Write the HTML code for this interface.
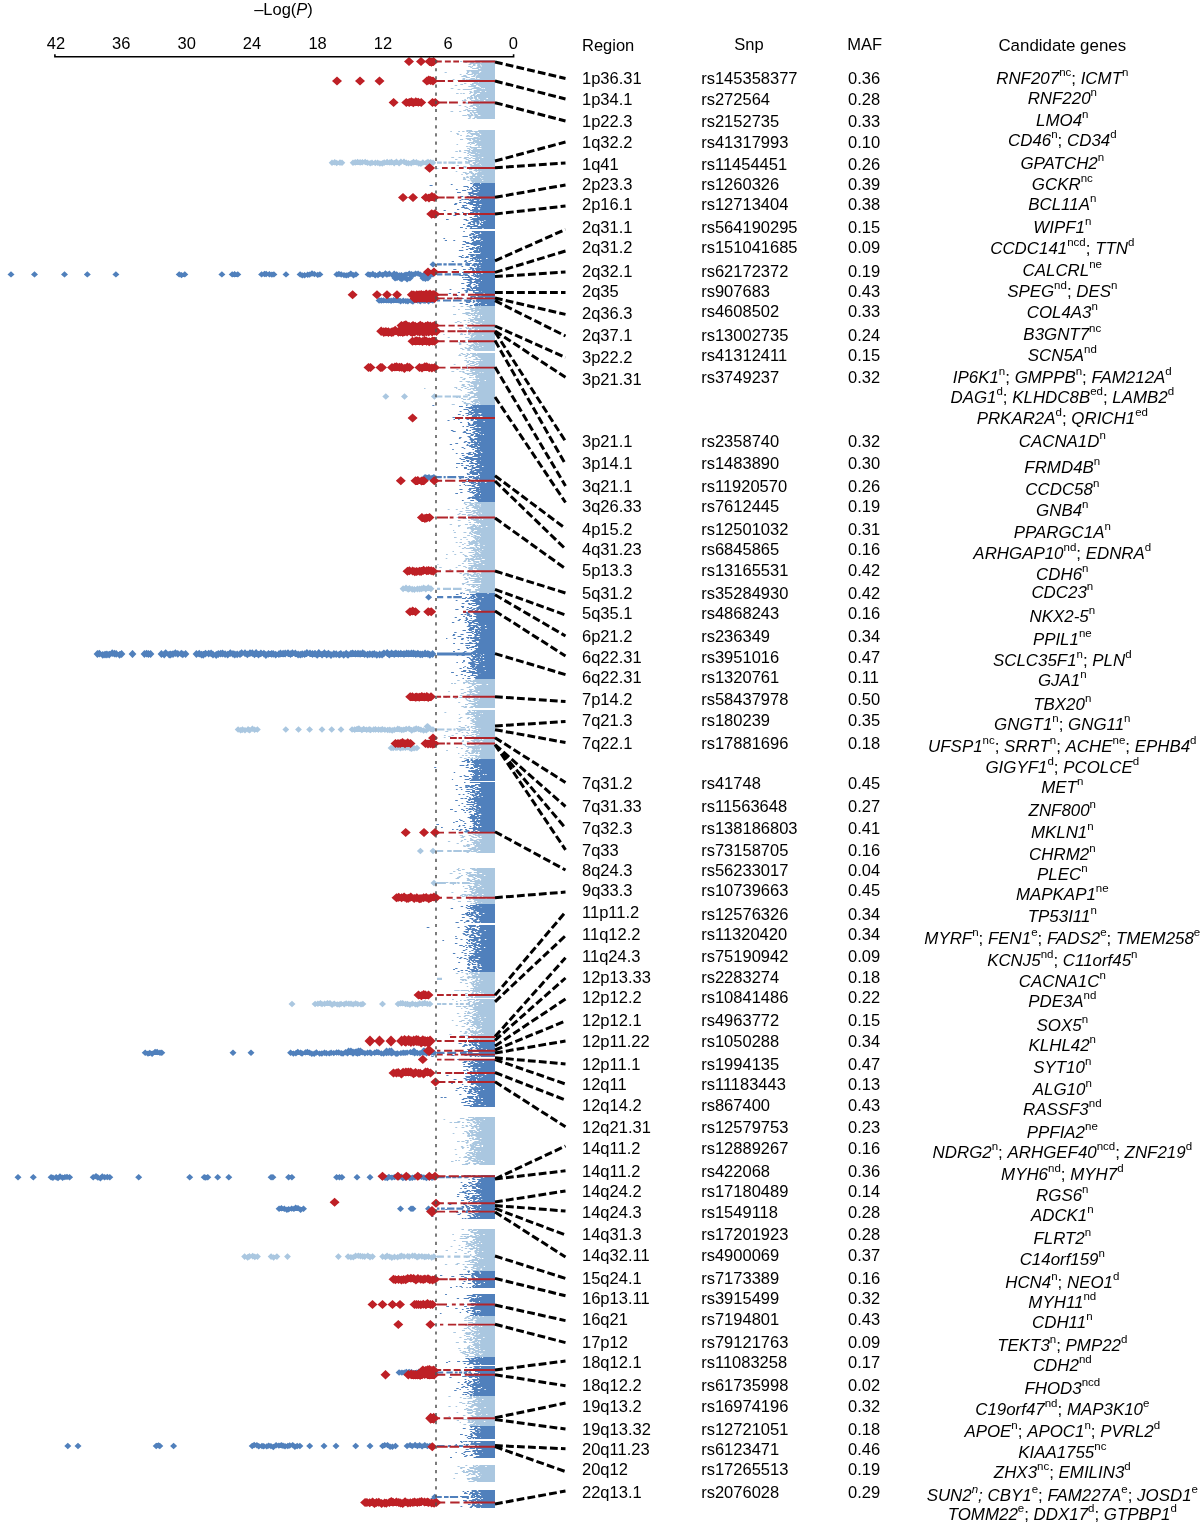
<!DOCTYPE html><html><head><meta charset="utf-8"><style>html,body{margin:0;padding:0;background:#fff}body{width:1200px;height:1525px;overflow:hidden}svg{display:block;will-change:transform}text{font-family:"Liberation Sans",sans-serif;font-size:16.5px;fill:#000}</style></head><body>
<svg width="1200" height="1525" viewBox="0 0 1200 1525">
<path fill="none" stroke="#aac7e0" stroke-width="1.05" d="M475.1 60.5h19.9M456.8 61.5h1.7M460.1 61.5h2.1M464.1 61.5h2.9M467.8 61.5h2.4M471.9 61.5h5.1M478.0 61.5h17.0M464.4 62.5h2.8M470.3 62.5h3.6M475.8 62.5h4.3M481.7 62.5h13.3M469.7 63.5h25.3M468.6 64.5h2.7M473.0 64.5h2.5M477.3 64.5h2.9M480.7 64.5h14.3M472.8 65.5h2.6M477.1 65.5h3.4M481.5 65.5h13.5M468.2 66.5h2.7M471.6 66.5h1.4M477.5 66.5h3.5M481.5 66.5h13.5M470.3 67.5h1.9M476.6 67.5h18.4M472.1 68.5h6.7M480.4 68.5h14.6M477.9 69.5h17.1M466.5 70.5h28.5M466.9 71.5h2.8M470.5 71.5h8.9M481.2 71.5h13.8M444.6 72.5h2.2M466.9 72.5h2.2M471.7 72.5h7.5M480.2 72.5h14.8M466.0 73.5h2.0M471.6 73.5h23.4M459.8 74.5h1.7M467.5 74.5h5.3M473.9 74.5h2.7M477.5 74.5h17.5M463.3 75.5h3.1M473.3 75.5h2.4M476.4 75.5h18.6M461.4 76.5h5.9M471.3 76.5h3.9M475.9 76.5h19.1M465.7 77.5h4.2M475.6 77.5h19.4M462.6 78.5h2.6M470.4 78.5h4.5M475.8 78.5h1.4M479.6 78.5h15.4M452.7 79.5h1.8M462.4 79.5h2.8M466.2 79.5h1.4M468.4 79.5h26.6M457.1 80.5h1.9M474.3 80.5h20.7M464.9 81.5h2.2M472.3 81.5h1.9M476.7 81.5h1.4M480.0 81.5h1.4M482.0 81.5h13.0M473.7 82.5h4.3M478.5 82.5h16.5M464.0 83.5h2.3M472.0 83.5h23.0M460.3 84.5h2.8M470.1 84.5h3.6M475.9 84.5h19.1M454.7 85.5h2.5M471.2 85.5h5.2M478.1 85.5h16.9M468.3 86.5h7.6M479.6 86.5h15.4M473.6 87.5h5.9M480.9 87.5h14.1M450.7 88.5h2.7M471.5 88.5h10.0M482.8 88.5h0.7M484.9 88.5h10.1M457.6 89.5h2.7M462.8 89.5h9.3M476.5 89.5h18.5M473.8 90.5h21.2M469.5 91.5h2.2M473.6 91.5h6.2M481.4 91.5h3.7M486.2 91.5h8.8M470.0 92.5h2.7M473.7 92.5h21.3M456.1 93.5h2.5M460.3 93.5h1.5M462.7 93.5h2.1M469.2 93.5h1.6M473.8 93.5h3.0M479.9 93.5h15.1M473.0 94.5h2.5M477.0 94.5h18.0M470.8 95.5h4.6M475.9 95.5h19.1M470.0 96.5h2.1M474.0 96.5h21.0M467.2 97.5h2.7M470.3 97.5h2.9M474.0 97.5h3.0M478.2 97.5h16.8M467.0 98.5h1.2M469.3 98.5h4.0M474.2 98.5h2.8M478.4 98.5h8.0M488.0 98.5h7.0M464.3 99.5h1.6M469.9 99.5h1.6M475.1 99.5h3.4M479.7 99.5h15.3M461.9 100.5h1.7M464.1 100.5h2.5M471.0 100.5h12.9M485.3 100.5h9.7M473.7 101.5h5.3M479.6 101.5h15.4M465.2 102.5h2.4M468.4 102.5h26.6M466.1 103.5h2.8M470.6 103.5h1.4M472.7 103.5h22.3M472.8 104.5h22.2M458.7 105.5h2.5M470.4 105.5h9.1M480.0 105.5h15.0M464.5 106.5h2.0M469.5 106.5h3.5M476.0 106.5h19.0M466.4 107.5h1.6M473.0 107.5h1.6M477.1 107.5h17.9M468.6 108.5h1.9M472.7 108.5h22.3M465.4 109.5h2.7M475.7 109.5h19.3M463.3 110.5h2.6M467.1 110.5h27.9M450.5 111.5h2.7M459.1 111.5h2.2M467.7 111.5h2.1M472.1 111.5h1.7M476.5 111.5h18.5M469.8 112.5h1.8M472.4 112.5h22.6M469.9 113.5h2.1M473.7 113.5h1.8M477.7 113.5h17.3M467.0 114.5h2.7M470.8 114.5h2.3M474.1 114.5h3.4M478.0 114.5h17.0M462.3 115.5h4.5M467.7 115.5h5.8M474.3 115.5h3.8M480.4 115.5h14.6M468.6 116.5h2.7M474.6 116.5h20.4M469.3 117.5h1.6M474.1 117.5h20.9M467.9 118.5h2.6M472.4 118.5h2.6M476.7 118.5h18.3M466.3 130.5h5.8M478.2 130.5h16.8M450.3 131.5h1.6M458.2 131.5h1.8M462.2 131.5h2.3M466.3 131.5h1.7M468.4 131.5h4.8M473.7 131.5h21.3M468.0 132.5h2.5M475.1 132.5h2.4M479.0 132.5h16.0M456.3 133.5h2.3M467.1 133.5h1.3M469.5 133.5h10.1M480.2 133.5h14.8M457.0 134.5h2.2M470.7 134.5h9.1M481.2 134.5h13.8M460.2 135.5h1.7M466.6 135.5h2.8M471.8 135.5h1.3M476.0 135.5h19.0M465.9 136.5h2.0M468.3 136.5h4.2M477.7 136.5h17.3M473.5 137.5h5.3M479.4 137.5h15.6M465.7 138.5h29.3M460.0 139.5h3.1M467.2 139.5h3.7M472.1 139.5h3.3M476.7 139.5h18.3M469.3 140.5h2.0M473.2 140.5h6.0M480.4 140.5h14.6M472.8 141.5h22.2M468.4 142.5h6.0M474.9 142.5h20.1M467.3 143.5h2.6M471.2 143.5h3.8M476.7 143.5h18.3M456.5 144.5h1.6M470.0 144.5h1.3M475.9 144.5h19.1M474.7 145.5h2.1M477.6 145.5h17.4M466.1 146.5h2.4M469.3 146.5h1.9M478.3 146.5h1.5M481.3 146.5h13.7M469.9 147.5h25.1M467.2 148.5h2.6M471.3 148.5h1.3M473.3 148.5h3.7M481.5 148.5h13.5M469.0 149.5h1.8M472.8 149.5h22.2M459.2 150.5h1.6M464.2 150.5h5.7M470.9 150.5h24.1M455.3 151.5h2.6M459.0 151.5h2.2M467.4 151.5h2.9M471.9 151.5h23.1M463.7 152.5h2.5M468.2 152.5h7.7M476.6 152.5h18.4M467.2 153.5h1.9M470.7 153.5h7.8M479.4 153.5h15.6M469.1 154.5h1.6M474.9 154.5h20.1M467.3 155.5h1.7M470.1 155.5h24.9M472.6 156.5h6.0M479.1 156.5h15.9M451.3 157.5h2.8M458.5 157.5h2.9M464.2 157.5h4.7M470.8 157.5h1.6M475.5 157.5h6.2M483.3 157.5h11.7M463.7 158.5h2.9M468.8 158.5h2.1M472.5 158.5h22.5M455.1 159.5h2.3M465.8 159.5h2.9M474.9 159.5h4.1M480.0 159.5h15.0M468.0 160.5h27.0M465.0 161.5h1.8M468.1 161.5h4.2M475.1 161.5h19.9M465.9 162.5h1.5M472.7 162.5h4.9M478.5 162.5h16.5M452.4 163.5h2.0M472.6 163.5h3.7M477.3 163.5h17.7M469.4 164.5h2.5M473.9 164.5h5.9M480.7 164.5h14.3M456.7 165.5h2.2M470.3 165.5h10.6M481.4 165.5h13.6M463.3 166.5h3.1M470.3 166.5h24.7M462.3 167.5h1.4M464.5 167.5h1.6M470.8 167.5h3.1M476.1 167.5h3.0M479.7 167.5h15.3M435.8 168.5h2.6M467.5 168.5h2.2M473.2 168.5h21.8M468.9 169.5h3.3M474.6 169.5h2.5M477.9 169.5h17.1M473.6 170.5h21.4M455.7 171.5h1.6M469.2 171.5h2.9M475.5 171.5h1.7M478.5 171.5h2.1M481.2 171.5h13.8M462.8 172.5h3.7M469.0 172.5h3.8M477.5 172.5h17.5M465.0 173.5h4.2M470.7 173.5h3.3M474.8 173.5h20.2M461.3 174.5h1.5M466.1 174.5h1.5M472.3 174.5h3.9M476.8 174.5h18.2M472.2 175.5h3.2M477.1 175.5h5.2M483.4 175.5h11.6M466.5 176.5h1.9M469.7 176.5h25.3M463.1 177.5h2.1M466.2 177.5h2.9M470.4 177.5h2.6M474.8 177.5h5.6M481.0 177.5h14.0M463.2 178.5h2.4M469.6 178.5h11.8M482.3 178.5h12.7M462.9 179.5h3.2M470.2 179.5h1.6M472.3 179.5h22.7M467.5 180.5h2.0M470.5 180.5h11.7M483.3 180.5h11.7M471.4 181.5h23.6M472.0 182.5h2.0M474.5 182.5h20.5M452.8 306.5h2.4M460.6 306.5h2.7M466.7 306.5h4.8M474.8 306.5h20.2M469.3 307.5h2.2M475.2 307.5h19.8M470.4 308.5h9.2M480.3 308.5h14.7M458.0 309.5h1.8M465.0 309.5h8.2M474.9 309.5h20.1M471.2 310.5h23.8M471.3 311.5h2.2M474.8 311.5h2.5M479.0 311.5h16.0M465.4 312.5h4.4M474.0 312.5h2.7M477.4 312.5h17.6M462.3 313.5h32.7M453.1 314.5h3.0M465.8 314.5h2.6M471.0 314.5h1.7M473.7 314.5h1.4M477.1 314.5h17.9M467.8 315.5h3.2M472.2 315.5h6.3M479.9 315.5h1.1M482.1 315.5h12.9M475.2 316.5h3.1M479.6 316.5h15.4M471.9 317.5h2.4M474.9 317.5h2.6M479.9 317.5h15.1M468.4 318.5h2.0M473.9 318.5h21.1M469.9 319.5h25.1M463.7 320.5h2.4M467.6 320.5h1.8M470.0 320.5h3.4M474.9 320.5h8.1M484.3 320.5h10.7M457.1 321.5h2.5M470.0 321.5h4.6M478.2 321.5h16.8M454.8 322.5h2.4M459.9 322.5h1.7M467.7 322.5h1.9M472.8 322.5h22.2M471.3 323.5h1.6M475.5 323.5h5.0M481.7 323.5h13.3M465.3 324.5h1.7M472.0 324.5h2.0M480.0 324.5h15.0M470.0 325.5h5.0M476.2 325.5h7.6M485.0 325.5h10.0M473.5 326.5h21.5M465.4 327.5h1.5M467.6 327.5h1.4M471.9 327.5h23.1M459.2 328.5h2.6M466.1 328.5h5.0M471.6 328.5h2.1M474.5 328.5h20.5M469.1 329.5h2.4M474.4 329.5h3.5M479.1 329.5h15.9M474.9 330.5h1.2M479.2 330.5h1.3M482.1 330.5h12.9M464.8 331.5h1.5M467.0 331.5h3.5M473.4 331.5h1.3M479.4 331.5h15.6M468.3 332.5h2.5M474.0 332.5h21.0M460.6 333.5h1.9M468.1 333.5h3.4M472.1 333.5h22.9M443.3 334.5h1.4M460.0 334.5h3.0M463.9 334.5h2.1M468.1 334.5h2.1M471.4 334.5h23.6M470.4 335.5h4.1M475.5 335.5h6.8M483.4 335.5h11.6M470.9 336.5h2.1M474.4 336.5h20.6M447.7 337.5h2.1M465.1 337.5h4.2M470.9 337.5h1.8M473.3 337.5h21.7M469.6 338.5h25.4M467.8 339.5h27.2M473.8 340.5h21.2M471.8 341.5h7.8M481.1 341.5h13.9M458.5 342.5h1.9M462.8 342.5h3.8M468.4 342.5h3.1M472.7 342.5h4.3M478.1 342.5h16.9M459.0 343.5h2.3M473.6 343.5h4.5M478.8 343.5h16.2M458.9 344.5h2.4M466.6 344.5h1.5M471.4 344.5h2.9M474.9 344.5h20.1M468.4 345.5h7.0M476.0 345.5h1.5M478.5 345.5h16.5M469.7 346.5h2.7M473.2 346.5h9.0M483.4 346.5h11.6M464.6 347.5h1.9M468.6 347.5h2.5M472.9 347.5h6.4M480.4 347.5h14.6M460.2 348.5h2.5M465.3 348.5h7.8M473.6 348.5h3.2M477.2 348.5h17.8M462.1 349.5h2.3M467.3 349.5h2.7M472.7 349.5h22.3M467.3 350.5h3.4M474.4 350.5h20.6M460.7 353.5h2.4M466.4 353.5h2.1M470.0 353.5h6.2M477.1 353.5h17.9M459.2 354.5h1.3M462.4 354.5h3.1M467.2 354.5h2.8M472.2 354.5h22.8M458.4 355.5h2.9M465.6 355.5h2.4M472.2 355.5h2.0M474.6 355.5h20.4M464.5 356.5h2.6M471.3 356.5h4.1M477.7 356.5h17.3M468.5 357.5h2.6M475.4 357.5h1.9M478.5 357.5h16.5M465.6 358.5h1.7M475.5 358.5h2.3M480.5 358.5h14.5M473.3 359.5h21.7M464.3 360.5h2.8M468.6 360.5h1.5M479.8 360.5h1.5M482.4 360.5h12.6M466.6 361.5h2.5M470.0 361.5h4.5M476.3 361.5h18.7M466.7 362.5h2.2M472.2 362.5h4.2M478.3 362.5h16.7M469.5 363.5h4.7M476.0 363.5h19.0M453.7 364.5h1.8M467.5 364.5h2.7M474.3 364.5h3.3M478.9 364.5h16.1M466.1 365.5h1.2M470.1 365.5h4.9M478.3 365.5h16.7M466.3 366.5h1.4M474.8 366.5h20.2M430.9 367.5h2.3M465.7 367.5h2.1M468.2 367.5h1.9M474.3 367.5h20.7M466.3 368.5h2.4M471.2 368.5h3.0M475.3 368.5h3.5M479.2 368.5h15.8M456.4 369.5h2.0M461.6 369.5h3.0M470.0 369.5h25.0M466.4 370.5h2.3M470.4 370.5h24.6M451.4 371.5h2.8M459.2 371.5h2.4M462.2 371.5h2.0M469.7 371.5h3.0M475.0 371.5h20.0M462.6 372.5h2.2M471.7 372.5h8.0M480.5 372.5h1.9M483.4 372.5h11.6M464.7 373.5h30.3M466.9 374.5h2.4M472.5 374.5h4.4M477.7 374.5h17.3M469.5 375.5h3.9M475.7 375.5h19.3M475.1 376.5h19.9M460.2 377.5h2.4M469.0 377.5h2.7M472.5 377.5h1.2M475.3 377.5h19.7M463.6 378.5h2.1M476.3 378.5h1.3M479.1 378.5h15.9M462.3 379.5h2.8M472.8 379.5h22.2M475.5 380.5h9.1M486.0 380.5h9.0M459.5 381.5h2.8M465.7 381.5h4.4M471.7 381.5h7.6M479.9 381.5h15.1M467.6 382.5h1.2M469.5 382.5h25.5M470.9 383.5h24.1M461.8 384.5h3.0M467.5 384.5h2.6M473.2 384.5h4.5M478.3 384.5h16.7M461.5 385.5h3.0M468.9 385.5h1.6M471.1 385.5h1.7M473.6 385.5h3.6M479.0 385.5h16.0M463.3 386.5h2.9M469.6 386.5h7.4M478.4 386.5h16.6M454.3 387.5h2.9M460.9 387.5h2.2M466.9 387.5h1.8M474.0 387.5h21.0M424.0 388.5h1.5M456.1 388.5h1.2M464.7 388.5h2.2M470.3 388.5h24.7M458.2 389.5h2.6M467.4 389.5h3.7M472.6 389.5h1.9M475.9 389.5h19.1M460.6 390.5h1.3M473.3 390.5h21.7M470.5 391.5h2.5M477.7 391.5h17.3M467.5 392.5h6.0M476.1 392.5h18.9M469.7 393.5h25.3M465.3 394.5h1.3M467.6 394.5h2.1M474.0 394.5h21.0M467.5 395.5h2.5M473.7 395.5h21.3M471.2 396.5h4.1M476.8 396.5h18.2M456.1 397.5h1.9M459.0 397.5h1.5M469.4 397.5h25.6M461.2 398.5h1.9M468.7 398.5h2.6M477.9 398.5h17.1M463.0 399.5h3.1M467.2 399.5h3.1M474.4 399.5h20.6M473.1 400.5h21.9M461.9 401.5h1.7M470.7 401.5h7.7M478.9 401.5h16.1M463.6 402.5h2.5M471.8 402.5h1.2M474.7 402.5h4.7M479.9 402.5h15.1M463.8 403.5h6.6M473.1 403.5h3.2M478.5 403.5h16.5M451.7 404.5h3.1M465.8 404.5h2.7M469.9 404.5h3.5M474.3 404.5h1.8M477.1 404.5h2.0M480.2 404.5h14.8M464.0 502.5h7.1M474.5 502.5h20.5M463.8 503.5h1.6M469.4 503.5h5.1M475.3 503.5h19.7M464.9 504.5h2.2M469.7 504.5h3.1M474.4 504.5h3.1M478.4 504.5h1.4M480.6 504.5h14.4M468.5 505.5h5.4M474.8 505.5h4.8M480.4 505.5h14.6M466.7 506.5h2.1M472.7 506.5h7.2M480.4 506.5h14.6M465.8 507.5h1.3M471.7 507.5h23.3M462.1 508.5h1.4M466.0 508.5h3.0M474.1 508.5h4.0M478.9 508.5h16.1M447.7 509.5h1.9M455.8 509.5h2.0M476.5 509.5h18.5M465.4 510.5h5.5M472.4 510.5h22.6M459.6 511.5h2.9M471.3 511.5h4.3M477.4 511.5h17.6M466.1 512.5h5.5M473.4 512.5h7.3M481.2 512.5h13.8M458.8 513.5h2.0M472.6 513.5h2.0M475.8 513.5h2.5M478.8 513.5h2.0M481.8 513.5h13.2M457.4 514.5h2.1M461.8 514.5h4.1M467.9 514.5h4.7M476.5 514.5h18.5M467.1 515.5h3.4M471.6 515.5h5.1M477.7 515.5h17.3M471.3 516.5h6.4M479.1 516.5h15.9M456.7 517.5h4.6M468.0 517.5h5.0M474.1 517.5h1.7M476.3 517.5h18.7M462.8 518.5h4.2M469.4 518.5h5.0M475.0 518.5h20.0M471.0 519.5h7.9M480.2 519.5h1.6M483.1 519.5h11.9M457.7 520.5h2.8M468.3 520.5h1.4M473.3 520.5h21.7M475.9 521.5h19.1M468.7 522.5h2.3M474.2 522.5h20.8M477.4 523.5h1.5M480.1 523.5h14.9M449.7 524.5h2.4M464.9 524.5h3.1M469.5 524.5h2.0M472.6 524.5h2.4M480.9 524.5h14.1M458.0 525.5h2.8M472.3 525.5h3.8M476.7 525.5h1.3M478.6 525.5h16.4M458.1 526.5h1.6M470.5 526.5h6.8M478.3 526.5h7.6M487.4 526.5h7.6M467.3 527.5h6.2M475.0 527.5h5.9M482.3 527.5h12.7M467.0 528.5h1.8M469.4 528.5h25.6M470.7 529.5h24.3M453.0 530.5h1.2M471.4 530.5h2.6M477.1 530.5h17.9M470.7 531.5h2.5M474.5 531.5h20.5M453.8 532.5h2.1M463.5 532.5h2.9M469.4 532.5h1.7M472.1 532.5h22.9M469.1 533.5h2.7M473.7 533.5h6.7M480.8 533.5h14.2M470.9 534.5h2.1M476.4 534.5h18.6M467.2 535.5h2.8M473.5 535.5h2.9M480.0 535.5h15.0M471.1 536.5h2.4M474.4 536.5h5.4M480.7 536.5h14.3M454.0 537.5h2.6M463.1 537.5h3.3M473.1 537.5h3.0M476.5 537.5h18.5M474.4 538.5h4.9M479.7 538.5h15.3M460.3 539.5h1.6M466.4 539.5h1.3M475.2 539.5h2.8M478.5 539.5h16.5M472.4 540.5h2.5M475.9 540.5h19.1M467.8 541.5h2.4M471.1 541.5h23.9M455.7 542.5h1.9M459.5 542.5h2.5M468.6 542.5h9.1M478.6 542.5h16.4M464.2 543.5h1.4M468.4 543.5h10.3M479.5 543.5h15.5M462.1 544.5h1.8M469.1 544.5h3.8M474.8 544.5h3.0M479.8 544.5h15.2M466.6 545.5h3.0M474.2 545.5h9.2M484.6 545.5h10.4M458.8 546.5h1.7M475.4 546.5h1.6M479.7 546.5h15.3M464.0 547.5h1.9M469.7 547.5h4.8M475.6 547.5h3.2M480.0 547.5h15.0M461.9 548.5h2.4M465.7 548.5h9.9M476.8 548.5h18.2M473.0 549.5h9.2M483.3 549.5h11.7M471.3 550.5h8.1M480.0 550.5h15.0M452.5 551.5h1.5M474.5 551.5h2.3M478.1 551.5h2.5M481.2 551.5h13.8M459.9 552.5h2.6M468.5 552.5h5.9M475.3 552.5h3.1M479.6 552.5h15.4M474.9 553.5h4.3M480.6 553.5h14.4M446.0 554.5h1.8M454.3 554.5h1.9M462.7 554.5h1.6M472.6 554.5h22.4M464.2 555.5h2.4M469.5 555.5h2.8M474.2 555.5h2.4M477.1 555.5h17.9M464.9 556.5h3.0M471.3 556.5h23.7M472.6 557.5h2.6M475.7 557.5h1.9M478.5 557.5h2.5M481.7 557.5h13.3M445.7 558.5h1.6M465.4 558.5h4.0M470.2 558.5h3.5M475.3 558.5h19.7M465.4 559.5h1.9M468.0 559.5h13.7M484.8 559.5h10.2M464.3 560.5h2.1M468.0 560.5h1.7M471.4 560.5h3.1M480.2 560.5h14.8M463.4 561.5h2.4M467.8 561.5h3.0M473.1 561.5h6.4M480.1 561.5h14.9M473.5 562.5h1.3M475.4 562.5h3.9M480.9 562.5h14.1M461.9 563.5h2.0M468.1 563.5h4.6M473.2 563.5h3.1M478.5 563.5h16.5M437.3 564.5h1.2M473.7 564.5h9.1M484.4 564.5h10.6M458.1 565.5h2.7M468.6 565.5h26.4M463.2 566.5h2.5M470.9 566.5h24.1M439.2 567.5h2.5M455.6 567.5h1.8M465.3 567.5h1.8M468.4 567.5h5.0M474.8 567.5h2.4M478.2 567.5h16.8M468.1 568.5h5.2M474.0 568.5h21.0M449.4 569.5h1.8M468.8 569.5h4.0M476.8 569.5h18.2M467.8 570.5h2.6M471.9 570.5h2.8M476.4 570.5h18.6M466.8 571.5h11.0M478.4 571.5h16.6M472.6 572.5h3.6M481.2 572.5h13.8M459.6 573.5h2.2M464.3 573.5h4.5M473.9 573.5h1.9M476.5 573.5h3.2M480.8 573.5h14.2M463.1 574.5h2.4M466.6 574.5h4.7M472.9 574.5h5.0M478.6 574.5h16.4M462.8 575.5h1.4M467.0 575.5h2.1M470.1 575.5h4.4M475.8 575.5h3.1M479.4 575.5h15.6M471.0 576.5h8.2M479.9 576.5h15.1M463.7 577.5h2.2M468.6 577.5h1.6M477.3 577.5h3.2M481.9 577.5h13.1M465.7 578.5h1.8M468.9 578.5h26.1M464.6 579.5h3.6M474.6 579.5h20.4M470.4 580.5h9.2M480.8 580.5h14.2M467.0 581.5h1.8M474.4 581.5h20.6M465.5 582.5h2.9M472.7 582.5h7.7M480.8 582.5h14.2M461.9 583.5h3.5M481.2 583.5h13.8M462.3 584.5h1.7M466.5 584.5h28.5M468.6 585.5h1.2M472.3 585.5h2.4M475.7 585.5h2.7M479.8 585.5h15.2M471.1 586.5h4.9M477.7 586.5h17.3M472.9 587.5h1.5M476.4 587.5h2.5M479.9 587.5h15.1M464.8 588.5h1.4M478.2 588.5h16.8M466.8 589.5h4.3M475.0 589.5h20.0M465.4 590.5h5.4M475.4 590.5h19.6M469.1 591.5h1.8M471.5 591.5h5.5M479.1 591.5h15.9M460.3 592.5h2.6M469.2 592.5h25.8M474.7 679.5h20.3M457.2 680.5h2.4M465.3 680.5h1.9M467.8 680.5h3.6M472.7 680.5h22.3M465.8 681.5h2.8M469.9 681.5h25.1M463.0 682.5h3.8M467.4 682.5h2.4M472.9 682.5h1.5M476.3 682.5h18.7M451.0 683.5h2.0M454.0 683.5h2.1M463.2 683.5h1.8M468.2 683.5h26.8M471.7 684.5h4.0M481.7 684.5h4.8M488.1 684.5h6.9M471.8 685.5h2.0M475.9 685.5h2.9M479.3 685.5h15.7M469.1 686.5h2.8M474.0 686.5h1.7M476.9 686.5h18.1M466.6 687.5h3.9M474.3 687.5h20.7M474.6 688.5h20.4M460.7 689.5h2.9M469.0 689.5h4.4M475.2 689.5h19.8M469.7 690.5h2.2M473.7 690.5h21.3M448.2 691.5h1.6M467.2 691.5h10.8M479.5 691.5h15.5M463.7 692.5h2.4M469.4 692.5h2.8M475.7 692.5h19.3M460.9 693.5h2.9M469.8 693.5h1.4M472.1 693.5h2.5M477.5 693.5h17.5M466.8 694.5h28.2M459.8 695.5h2.4M466.5 695.5h3.4M472.4 695.5h22.6M467.1 696.5h2.8M470.9 696.5h5.9M477.6 696.5h17.4M444.5 697.5h2.5M456.3 697.5h1.6M459.3 697.5h2.9M466.0 697.5h2.8M469.5 697.5h5.5M476.2 697.5h2.9M479.8 697.5h15.2M454.6 698.5h2.1M465.2 698.5h1.7M468.4 698.5h1.6M473.8 698.5h4.8M479.6 698.5h15.4M465.8 699.5h1.8M472.7 699.5h22.3M466.7 700.5h4.4M473.7 700.5h4.0M478.3 700.5h16.7M468.8 701.5h6.6M477.0 701.5h18.0M458.2 702.5h2.0M474.4 702.5h20.6M468.2 703.5h26.8M465.0 704.5h3.1M471.6 704.5h4.5M477.5 704.5h17.5M473.6 705.5h21.4M461.3 706.5h2.8M464.6 706.5h2.5M470.5 706.5h24.5M463.6 707.5h3.2M469.4 707.5h3.7M475.0 707.5h20.0M467.9 710.5h2.5M471.8 710.5h23.2M468.8 711.5h2.0M473.9 711.5h1.2M476.4 711.5h18.6M444.4 712.5h1.9M467.0 712.5h28.0M465.5 713.5h3.8M471.1 713.5h9.1M480.6 713.5h1.2M482.8 713.5h12.2M458.8 714.5h1.3M465.5 714.5h9.3M475.9 714.5h19.1M473.1 715.5h21.9M471.4 716.5h1.6M473.5 716.5h5.4M480.1 716.5h14.9M460.1 717.5h2.3M467.6 717.5h2.2M475.0 717.5h20.0M458.8 718.5h1.9M466.8 718.5h2.1M470.3 718.5h1.4M473.4 718.5h21.6M471.7 719.5h2.5M475.1 719.5h19.9M470.4 720.5h4.1M476.2 720.5h18.8M458.4 721.5h2.4M471.6 721.5h23.4M472.5 722.5h22.5M470.3 723.5h2.3M474.8 723.5h20.2M472.9 724.5h22.1M464.9 725.5h1.8M475.4 725.5h19.6M458.8 726.5h1.9M467.4 726.5h2.0M470.9 726.5h24.1M460.6 727.5h4.5M466.7 727.5h2.3M470.7 727.5h1.8M474.5 727.5h20.5M456.1 728.5h2.0M472.3 728.5h4.0M478.3 728.5h1.5M480.3 728.5h14.7M475.4 729.5h19.6M459.5 730.5h3.0M466.3 730.5h3.8M471.6 730.5h1.4M473.5 730.5h3.1M478.0 730.5h17.0M445.3 731.5h2.9M458.2 731.5h2.2M473.2 731.5h21.8M461.6 732.5h1.7M466.1 732.5h1.9M471.0 732.5h7.8M479.6 732.5h15.4M455.5 733.5h2.2M467.5 733.5h1.6M476.2 733.5h18.8M471.7 734.5h2.2M474.7 734.5h2.6M479.2 734.5h15.8M443.9 735.5h1.8M451.5 735.5h2.3M462.7 735.5h2.3M466.1 735.5h2.5M469.2 735.5h2.7M476.2 735.5h18.8M448.2 736.5h2.4M464.4 736.5h1.7M471.6 736.5h2.7M475.7 736.5h19.3M443.8 737.5h1.8M464.5 737.5h1.6M466.8 737.5h2.2M471.2 737.5h23.8M468.5 738.5h9.2M478.8 738.5h16.2M473.7 739.5h5.7M480.5 739.5h1.6M483.5 739.5h11.5M462.3 740.5h1.7M470.7 740.5h24.3M461.7 741.5h2.1M466.8 741.5h2.5M472.4 741.5h2.9M476.4 741.5h3.9M482.5 741.5h12.5M473.6 742.5h5.9M480.3 742.5h14.7M469.3 743.5h2.3M476.4 743.5h2.8M480.6 743.5h14.4M462.7 744.5h3.0M467.1 744.5h2.8M471.2 744.5h4.8M479.0 744.5h16.0M464.7 745.5h1.3M474.4 745.5h2.3M477.3 745.5h17.7M465.8 746.5h13.9M480.2 746.5h14.8M456.2 747.5h1.8M467.9 747.5h27.1M460.9 748.5h1.9M467.1 748.5h1.8M471.8 748.5h8.4M481.1 748.5h13.9M472.5 749.5h2.9M476.0 749.5h1.6M478.3 749.5h1.3M481.1 749.5h13.9M446.1 750.5h1.9M465.9 750.5h2.7M471.6 750.5h23.4M465.2 751.5h2.7M471.4 751.5h23.6M467.8 752.5h2.1M471.4 752.5h3.6M475.8 752.5h2.3M479.6 752.5h15.4M458.0 753.5h1.4M464.9 753.5h1.7M468.6 753.5h5.1M475.3 753.5h3.0M478.9 753.5h16.1M480.0 754.5h15.0M461.9 755.5h2.1M465.3 755.5h2.1M469.9 755.5h7.5M478.8 755.5h16.2M475.2 756.5h19.8M459.7 757.5h2.5M467.8 757.5h2.2M471.8 757.5h1.2M475.5 757.5h1.6M477.8 757.5h17.2M463.9 758.5h2.7M470.3 758.5h3.1M474.0 758.5h1.5M476.6 758.5h2.5M480.4 758.5h14.6M464.7 832.5h30.3M467.7 833.5h5.2M474.6 833.5h20.4M472.7 834.5h3.8M477.6 834.5h17.4M459.7 835.5h3.2M468.7 835.5h2.6M474.9 835.5h20.1M461.9 836.5h3.3M471.1 836.5h2.6M477.6 836.5h2.3M481.4 836.5h13.6M460.6 837.5h3.3M472.5 837.5h4.4M478.7 837.5h16.3M470.0 838.5h1.7M481.9 838.5h13.1M464.0 839.5h2.2M470.3 839.5h3.0M476.4 839.5h18.6M461.2 840.5h1.9M469.9 840.5h7.5M478.7 840.5h16.3M447.9 841.5h2.3M460.5 841.5h1.6M467.0 841.5h1.7M473.9 841.5h4.8M479.4 841.5h15.6M471.7 842.5h23.3M456.6 843.5h2.2M473.1 843.5h6.9M480.6 843.5h14.4M466.7 844.5h2.9M470.4 844.5h1.9M473.1 844.5h1.6M476.0 844.5h19.0M463.2 845.5h1.5M465.6 845.5h4.6M474.4 845.5h20.6M463.4 846.5h2.5M466.7 846.5h2.8M474.5 846.5h20.5M471.6 847.5h4.8M477.8 847.5h17.2M467.8 848.5h8.3M476.6 848.5h18.4M469.6 849.5h25.4M464.8 850.5h6.7M473.4 850.5h4.9M480.3 850.5h14.7M458.9 851.5h1.7M465.6 851.5h2.0M470.6 851.5h6.7M478.1 851.5h16.9M466.6 852.5h2.2M476.4 852.5h18.6M458.1 868.5h1.5M470.0 868.5h5.5M476.6 868.5h18.4M456.7 869.5h2.2M461.9 869.5h2.8M471.7 869.5h23.3M458.0 870.5h2.9M473.5 870.5h21.5M453.1 871.5h2.3M476.9 871.5h18.1M465.7 872.5h2.4M468.5 872.5h3.3M473.9 872.5h21.1M449.7 873.5h2.8M458.7 873.5h2.0M466.8 873.5h3.9M476.8 873.5h2.6M482.1 873.5h12.9M465.9 874.5h1.3M469.3 874.5h7.3M477.1 874.5h17.9M461.0 875.5h1.9M467.5 875.5h16.4M485.4 875.5h9.6M458.6 876.5h2.6M468.4 876.5h5.0M475.1 876.5h19.9M457.1 877.5h3.1M472.5 877.5h2.8M477.2 877.5h17.8M455.6 878.5h3.3M466.7 878.5h2.4M473.7 878.5h3.1M480.3 878.5h14.7M467.2 879.5h3.1M471.9 879.5h3.4M477.6 879.5h2.0M481.1 879.5h13.9M466.8 880.5h5.3M474.4 880.5h6.0M480.9 880.5h14.1M470.0 881.5h25.0M445.6 882.5h2.8M456.8 882.5h1.7M466.8 882.5h2.0M474.7 882.5h20.3M467.2 883.5h4.7M472.5 883.5h22.5M452.7 884.5h1.3M474.1 884.5h4.5M479.6 884.5h15.4M467.7 885.5h2.5M474.4 885.5h5.5M481.3 885.5h13.7M462.9 886.5h1.3M469.1 886.5h3.0M472.8 886.5h4.6M479.5 886.5h15.5M469.1 887.5h2.3M473.1 887.5h21.9M464.7 888.5h3.2M469.9 888.5h4.3M476.0 888.5h6.5M483.7 888.5h11.3M469.3 889.5h4.2M474.0 889.5h21.0M471.9 890.5h2.6M475.4 890.5h19.6M464.1 891.5h2.7M469.7 891.5h3.0M474.9 891.5h20.1M451.4 892.5h2.0M471.0 892.5h24.0M471.5 893.5h5.3M478.2 893.5h16.8M461.7 894.5h4.8M467.3 894.5h4.8M473.7 894.5h1.9M476.5 894.5h5.5M483.6 894.5h11.4M460.1 895.5h2.5M464.3 895.5h4.0M469.0 895.5h26.0M462.0 896.5h2.7M465.6 896.5h1.5M472.7 896.5h4.3M479.7 896.5h2.2M483.1 896.5h11.9M472.0 897.5h23.0M473.4 898.5h4.3M478.8 898.5h6.6M487.0 898.5h8.0M452.5 899.5h2.7M468.9 899.5h1.8M472.7 899.5h22.3M474.2 900.5h20.8M457.9 901.5h3.0M467.0 901.5h4.5M473.7 901.5h1.9M477.2 901.5h17.8M474.8 902.5h6.8M482.1 902.5h12.9M470.4 903.5h1.8M472.7 903.5h4.4M478.3 903.5h16.7M461.3 972.5h1.9M469.8 972.5h3.6M475.3 972.5h2.3M479.7 972.5h15.3M455.8 973.5h2.4M465.5 973.5h2.5M468.9 973.5h1.6M471.3 973.5h7.0M479.4 973.5h15.6M466.5 974.5h1.7M471.2 974.5h1.4M474.3 974.5h20.7M472.1 975.5h4.4M478.1 975.5h16.9M462.6 976.5h1.2M467.6 976.5h2.9M471.6 976.5h23.4M460.2 977.5h2.3M466.9 977.5h28.1M467.6 978.5h1.6M472.6 978.5h2.5M475.8 978.5h2.4M479.7 978.5h15.3M460.1 979.5h6.3M471.1 979.5h1.4M475.7 979.5h2.3M479.5 979.5h15.5M461.7 980.5h2.5M464.8 980.5h2.3M474.8 980.5h6.7M482.5 980.5h12.5M472.2 981.5h5.0M478.9 981.5h16.1M459.9 982.5h2.2M469.5 982.5h2.4M472.6 982.5h2.3M475.8 982.5h19.2M465.2 983.5h2.7M470.8 983.5h3.5M475.2 983.5h4.3M480.1 983.5h14.9M471.5 984.5h23.5M472.3 985.5h1.7M475.5 985.5h19.5M466.8 986.5h1.4M472.7 986.5h4.1M477.6 986.5h17.4M473.9 987.5h21.1M470.4 988.5h24.6M473.0 989.5h1.4M474.8 989.5h20.2M454.2 990.5h5.4M460.5 990.5h8.4M470.1 990.5h24.9M468.4 991.5h1.5M472.5 991.5h7.5M481.1 991.5h13.9M472.1 992.5h1.6M475.8 992.5h1.4M478.6 992.5h16.4M465.0 993.5h2.5M471.3 993.5h2.4M475.2 993.5h3.1M481.3 993.5h1.3M483.6 993.5h11.4M449.0 994.5h2.9M472.5 994.5h2.9M476.8 994.5h18.2M465.6 995.5h1.8M468.9 995.5h6.9M480.1 995.5h14.9M468.7 996.5h4.3M475.0 996.5h20.0M466.2 997.5h2.5M470.9 997.5h2.3M474.0 997.5h21.0M452.0 999.5h1.8M467.4 999.5h7.6M476.1 999.5h18.9M460.0 1000.5h1.5M463.7 1000.5h2.8M467.4 1000.5h1.9M474.4 1000.5h4.1M479.6 1000.5h15.4M456.0 1001.5h1.5M469.1 1001.5h2.6M473.4 1001.5h1.7M479.0 1001.5h16.0M467.8 1002.5h2.3M472.5 1002.5h2.3M475.6 1002.5h19.4M473.2 1003.5h8.5M483.2 1003.5h11.8M471.7 1004.5h23.3M468.7 1005.5h4.5M474.1 1005.5h2.3M478.1 1005.5h16.9M456.0 1006.5h5.2M462.7 1006.5h4.7M468.4 1006.5h4.3M474.2 1006.5h20.8M464.2 1007.5h1.6M472.5 1007.5h22.5M461.1 1008.5h1.3M465.8 1008.5h2.4M473.2 1008.5h21.8M469.6 1009.5h25.4M474.6 1010.5h20.4M464.8 1011.5h1.9M467.9 1011.5h1.3M472.8 1011.5h3.1M477.6 1011.5h17.4M467.5 1012.5h3.0M471.4 1012.5h1.7M475.9 1012.5h19.1M456.9 1013.5h2.3M464.1 1013.5h1.9M467.0 1013.5h4.5M473.8 1013.5h2.8M477.3 1013.5h17.7M472.3 1014.5h22.7M464.6 1015.5h4.9M472.7 1015.5h6.2M479.5 1015.5h15.5M458.6 1016.5h2.2M463.7 1016.5h1.9M469.8 1016.5h3.3M476.0 1016.5h19.0M472.0 1017.5h7.5M480.8 1017.5h3.7M485.7 1017.5h9.3M464.5 1018.5h3.3M471.8 1018.5h6.0M478.3 1018.5h16.7M469.2 1019.5h1.2M473.5 1019.5h6.7M481.1 1019.5h13.9M451.8 1020.5h1.7M461.4 1020.5h3.3M467.8 1020.5h4.1M474.1 1020.5h4.6M479.4 1020.5h15.6M459.1 1021.5h2.8M469.3 1021.5h1.5M471.9 1021.5h9.3M482.7 1021.5h12.3M466.6 1022.5h2.5M470.2 1022.5h24.8M463.8 1023.5h2.1M466.8 1023.5h2.3M473.2 1023.5h7.4M481.0 1023.5h14.0M466.2 1024.5h1.8M471.1 1024.5h23.9M455.7 1025.5h2.1M472.2 1025.5h2.2M476.2 1025.5h4.4M481.8 1025.5h13.2M461.6 1026.5h3.2M469.6 1026.5h3.2M473.9 1026.5h1.6M476.8 1026.5h18.2M475.4 1027.5h19.6M467.7 1028.5h2.3M471.7 1028.5h1.6M476.4 1028.5h3.8M481.7 1028.5h13.3M466.6 1029.5h3.5M476.1 1029.5h1.3M480.4 1029.5h14.6M468.7 1030.5h2.2M471.5 1030.5h2.1M475.0 1030.5h1.6M478.7 1030.5h16.3M459.9 1031.5h1.9M464.9 1031.5h2.4M470.0 1031.5h7.2M477.6 1031.5h17.4M464.7 1032.5h2.8M470.4 1032.5h10.5M481.7 1032.5h13.3M463.7 1033.5h3.0M468.4 1033.5h1.2M472.8 1033.5h5.5M480.9 1033.5h1.4M483.5 1033.5h11.5M449.3 1034.5h2.2M470.8 1034.5h2.1M474.7 1034.5h1.5M477.6 1034.5h17.4M460.2 1035.5h4.4M465.5 1035.5h3.2M471.0 1035.5h5.6M477.1 1035.5h17.9M460.6 1036.5h4.1M467.6 1036.5h3.1M472.0 1036.5h4.5M477.4 1036.5h17.6M471.5 1037.5h23.5M466.9 1038.5h3.2M472.7 1038.5h1.8M475.2 1038.5h3.4M479.2 1038.5h15.8M473.8 1039.5h5.4M479.7 1039.5h15.3M468.1 1117.5h6.3M475.1 1117.5h19.9M459.9 1118.5h4.5M472.6 1118.5h22.4M443.5 1119.5h1.7M465.7 1119.5h3.5M470.4 1119.5h13.2M485.0 1119.5h10.0M466.7 1120.5h6.6M475.4 1120.5h3.8M479.8 1120.5h15.2M457.4 1121.5h2.9M472.5 1121.5h2.7M476.3 1121.5h4.4M481.2 1121.5h13.8M449.6 1122.5h2.5M454.0 1122.5h5.7M462.0 1122.5h2.1M467.0 1122.5h3.1M472.8 1122.5h22.2M470.2 1123.5h1.3M474.4 1123.5h1.5M476.6 1123.5h2.5M479.8 1123.5h15.2M470.9 1124.5h1.4M476.1 1124.5h18.9M461.9 1125.5h1.7M465.5 1125.5h2.2M469.3 1125.5h2.3M473.8 1125.5h3.2M478.9 1125.5h16.1M465.7 1126.5h2.5M470.9 1126.5h24.1M455.3 1127.5h1.9M461.6 1127.5h2.8M472.2 1127.5h1.6M474.7 1127.5h2.8M479.3 1127.5h15.7M470.9 1128.5h2.7M476.0 1128.5h1.7M478.5 1128.5h16.5M476.3 1129.5h18.7M468.8 1130.5h6.6M477.0 1130.5h2.9M481.4 1130.5h13.6M464.2 1131.5h3.2M469.1 1131.5h4.1M474.3 1131.5h2.6M478.6 1131.5h16.4M466.3 1132.5h2.5M470.0 1132.5h25.0M452.7 1133.5h1.7M462.6 1133.5h1.6M466.9 1133.5h3.2M471.2 1133.5h2.2M475.6 1133.5h19.4M467.7 1134.5h2.2M471.3 1134.5h23.7M467.2 1135.5h27.8M467.3 1136.5h2.8M471.1 1136.5h1.3M475.5 1136.5h19.5M472.4 1137.5h1.3M476.5 1137.5h18.5M469.0 1138.5h2.0M471.4 1138.5h2.4M475.1 1138.5h4.8M481.6 1138.5h13.4M472.4 1139.5h22.6M465.1 1140.5h3.7M470.1 1140.5h1.5M478.5 1140.5h16.5M457.0 1141.5h2.7M461.4 1141.5h3.1M467.0 1141.5h1.6M474.3 1141.5h5.7M480.5 1141.5h14.5M465.6 1142.5h3.0M472.8 1142.5h22.2M466.3 1143.5h1.2M471.7 1143.5h23.3M469.8 1144.5h1.9M472.2 1144.5h5.1M479.2 1144.5h15.8M466.6 1145.5h1.7M469.7 1145.5h4.3M474.5 1145.5h7.1M483.1 1145.5h11.9M460.9 1146.5h2.3M470.4 1146.5h5.4M479.9 1146.5h1.7M483.0 1146.5h12.0M461.4 1147.5h3.0M466.9 1147.5h2.0M470.9 1147.5h24.1M462.0 1148.5h1.6M470.2 1148.5h4.1M475.3 1148.5h19.7M454.7 1149.5h1.7M470.1 1149.5h24.9M468.7 1150.5h3.0M474.0 1150.5h21.0M473.5 1151.5h2.1M477.4 1151.5h2.5M480.7 1151.5h14.3M466.4 1152.5h6.6M473.8 1152.5h21.2M465.4 1153.5h1.5M469.3 1153.5h6.0M475.9 1153.5h19.1M455.4 1154.5h1.8M467.3 1154.5h2.1M471.9 1154.5h23.1M467.4 1155.5h2.9M472.5 1155.5h2.3M475.5 1155.5h19.5M464.5 1156.5h2.4M469.8 1156.5h25.2M459.2 1157.5h1.4M463.3 1157.5h8.7M475.3 1157.5h19.7M468.2 1158.5h6.6M475.3 1158.5h19.7M468.3 1159.5h2.9M473.6 1159.5h2.5M476.5 1159.5h18.5M455.1 1160.5h1.9M458.2 1160.5h1.7M466.8 1160.5h1.8M470.6 1160.5h7.8M479.2 1160.5h1.7M482.5 1160.5h12.5M451.0 1161.5h2.5M464.9 1161.5h2.9M472.2 1161.5h10.8M484.4 1161.5h10.6M468.6 1162.5h1.6M476.4 1162.5h2.9M480.3 1162.5h14.7M465.4 1163.5h4.6M473.0 1163.5h22.0M461.9 1164.5h6.2M473.7 1164.5h2.5M479.3 1164.5h15.7M461.5 1229.5h2.5M468.3 1229.5h3.9M473.2 1229.5h21.8M467.9 1230.5h2.2M471.6 1230.5h5.2M477.8 1230.5h17.2M470.2 1231.5h2.9M476.9 1231.5h18.1M470.8 1232.5h24.2M473.7 1233.5h21.3M452.3 1234.5h1.6M461.7 1234.5h7.3M474.1 1234.5h2.1M478.8 1234.5h4.4M484.7 1234.5h10.3M470.1 1235.5h2.4M475.2 1235.5h3.9M479.7 1235.5h15.3M460.4 1236.5h2.3M463.7 1236.5h2.3M466.5 1236.5h11.0M478.2 1236.5h16.8M465.6 1237.5h3.4M471.8 1237.5h23.2M459.7 1238.5h7.8M475.3 1238.5h19.7M473.0 1239.5h22.0M453.6 1240.5h2.0M472.5 1240.5h2.3M476.0 1240.5h19.0M462.0 1241.5h5.8M469.8 1241.5h2.6M474.1 1241.5h5.1M480.2 1241.5h14.8M466.1 1242.5h2.1M470.8 1242.5h24.2M466.2 1243.5h5.2M472.5 1243.5h5.1M478.8 1243.5h2.1M482.1 1243.5h12.9M465.7 1244.5h1.8M468.2 1244.5h6.5M476.3 1244.5h18.7M458.7 1245.5h1.6M467.5 1245.5h5.0M474.1 1245.5h20.9M450.6 1246.5h1.8M465.2 1246.5h3.6M471.0 1246.5h3.5M476.6 1246.5h18.4M461.2 1247.5h1.9M472.8 1247.5h2.3M475.7 1247.5h1.7M479.3 1247.5h15.7M464.8 1248.5h2.4M468.7 1248.5h26.3M458.3 1249.5h2.4M469.9 1249.5h3.2M476.0 1249.5h2.1M478.6 1249.5h16.4M445.6 1250.5h2.4M461.3 1250.5h1.6M474.6 1250.5h20.4M467.7 1251.5h3.1M474.3 1251.5h3.2M478.8 1251.5h3.1M483.3 1251.5h11.7M454.8 1252.5h2.1M467.6 1252.5h1.4M474.7 1252.5h20.3M464.2 1253.5h2.5M475.0 1253.5h2.4M478.1 1253.5h16.9M470.0 1254.5h1.4M476.3 1254.5h18.7M469.7 1255.5h1.6M474.7 1255.5h20.3M468.0 1256.5h1.9M471.6 1256.5h3.6M476.6 1256.5h18.4M466.1 1257.5h1.5M472.8 1257.5h4.3M479.9 1257.5h15.1M474.9 1258.5h4.6M480.6 1258.5h1.2M483.4 1258.5h11.6M471.7 1259.5h6.4M478.9 1259.5h16.1M468.7 1260.5h26.3M464.8 1261.5h5.3M471.6 1261.5h2.3M477.3 1261.5h17.7M470.0 1262.5h7.0M478.1 1262.5h16.9M456.7 1263.5h2.9M474.6 1263.5h20.4M444.9 1264.5h2.3M455.4 1264.5h2.6M462.6 1264.5h1.9M466.9 1264.5h28.1M473.2 1265.5h21.8M464.5 1266.5h2.1M472.8 1266.5h5.8M479.1 1266.5h4.7M484.9 1266.5h10.1M464.9 1267.5h3.2M470.8 1267.5h3.6M476.5 1267.5h18.5M472.6 1268.5h8.2M481.5 1268.5h13.5M463.1 1269.5h3.0M471.0 1269.5h1.8M476.2 1269.5h4.2M481.9 1269.5h13.1M467.7 1270.5h2.1M472.3 1270.5h22.7M466.7 1316.5h3.3M472.8 1316.5h3.2M476.4 1316.5h2.0M479.2 1316.5h3.4M483.6 1316.5h11.4M465.3 1317.5h3.2M472.1 1317.5h7.4M480.0 1317.5h15.0M464.3 1318.5h2.3M468.0 1318.5h2.6M472.0 1318.5h3.0M475.4 1318.5h19.6M470.5 1319.5h3.0M476.6 1319.5h18.4M464.1 1320.5h2.7M467.5 1320.5h5.7M474.5 1320.5h20.5M475.5 1321.5h19.5M468.2 1322.5h4.8M475.2 1322.5h19.8M472.5 1323.5h22.5M461.3 1324.5h3.0M468.9 1324.5h3.1M476.1 1324.5h18.9M465.1 1325.5h3.1M470.8 1325.5h2.3M474.8 1325.5h2.4M477.9 1325.5h17.1M468.1 1326.5h2.9M474.1 1326.5h4.7M480.2 1326.5h0.7M482.3 1326.5h12.7M466.8 1327.5h2.0M471.9 1327.5h23.1M463.8 1328.5h3.4M468.0 1328.5h2.1M472.3 1328.5h3.0M476.3 1328.5h18.7M469.4 1329.5h1.7M474.6 1329.5h20.4M461.9 1330.5h3.1M470.6 1330.5h2.6M476.7 1330.5h1.7M479.0 1330.5h16.0M471.4 1331.5h23.6M453.3 1332.5h2.6M465.5 1332.5h2.3M468.3 1332.5h3.5M473.9 1332.5h21.1M464.7 1333.5h6.2M472.0 1333.5h3.1M475.5 1333.5h3.1M479.8 1333.5h15.2M466.1 1334.5h4.3M471.2 1334.5h2.9M475.6 1334.5h2.1M478.5 1334.5h16.5M463.9 1335.5h1.8M472.5 1335.5h22.5M466.1 1336.5h4.1M474.3 1336.5h20.7M459.4 1337.5h2.1M470.4 1337.5h1.5M473.0 1337.5h2.1M476.3 1337.5h6.9M484.5 1337.5h10.5M467.1 1338.5h1.7M469.5 1338.5h2.1M472.9 1338.5h22.1M464.1 1339.5h3.4M468.5 1339.5h4.7M474.8 1339.5h3.0M481.0 1339.5h14.0M469.7 1340.5h2.4M474.4 1340.5h20.6M463.5 1341.5h2.5M472.4 1341.5h4.7M477.8 1341.5h1.3M479.5 1341.5h15.5M455.8 1342.5h3.1M463.8 1342.5h3.0M469.0 1342.5h1.6M471.1 1342.5h4.3M476.7 1342.5h1.9M479.7 1342.5h15.3M473.8 1343.5h5.4M480.2 1343.5h14.8M472.3 1344.5h22.7M468.7 1345.5h2.0M473.1 1345.5h21.9M467.5 1346.5h2.3M471.1 1346.5h1.6M475.1 1346.5h4.0M479.8 1346.5h15.2M467.0 1347.5h3.0M474.2 1347.5h20.8M458.2 1348.5h2.2M463.9 1348.5h1.8M466.4 1348.5h7.7M475.5 1348.5h3.5M480.2 1348.5h14.8M468.5 1349.5h2.2M471.5 1349.5h3.8M477.8 1349.5h17.2M459.5 1350.5h1.7M468.0 1350.5h2.3M473.2 1350.5h6.2M480.7 1350.5h2.6M484.7 1350.5h10.3M462.8 1351.5h3.2M469.1 1351.5h1.3M471.7 1351.5h1.8M474.9 1351.5h20.1M460.4 1352.5h3.3M464.5 1352.5h5.8M471.4 1352.5h5.3M477.6 1352.5h17.4M462.4 1353.5h3.0M469.6 1353.5h4.3M475.6 1353.5h3.3M480.4 1353.5h1.0M482.5 1353.5h12.5M464.5 1354.5h4.1M474.0 1354.5h5.6M481.4 1354.5h13.6M467.0 1355.5h1.9M475.0 1355.5h20.0M465.2 1356.5h3.0M469.1 1356.5h6.8M477.1 1356.5h17.9M448.4 1396.5h2.2M466.6 1396.5h2.5M469.9 1396.5h2.3M473.3 1396.5h2.1M476.0 1396.5h3.4M480.0 1396.5h15.0M459.9 1397.5h1.7M469.4 1397.5h2.6M473.4 1397.5h21.6M463.2 1398.5h3.2M467.5 1398.5h4.8M476.2 1398.5h18.8M475.1 1399.5h7.0M483.5 1399.5h11.5M472.8 1400.5h3.9M477.6 1400.5h17.4M467.6 1401.5h27.4M459.2 1402.5h3.0M467.7 1402.5h1.4M472.1 1402.5h3.1M477.4 1402.5h2.5M480.6 1402.5h14.4M462.2 1403.5h3.1M466.9 1403.5h4.6M474.0 1403.5h21.0M471.7 1404.5h23.3M465.8 1405.5h1.2M471.2 1405.5h23.8M448.4 1406.5h2.3M455.6 1406.5h1.6M468.2 1406.5h5.5M476.4 1406.5h18.6M469.8 1407.5h2.9M477.8 1407.5h6.5M485.8 1407.5h9.2M465.9 1408.5h2.5M474.3 1408.5h20.7M464.0 1409.5h2.6M467.4 1409.5h4.9M473.2 1409.5h6.8M480.7 1409.5h14.3M467.0 1410.5h5.8M475.9 1410.5h19.1M472.2 1411.5h6.1M480.1 1411.5h14.9M456.6 1412.5h1.6M466.9 1412.5h6.2M475.6 1412.5h19.4M467.8 1413.5h4.0M474.6 1413.5h20.4M475.1 1414.5h6.0M481.8 1414.5h4.4M487.4 1414.5h7.6M462.9 1415.5h2.5M470.6 1415.5h2.7M476.3 1415.5h3.4M480.5 1415.5h14.5M448.6 1416.5h1.3M471.8 1416.5h23.2M468.9 1417.5h9.1M478.8 1417.5h16.2M471.2 1418.5h7.1M480.1 1418.5h14.9M462.7 1419.5h4.1M467.7 1419.5h27.3M456.8 1420.5h2.2M467.7 1420.5h2.9M471.2 1420.5h23.8M429.7 1421.5h2.0M468.2 1421.5h2.2M471.4 1421.5h2.6M474.7 1421.5h9.2M485.3 1421.5h9.7M459.7 1422.5h1.2M467.5 1422.5h5.7M474.2 1422.5h20.8M473.2 1423.5h21.8M463.4 1424.5h2.8M470.1 1424.5h5.2M475.9 1424.5h19.1M468.9 1425.5h9.7M479.6 1425.5h15.4M465.4 1465.5h1.9M472.9 1465.5h1.5M475.5 1465.5h2.7M479.3 1465.5h15.7M457.5 1466.5h2.1M473.1 1466.5h3.3M477.7 1466.5h7.5M486.8 1466.5h8.2M460.2 1467.5h4.7M469.1 1467.5h5.3M475.5 1467.5h19.5M460.2 1468.5h2.1M469.8 1468.5h25.2M467.0 1469.5h2.4M474.3 1469.5h20.7M463.0 1470.5h1.6M468.3 1470.5h4.9M474.4 1470.5h1.3M477.4 1470.5h17.6M461.8 1471.5h3.0M466.0 1471.5h29.0M463.0 1472.5h5.3M472.2 1472.5h5.7M479.7 1472.5h15.3M454.8 1473.5h3.1M468.8 1473.5h2.5M472.7 1473.5h2.6M477.5 1473.5h17.5M468.0 1474.5h1.7M470.9 1474.5h4.6M477.9 1474.5h3.0M481.3 1474.5h13.7M466.3 1475.5h2.2M475.7 1475.5h1.2M479.0 1475.5h16.0M475.9 1476.5h3.9M480.4 1476.5h14.6M471.7 1477.5h6.7M480.0 1477.5h15.0M453.4 1478.5h1.7M466.9 1478.5h28.1M467.4 1479.5h2.4M471.6 1479.5h23.4M473.4 1480.5h21.6M468.5 1481.5h6.1M476.8 1481.5h18.2"/>
<path fill="none" stroke="#5080bc" stroke-width="1.05" d="M470.2 183.5h2.3M473.5 183.5h6.6M481.1 183.5h13.9M450.8 184.5h1.8M472.9 184.5h22.1M429.6 185.5h3.0M472.9 185.5h22.1M463.4 186.5h4.8M472.0 186.5h1.8M475.3 186.5h2.9M479.2 186.5h15.8M467.5 187.5h1.5M470.4 187.5h1.5M473.7 187.5h1.6M476.6 187.5h18.4M470.3 188.5h2.5M474.6 188.5h20.4M455.9 189.5h1.8M467.0 189.5h1.4M469.2 189.5h1.4M471.5 189.5h1.7M475.9 189.5h2.7M479.7 189.5h15.3M462.1 190.5h4.1M472.2 190.5h22.8M471.7 191.5h6.0M478.5 191.5h16.5M457.0 192.5h3.8M467.8 192.5h5.8M477.3 192.5h17.7M468.6 193.5h26.4M468.6 194.5h2.3M472.7 194.5h22.3M470.1 195.5h3.4M476.2 195.5h18.8M460.2 196.5h3.0M466.6 196.5h2.5M469.6 196.5h7.1M478.5 196.5h16.5M469.5 197.5h2.9M479.4 197.5h15.6M473.8 198.5h21.2M461.4 199.5h2.3M464.3 199.5h4.7M469.6 199.5h1.8M472.0 199.5h7.7M480.9 199.5h14.1M459.4 200.5h1.8M468.8 200.5h5.1M476.7 200.5h2.8M480.0 200.5h15.0M470.3 201.5h24.7M459.1 202.5h2.3M463.5 202.5h2.9M468.0 202.5h27.0M454.8 203.5h2.5M466.1 203.5h6.9M475.9 203.5h19.1M454.0 204.5h2.7M469.6 204.5h9.7M481.6 204.5h13.4M462.1 205.5h4.8M473.0 205.5h22.0M462.6 206.5h1.7M475.5 206.5h1.5M477.5 206.5h2.6M480.5 206.5h14.5M461.2 207.5h4.3M466.2 207.5h1.2M472.0 207.5h23.0M464.4 208.5h4.4M474.1 208.5h3.9M480.2 208.5h14.8M457.0 209.5h2.2M468.7 209.5h1.5M472.0 209.5h6.6M479.6 209.5h15.4M443.6 210.5h2.2M470.1 210.5h24.9M472.5 211.5h22.5M454.2 212.5h2.3M462.2 212.5h1.4M470.0 212.5h4.5M475.3 212.5h3.1M479.4 212.5h15.6M463.7 213.5h31.3M457.8 214.5h2.4M472.2 214.5h7.2M479.8 214.5h15.2M453.4 215.5h2.9M464.5 215.5h2.1M474.8 215.5h3.1M479.2 215.5h15.8M473.8 216.5h4.8M479.8 216.5h15.2M469.7 217.5h2.4M477.1 217.5h17.9M472.1 218.5h22.9M446.0 219.5h2.7M463.6 219.5h3.3M470.4 219.5h24.6M465.7 220.5h2.8M473.2 220.5h5.6M479.6 220.5h4.8M485.4 220.5h9.6M470.7 221.5h8.7M480.9 221.5h0.9M483.3 221.5h11.7M468.4 222.5h2.7M472.4 222.5h2.9M476.3 222.5h3.3M481.0 222.5h14.0M467.8 223.5h3.1M473.4 223.5h1.8M476.6 223.5h2.7M479.8 223.5h1.6M483.0 223.5h12.0M463.0 224.5h2.2M470.1 224.5h4.8M477.2 224.5h1.6M480.0 224.5h15.0M467.3 225.5h2.5M473.5 225.5h4.4M480.8 225.5h14.2M466.5 226.5h28.5M460.0 227.5h2.9M470.4 227.5h1.6M477.4 227.5h17.6M465.3 228.5h1.6M469.8 228.5h12.5M483.6 228.5h11.4M463.3 231.5h1.5M471.9 231.5h23.1M473.9 232.5h6.3M480.8 232.5h14.2M470.7 233.5h3.2M475.2 233.5h4.4M481.3 233.5h13.7M469.4 234.5h1.5M471.3 234.5h4.1M478.2 234.5h16.8M469.1 235.5h2.2M473.4 235.5h1.2M475.8 235.5h19.2M462.6 236.5h5.3M472.5 236.5h4.8M478.3 236.5h16.7M469.7 237.5h2.5M472.8 237.5h22.2M443.4 238.5h1.7M470.8 238.5h1.3M473.7 238.5h2.3M477.9 238.5h1.3M480.4 238.5h14.6M472.1 239.5h2.0M480.3 239.5h14.7M444.8 240.5h2.2M453.3 240.5h1.9M471.2 240.5h2.8M475.9 240.5h5.4M482.7 240.5h12.3M462.8 241.5h3.2M473.2 241.5h7.1M480.8 241.5h14.2M464.9 242.5h4.3M471.9 242.5h23.1M466.2 243.5h28.8M462.3 244.5h3.2M470.7 244.5h24.3M473.5 245.5h3.2M479.9 245.5h15.1M466.1 246.5h3.2M477.3 246.5h3.7M481.8 246.5h13.2M461.8 247.5h1.5M472.0 247.5h3.1M476.0 247.5h3.2M479.7 247.5h15.3M468.6 248.5h5.0M474.4 248.5h20.6M465.9 249.5h2.2M470.0 249.5h3.8M476.2 249.5h2.2M479.0 249.5h16.0M458.9 250.5h4.5M474.1 250.5h4.2M479.0 250.5h16.0M473.0 251.5h22.0M469.5 252.5h2.4M473.8 252.5h6.5M480.8 252.5h14.2M480.3 253.5h14.7M468.1 254.5h6.6M475.2 254.5h19.8M462.0 255.5h1.5M470.3 255.5h4.6M475.6 255.5h19.4M458.7 256.5h3.2M466.0 256.5h2.7M470.4 256.5h2.6M475.5 256.5h19.5M460.9 257.5h2.9M464.8 257.5h3.8M472.5 257.5h22.5M469.9 258.5h6.1M476.5 258.5h9.6M487.5 258.5h7.5M472.0 259.5h1.2M474.5 259.5h3.3M478.8 259.5h1.3M481.4 259.5h13.6M464.7 260.5h2.1M470.3 260.5h3.3M475.5 260.5h19.5M451.7 261.5h2.3M464.1 261.5h2.5M468.4 261.5h2.2M474.7 261.5h20.3M465.7 262.5h1.9M478.9 262.5h1.9M481.8 262.5h13.2M466.8 263.5h4.9M473.5 263.5h4.0M478.2 263.5h16.8M472.4 264.5h22.6M466.6 265.5h3.1M471.7 265.5h3.9M476.3 265.5h2.9M480.3 265.5h14.7M461.5 266.5h1.7M474.1 266.5h1.7M477.0 266.5h18.0M469.6 267.5h2.8M476.6 267.5h3.0M480.5 267.5h14.5M470.1 268.5h4.2M474.9 268.5h20.1M453.3 269.5h3.1M462.9 269.5h2.9M468.3 269.5h2.5M471.7 269.5h2.4M475.5 269.5h19.5M472.1 270.5h3.1M476.0 270.5h4.7M481.2 270.5h13.8M467.4 271.5h3.7M474.9 271.5h6.2M483.2 271.5h11.8M462.0 272.5h4.4M470.7 272.5h1.8M475.8 272.5h19.2M468.3 273.5h1.3M472.8 273.5h2.1M476.2 273.5h5.1M482.6 273.5h12.4M473.1 274.5h2.8M476.6 274.5h1.6M479.2 274.5h15.8M459.3 275.5h4.0M464.9 275.5h4.3M471.3 275.5h2.9M474.7 275.5h20.3M468.0 276.5h2.0M473.6 276.5h21.4M462.0 277.5h1.8M464.4 277.5h7.2M476.5 277.5h2.3M479.4 277.5h15.6M469.6 278.5h3.2M474.9 278.5h1.2M478.7 278.5h16.3M463.1 279.5h31.9M467.7 280.5h4.0M475.2 280.5h5.9M482.0 280.5h13.0M469.6 281.5h2.5M474.0 281.5h21.0M466.6 282.5h12.1M479.4 282.5h15.6M461.2 283.5h3.1M469.5 283.5h2.3M475.9 283.5h19.1M467.9 284.5h3.1M473.4 284.5h2.1M478.3 284.5h16.7M466.3 285.5h4.3M475.5 285.5h1.9M477.9 285.5h17.1M466.9 286.5h4.5M474.5 286.5h2.6M478.6 286.5h16.4M470.0 287.5h2.0M472.9 287.5h22.1M461.8 288.5h2.7M466.5 288.5h3.1M470.7 288.5h24.3M449.6 289.5h1.8M466.7 289.5h4.0M471.8 289.5h1.2M476.0 289.5h19.0M464.4 290.5h3.8M468.7 290.5h26.3M465.5 291.5h2.5M472.9 291.5h1.7M478.6 291.5h3.0M482.0 291.5h13.0M457.8 292.5h2.2M465.6 292.5h1.9M473.0 292.5h22.0M448.7 293.5h2.4M475.0 293.5h8.5M484.7 293.5h10.3M454.9 294.5h2.1M470.2 294.5h6.7M478.8 294.5h16.2M455.5 295.5h2.7M467.9 295.5h1.6M476.6 295.5h2.6M481.5 295.5h13.5M470.4 296.5h5.4M477.6 296.5h17.4M457.1 297.5h1.3M470.3 297.5h2.1M473.9 297.5h9.5M484.8 297.5h10.2M461.9 298.5h1.8M471.1 298.5h3.3M479.0 298.5h16.0M469.9 299.5h1.9M476.3 299.5h18.7M468.1 300.5h3.0M472.8 300.5h1.9M475.8 300.5h19.2M465.7 301.5h2.1M468.3 301.5h3.2M473.1 301.5h2.2M476.3 301.5h18.7M466.2 302.5h4.0M472.7 302.5h1.6M477.6 302.5h1.5M480.6 302.5h14.4M459.6 303.5h3.1M475.5 303.5h2.7M478.9 303.5h16.1M465.4 304.5h2.8M473.8 304.5h11.4M486.8 304.5h8.2M469.9 305.5h2.8M474.0 305.5h4.5M478.9 305.5h1.4M480.8 305.5h14.2M432.3 405.5h2.1M466.1 405.5h1.3M472.1 405.5h22.9M459.0 406.5h3.9M470.7 406.5h1.6M472.8 406.5h22.2M465.7 407.5h29.3M468.7 408.5h5.0M474.4 408.5h2.8M478.3 408.5h16.7M463.5 409.5h4.9M472.0 409.5h23.0M467.9 410.5h1.3M470.9 410.5h24.1M459.6 411.5h2.0M468.6 411.5h2.9M473.6 411.5h21.4M468.4 412.5h26.6M465.5 413.5h3.8M470.5 413.5h3.1M474.9 413.5h3.6M481.5 413.5h13.5M457.9 414.5h2.7M468.2 414.5h4.0M473.4 414.5h6.7M480.6 414.5h14.4M462.5 415.5h1.4M466.6 415.5h1.8M472.0 415.5h23.0M471.8 416.5h5.4M478.3 416.5h1.5M482.5 416.5h12.5M452.5 417.5h2.4M475.0 417.5h1.6M478.2 417.5h16.8M470.4 418.5h2.6M477.3 418.5h3.2M481.7 418.5h13.3M453.5 419.5h1.5M458.1 419.5h1.5M466.5 419.5h2.6M470.6 419.5h3.4M475.1 419.5h19.9M447.5 420.5h2.0M470.6 420.5h2.8M476.9 420.5h18.1M473.6 421.5h9.8M484.8 421.5h10.2M460.1 422.5h2.0M467.6 422.5h1.4M473.1 422.5h21.9M468.0 423.5h2.1M472.9 423.5h22.1M467.9 424.5h2.7M471.6 424.5h4.2M476.5 424.5h18.5M468.5 425.5h5.5M475.8 425.5h19.2M462.5 426.5h1.5M466.3 426.5h2.4M474.3 426.5h20.7M469.9 427.5h4.8M477.4 427.5h1.2M480.8 427.5h14.2M473.4 428.5h21.6M466.0 429.5h1.8M471.8 429.5h23.2M450.9 430.5h2.4M466.1 430.5h2.0M469.4 430.5h1.6M475.5 430.5h19.5M452.6 431.5h3.1M463.6 431.5h2.2M473.4 431.5h6.2M480.5 431.5h14.5M462.7 432.5h3.8M472.3 432.5h2.6M477.7 432.5h17.3M466.1 433.5h5.1M473.6 433.5h4.4M479.3 433.5h15.7M470.8 434.5h3.2M475.4 434.5h5.0M481.1 434.5h1.7M484.0 434.5h11.0M470.4 435.5h2.9M475.2 435.5h19.8M467.5 436.5h3.1M474.0 436.5h21.0M459.2 437.5h2.4M468.7 437.5h2.5M477.4 437.5h17.6M458.9 438.5h1.7M469.9 438.5h2.7M474.4 438.5h20.6M469.6 439.5h25.4M470.5 440.5h3.9M476.9 440.5h18.1M464.4 441.5h2.7M470.9 441.5h2.3M474.0 441.5h1.7M476.9 441.5h2.9M480.5 441.5h14.5M463.7 442.5h1.8M467.4 442.5h3.2M471.1 442.5h23.9M455.3 443.5h2.8M468.6 443.5h1.2M474.2 443.5h3.8M478.6 443.5h16.4M449.8 444.5h2.3M466.8 444.5h1.4M471.1 444.5h23.9M466.4 445.5h2.4M469.3 445.5h3.5M474.2 445.5h3.1M477.9 445.5h17.1M469.2 446.5h8.7M479.7 446.5h15.3M461.6 447.5h2.1M471.1 447.5h4.2M476.8 447.5h18.2M463.7 448.5h1.6M474.8 448.5h20.2M452.2 449.5h1.6M472.4 449.5h1.7M477.1 449.5h1.7M479.4 449.5h15.6M475.0 450.5h20.0M474.6 451.5h5.9M481.2 451.5h13.8M468.6 452.5h3.0M472.6 452.5h1.3M476.5 452.5h4.4M482.4 452.5h12.6M455.8 453.5h1.8M461.3 453.5h2.5M466.3 453.5h4.4M473.0 453.5h3.0M478.0 453.5h17.0M467.9 454.5h5.0M474.2 454.5h20.8M461.9 455.5h2.7M474.1 455.5h20.9M465.7 456.5h2.6M472.3 456.5h7.6M480.7 456.5h14.3M463.6 457.5h9.0M477.7 457.5h17.3M459.4 458.5h1.7M465.0 458.5h30.0M460.8 459.5h4.1M469.6 459.5h25.4M466.0 460.5h3.3M471.1 460.5h2.7M476.4 460.5h4.1M481.0 460.5h14.0M462.8 461.5h2.7M466.9 461.5h2.3M470.0 461.5h1.9M475.4 461.5h19.6M470.7 462.5h2.6M476.9 462.5h18.1M456.1 463.5h4.0M460.8 463.5h2.3M469.1 463.5h25.9M475.0 464.5h2.8M479.5 464.5h15.5M461.2 465.5h2.1M465.8 465.5h3.1M470.5 465.5h3.6M476.8 465.5h18.2M468.6 466.5h2.3M471.7 466.5h1.6M475.8 466.5h6.3M483.5 466.5h11.5M456.0 467.5h1.6M463.9 467.5h3.1M471.7 467.5h23.3M464.0 468.5h3.0M471.4 468.5h4.0M479.3 468.5h15.7M467.5 469.5h1.7M469.6 469.5h2.9M475.0 469.5h20.0M470.8 470.5h1.7M473.2 470.5h21.8M469.9 471.5h4.3M476.4 471.5h4.3M481.4 471.5h13.6M469.3 472.5h25.7M466.8 473.5h1.7M469.7 473.5h8.4M479.0 473.5h16.0M467.1 474.5h2.8M472.0 474.5h6.0M479.7 474.5h15.3M478.1 475.5h16.9M458.3 476.5h3.2M468.4 476.5h5.9M476.2 476.5h2.6M479.9 476.5h15.1M448.9 477.5h1.3M464.9 477.5h2.5M469.0 477.5h3.2M473.1 477.5h6.4M480.0 477.5h15.0M459.3 478.5h2.0M467.7 478.5h1.3M472.5 478.5h22.5M465.6 479.5h4.7M475.3 479.5h2.8M479.2 479.5h15.8M471.6 480.5h1.3M480.6 480.5h14.4M466.2 481.5h2.9M471.3 481.5h2.6M476.8 481.5h18.2M462.1 482.5h3.1M469.0 482.5h7.0M477.9 482.5h2.5M480.9 482.5h4.0M486.5 482.5h8.5M470.9 483.5h3.5M475.4 483.5h19.6M463.7 484.5h1.3M473.5 484.5h2.4M477.7 484.5h17.3M459.4 485.5h1.4M465.1 485.5h1.5M467.2 485.5h3.8M471.5 485.5h3.2M476.9 485.5h18.1M471.5 486.5h3.9M479.3 486.5h15.7M474.4 487.5h20.6M469.0 488.5h6.7M476.1 488.5h3.2M479.8 488.5h15.2M459.4 489.5h3.1M468.3 489.5h3.0M476.0 489.5h19.0M469.3 490.5h1.5M473.0 490.5h6.6M480.1 490.5h14.9M467.4 491.5h2.4M471.5 491.5h1.6M476.0 491.5h19.0M460.2 492.5h2.3M469.6 492.5h6.5M477.5 492.5h17.5M455.3 493.5h2.7M472.5 493.5h2.0M476.3 493.5h3.7M480.9 493.5h14.1M474.6 494.5h20.4M473.8 495.5h5.3M480.0 495.5h15.0M472.3 496.5h1.5M474.4 496.5h20.6M468.4 497.5h26.6M467.3 498.5h3.1M471.8 498.5h8.0M480.3 498.5h14.7M475.5 499.5h19.5M461.9 500.5h1.8M470.3 500.5h3.7M476.7 500.5h18.3M478.0 501.5h17.0M460.2 593.5h1.9M463.3 593.5h1.5M475.7 593.5h11.8M488.6 593.5h6.4M455.9 594.5h2.6M466.7 594.5h2.1M470.0 594.5h25.0M471.8 595.5h2.9M475.9 595.5h19.1M457.9 596.5h1.4M470.5 596.5h4.9M476.4 596.5h18.6M465.3 597.5h1.7M469.3 597.5h2.9M473.0 597.5h3.3M477.3 597.5h5.0M483.6 597.5h11.4M462.0 598.5h3.9M467.4 598.5h3.1M471.1 598.5h2.8M475.7 598.5h19.3M473.6 599.5h21.4M455.7 600.5h1.8M466.3 600.5h2.4M470.2 600.5h9.4M480.5 600.5h14.5M465.1 601.5h3.3M472.4 601.5h8.0M480.9 601.5h14.1M475.3 602.5h19.7M461.7 603.5h2.8M467.9 603.5h2.5M471.1 603.5h23.9M468.6 604.5h3.1M476.0 604.5h19.0M472.2 605.5h4.5M479.4 605.5h15.6M461.1 606.5h3.0M478.3 606.5h16.7M462.0 607.5h1.8M466.8 607.5h2.1M470.7 607.5h1.7M476.4 607.5h18.6M469.0 608.5h2.7M473.3 608.5h2.5M476.3 608.5h18.7M455.3 609.5h3.2M466.3 609.5h2.2M471.8 609.5h2.9M476.3 609.5h2.8M479.7 609.5h15.3M469.0 610.5h3.9M474.8 610.5h3.4M481.1 610.5h13.9M467.8 611.5h4.6M477.2 611.5h17.8M463.5 612.5h4.8M472.7 612.5h22.3M466.6 613.5h2.9M473.3 613.5h21.7M460.8 614.5h2.4M464.4 614.5h2.1M467.2 614.5h3.1M474.3 614.5h20.7M466.9 615.5h2.9M470.4 615.5h1.6M476.3 615.5h18.7M463.1 616.5h1.8M469.1 616.5h2.8M473.2 616.5h21.8M454.7 617.5h2.2M465.7 617.5h1.4M475.9 617.5h19.1M465.6 618.5h2.1M470.6 618.5h1.5M476.3 618.5h18.7M458.8 619.5h2.1M465.9 619.5h2.2M474.5 619.5h20.5M457.7 620.5h2.1M464.7 620.5h2.3M468.9 620.5h2.9M472.4 620.5h22.6M467.1 621.5h2.0M471.9 621.5h23.1M451.9 622.5h2.4M464.7 622.5h2.0M468.0 622.5h6.5M477.9 622.5h17.1M468.9 623.5h3.0M473.5 623.5h4.5M478.5 623.5h16.5M468.6 624.5h1.9M476.4 624.5h18.6M468.2 625.5h9.3M478.4 625.5h6.5M486.1 625.5h8.9M466.8 626.5h3.8M472.8 626.5h5.4M480.8 626.5h14.2M469.8 627.5h5.2M475.9 627.5h3.2M479.8 627.5h15.2M469.1 628.5h5.1M477.6 628.5h3.0M481.0 628.5h4.3M486.7 628.5h8.3M467.9 629.5h6.4M475.1 629.5h19.9M462.5 630.5h3.4M468.9 630.5h3.0M475.1 630.5h3.1M479.2 630.5h15.8M471.5 631.5h2.4M475.0 631.5h5.2M480.9 631.5h14.1M454.2 632.5h2.4M466.3 632.5h6.2M473.9 632.5h3.6M477.9 632.5h17.1M472.1 633.5h1.8M476.0 633.5h19.0M453.0 634.5h2.2M460.5 634.5h3.1M474.0 634.5h4.4M479.5 634.5h15.5M452.5 635.5h2.2M468.1 635.5h3.8M474.6 635.5h20.4M457.6 636.5h3.7M474.4 636.5h2.3M479.6 636.5h15.4M466.2 637.5h2.8M469.5 637.5h3.0M473.1 637.5h21.9M446.0 638.5h1.4M453.6 638.5h2.3M461.4 638.5h2.5M467.5 638.5h1.3M470.2 638.5h9.1M480.2 638.5h14.8M461.0 639.5h2.4M474.5 639.5h20.5M467.6 640.5h1.3M471.8 640.5h23.2M472.3 641.5h3.6M478.9 641.5h16.1M469.1 642.5h2.5M475.6 642.5h1.5M478.6 642.5h16.4M453.1 643.5h1.9M460.4 643.5h2.9M465.3 643.5h8.2M474.2 643.5h20.8M475.9 644.5h19.1M465.3 645.5h4.8M474.9 645.5h20.1M471.5 646.5h5.4M477.8 646.5h17.2M466.1 647.5h1.9M468.8 647.5h5.3M478.1 647.5h16.9M466.8 648.5h2.4M474.7 648.5h20.3M457.6 649.5h2.1M470.8 649.5h1.3M475.8 649.5h19.2M474.3 650.5h20.7M453.0 651.5h2.0M464.2 651.5h2.3M472.6 651.5h22.4M462.8 652.5h2.1M471.1 652.5h23.9M451.0 653.5h2.9M469.9 653.5h6.3M477.2 653.5h17.8M461.1 654.5h1.6M463.3 654.5h2.3M468.0 654.5h2.7M472.8 654.5h7.5M480.6 654.5h2.5M484.2 654.5h10.8M456.6 655.5h1.5M461.6 655.5h3.1M471.4 655.5h1.6M474.9 655.5h6.3M481.8 655.5h13.2M471.2 656.5h8.7M480.3 656.5h14.7M466.8 657.5h2.8M472.7 657.5h4.0M477.4 657.5h2.7M480.9 657.5h1.8M483.9 657.5h11.1M469.0 658.5h1.8M472.4 658.5h2.7M476.2 658.5h18.8M470.1 659.5h8.9M479.5 659.5h15.5M463.2 660.5h1.7M470.8 660.5h2.7M475.4 660.5h7.5M484.4 660.5h10.6M463.1 661.5h1.7M471.7 661.5h4.1M478.1 661.5h1.8M480.5 661.5h14.5M456.4 662.5h1.5M462.1 662.5h1.2M468.3 662.5h6.4M475.4 662.5h19.6M468.3 663.5h7.1M478.8 663.5h16.2M470.0 664.5h25.0M471.2 665.5h4.0M476.5 665.5h18.5M464.5 666.5h1.3M470.0 666.5h5.1M475.6 666.5h7.7M484.6 666.5h10.4M463.0 667.5h1.3M466.9 667.5h1.5M471.9 667.5h2.5M475.1 667.5h19.9M459.5 668.5h2.2M467.3 668.5h5.1M473.3 668.5h21.7M472.3 669.5h4.0M477.0 669.5h18.0M463.1 670.5h3.2M468.6 670.5h1.8M475.6 670.5h9.1M485.8 670.5h9.2M461.2 671.5h4.7M469.2 671.5h5.8M476.8 671.5h18.2M451.1 672.5h2.8M466.5 672.5h28.5M472.0 673.5h7.8M480.2 673.5h14.8M460.8 674.5h2.1M471.9 674.5h1.3M477.5 674.5h17.5M455.8 675.5h1.9M464.3 675.5h1.7M470.4 675.5h6.0M477.6 675.5h17.4M467.7 676.5h2.4M475.7 676.5h19.3M473.9 677.5h21.1M462.5 678.5h1.4M467.2 678.5h3.4M475.2 678.5h19.8M466.4 759.5h2.6M470.7 759.5h1.9M475.4 759.5h2.7M478.7 759.5h16.3M464.6 760.5h4.4M470.5 760.5h2.9M473.8 760.5h21.2M461.7 761.5h3.5M467.1 761.5h3.1M472.0 761.5h23.0M466.9 762.5h2.7M471.3 762.5h23.7M473.8 763.5h21.2M467.1 764.5h1.6M470.6 764.5h3.8M474.8 764.5h4.6M480.4 764.5h14.6M459.6 765.5h4.8M465.8 765.5h2.6M473.2 765.5h21.8M473.5 766.5h21.5M434.2 767.5h2.1M465.7 767.5h3.1M470.7 767.5h2.3M474.0 767.5h3.9M479.4 767.5h15.6M469.7 768.5h4.2M477.4 768.5h17.6M475.3 769.5h2.7M479.2 769.5h1.7M481.5 769.5h13.5M468.3 770.5h1.8M470.6 770.5h24.4M468.4 771.5h10.7M479.9 771.5h15.1M453.7 772.5h1.5M472.3 772.5h22.7M474.0 773.5h21.0M470.2 774.5h1.9M472.9 774.5h1.3M475.0 774.5h7.9M484.2 774.5h1.1M486.6 774.5h8.4M463.7 775.5h1.6M473.4 775.5h5.0M480.0 775.5h15.0M459.6 776.5h2.3M464.6 776.5h4.3M471.5 776.5h23.5M472.2 777.5h7.6M480.2 777.5h14.8M468.9 778.5h2.4M472.3 778.5h6.6M479.6 778.5h15.4M451.9 779.5h1.2M464.7 779.5h4.6M471.2 779.5h23.8M469.8 780.5h25.2M464.0 782.5h1.5M469.9 782.5h25.1M480.2 783.5h14.8M475.1 784.5h19.9M455.4 785.5h2.6M465.2 785.5h4.5M471.1 785.5h5.3M478.2 785.5h16.8M465.3 786.5h1.6M467.3 786.5h7.4M478.6 786.5h16.4M459.5 787.5h2.4M465.3 787.5h2.9M469.8 787.5h3.4M475.0 787.5h3.1M480.9 787.5h14.1M472.6 788.5h2.7M476.7 788.5h18.3M455.9 789.5h1.7M460.9 789.5h1.5M466.4 789.5h3.4M470.2 789.5h2.4M475.1 789.5h19.9M472.0 790.5h3.0M479.2 790.5h15.8M465.4 791.5h4.8M472.0 791.5h3.0M475.5 791.5h19.5M470.0 792.5h5.5M476.5 792.5h3.4M481.1 792.5h13.9M467.6 793.5h1.8M474.5 793.5h20.5M458.5 794.5h1.9M462.8 794.5h1.7M470.0 794.5h1.4M471.7 794.5h2.0M474.7 794.5h3.5M479.2 794.5h15.8M471.6 795.5h5.2M478.9 795.5h16.1M466.4 796.5h2.0M473.0 796.5h1.3M475.6 796.5h6.0M482.7 796.5h12.3M469.1 797.5h1.5M473.7 797.5h5.0M479.3 797.5h15.7M460.5 798.5h2.9M464.5 798.5h2.5M469.4 798.5h1.6M471.7 798.5h23.3M467.9 799.5h27.1M455.2 800.5h2.6M468.3 800.5h2.0M474.0 800.5h21.0M466.2 801.5h2.1M471.0 801.5h1.6M473.6 801.5h21.4M467.2 802.5h8.0M476.4 802.5h18.6M461.5 803.5h1.7M473.8 803.5h21.2M466.4 804.5h8.2M476.7 804.5h18.3M458.4 805.5h1.5M472.5 805.5h1.4M475.7 805.5h19.3M463.8 806.5h1.8M469.6 806.5h2.7M473.1 806.5h5.7M480.6 806.5h14.4M471.8 807.5h1.5M475.8 807.5h4.3M480.8 807.5h14.2M465.8 808.5h2.0M468.7 808.5h2.2M471.4 808.5h3.8M476.3 808.5h18.7M450.0 809.5h2.9M461.1 809.5h2.3M468.2 809.5h5.3M474.1 809.5h3.7M478.4 809.5h16.6M463.0 810.5h1.9M466.2 810.5h1.9M472.9 810.5h1.2M475.5 810.5h19.5M454.5 811.5h2.3M469.6 811.5h2.0M474.4 811.5h3.3M478.2 811.5h16.8M464.5 812.5h1.5M468.7 812.5h1.8M476.1 812.5h18.9M474.0 813.5h5.9M480.3 813.5h14.7M469.6 814.5h2.9M473.9 814.5h4.6M481.3 814.5h13.7M471.0 815.5h4.0M476.9 815.5h18.1M470.0 816.5h9.1M480.1 816.5h14.9M467.6 817.5h9.9M478.2 817.5h16.8M469.6 818.5h25.4M459.1 819.5h1.3M472.1 819.5h3.3M476.6 819.5h1.6M480.2 819.5h14.8M460.2 820.5h2.4M472.2 820.5h2.7M476.1 820.5h18.9M455.6 821.5h2.4M462.8 821.5h1.7M470.1 821.5h24.9M453.1 822.5h1.6M473.7 822.5h3.2M477.9 822.5h1.7M480.0 822.5h15.0M464.2 823.5h2.0M472.5 823.5h5.0M479.5 823.5h15.5M436.3 824.5h2.7M473.7 824.5h21.3M459.0 825.5h1.4M462.5 825.5h2.6M472.9 825.5h2.0M475.9 825.5h19.1M458.4 826.5h1.8M469.8 826.5h1.4M473.7 826.5h1.8M478.2 826.5h1.8M481.4 826.5h13.6M441.0 827.5h1.8M464.2 827.5h1.9M472.7 827.5h4.3M478.1 827.5h16.9M468.9 828.5h26.1M452.0 829.5h1.7M456.3 829.5h2.0M459.9 829.5h2.6M465.1 829.5h2.0M472.8 829.5h22.2M458.9 830.5h2.4M465.6 830.5h3.6M473.0 830.5h2.4M477.5 830.5h17.5M464.2 831.5h5.4M471.3 831.5h2.5M474.6 831.5h3.1M479.6 831.5h15.4M475.7 904.5h19.3M466.1 905.5h1.9M469.9 905.5h7.5M478.6 905.5h16.4M460.7 906.5h2.4M467.8 906.5h2.8M472.5 906.5h22.5M465.7 907.5h1.6M470.0 907.5h10.8M481.3 907.5h13.7M450.7 908.5h2.4M466.8 908.5h5.9M473.1 908.5h21.9M471.2 909.5h3.1M474.9 909.5h20.1M468.5 910.5h1.4M473.4 910.5h21.6M473.4 911.5h2.2M476.6 911.5h18.4M466.7 912.5h3.4M470.9 912.5h5.4M479.0 912.5h16.0M465.0 913.5h3.0M468.9 913.5h1.5M470.9 913.5h2.8M474.2 913.5h2.0M478.5 913.5h4.3M484.4 913.5h10.6M461.6 914.5h3.1M465.5 914.5h7.8M475.3 914.5h2.7M478.8 914.5h16.2M466.5 915.5h2.4M470.8 915.5h3.8M475.8 915.5h3.1M481.1 915.5h13.9M468.7 916.5h2.8M474.1 916.5h20.9M461.9 917.5h2.9M475.7 917.5h19.3M469.5 918.5h3.9M476.3 918.5h2.3M479.2 918.5h15.8M471.5 919.5h1.9M474.4 919.5h3.9M479.0 919.5h16.0M460.2 920.5h2.5M466.5 920.5h2.8M472.8 920.5h3.9M479.6 920.5h15.4M465.6 921.5h3.8M473.2 921.5h4.4M478.5 921.5h16.5M455.5 922.5h3.2M463.9 922.5h1.5M471.4 922.5h1.7M474.7 922.5h5.6M480.9 922.5h14.1M467.9 925.5h8.0M479.1 925.5h15.9M464.4 926.5h2.2M469.1 926.5h6.7M476.5 926.5h18.5M426.7 927.5h2.7M457.6 927.5h2.0M465.9 927.5h2.0M469.9 927.5h1.7M476.7 927.5h1.5M480.0 927.5h15.0M467.1 928.5h4.2M472.1 928.5h2.8M478.6 928.5h16.4M465.5 929.5h11.6M479.2 929.5h15.8M467.8 930.5h1.2M471.8 930.5h12.7M485.8 930.5h9.2M463.7 931.5h4.8M470.9 931.5h2.3M475.0 931.5h1.3M477.7 931.5h17.3M465.5 932.5h3.1M471.3 932.5h2.9M476.1 932.5h18.9M462.6 933.5h2.2M472.3 933.5h7.3M481.5 933.5h13.5M463.4 934.5h3.0M467.0 934.5h2.3M470.7 934.5h3.0M476.6 934.5h3.8M481.2 934.5h13.8M465.4 935.5h2.1M469.6 935.5h5.7M477.7 935.5h17.3M455.2 936.5h1.5M468.7 936.5h2.4M474.0 936.5h1.9M480.2 936.5h14.8M469.2 937.5h25.8M455.4 938.5h2.2M473.7 938.5h5.2M479.3 938.5h15.7M460.5 939.5h2.0M466.2 939.5h1.8M469.2 939.5h9.5M480.7 939.5h4.1M486.3 939.5h8.7M442.4 940.5h1.7M467.9 940.5h2.3M470.9 940.5h7.4M480.3 940.5h14.7M468.6 941.5h1.6M472.5 941.5h2.2M476.2 941.5h18.8M466.1 942.5h1.6M471.0 942.5h1.5M475.3 942.5h19.7M454.9 943.5h2.5M466.9 943.5h1.6M468.9 943.5h1.3M470.9 943.5h5.5M479.4 943.5h15.6M472.5 944.5h4.5M477.8 944.5h2.2M481.1 944.5h13.9M459.3 945.5h3.4M465.2 945.5h1.6M468.4 945.5h4.8M474.0 945.5h21.0M462.9 946.5h1.9M468.5 946.5h2.3M473.1 946.5h3.0M478.3 946.5h16.7M466.0 947.5h1.9M469.4 947.5h2.6M474.3 947.5h3.6M480.2 947.5h3.7M485.3 947.5h9.7M472.5 948.5h3.0M476.9 948.5h18.1M465.5 949.5h1.8M473.3 949.5h21.7M462.8 950.5h2.6M471.3 950.5h2.3M475.3 950.5h4.1M481.3 950.5h13.7M469.2 951.5h1.4M474.4 951.5h20.6M461.5 952.5h1.8M474.5 952.5h2.7M478.3 952.5h16.7M452.9 953.5h2.4M464.3 953.5h2.4M469.3 953.5h25.7M473.3 954.5h21.7M464.5 955.5h2.2M468.1 955.5h1.7M471.3 955.5h2.3M474.7 955.5h20.3M469.4 956.5h25.6M456.8 957.5h1.7M460.3 957.5h2.1M468.5 957.5h9.8M480.2 957.5h14.8M459.2 958.5h2.1M463.7 958.5h2.7M468.7 958.5h5.1M474.2 958.5h20.8M466.5 959.5h1.7M469.3 959.5h2.8M473.4 959.5h1.9M478.7 959.5h16.3M468.5 960.5h1.7M470.9 960.5h24.1M467.4 961.5h2.5M472.2 961.5h1.9M475.2 961.5h19.8M458.2 962.5h1.9M469.2 962.5h2.0M473.3 962.5h2.4M476.8 962.5h18.2M467.9 963.5h1.2M471.5 963.5h1.6M477.6 963.5h17.4M467.0 964.5h3.5M472.0 964.5h4.2M477.3 964.5h2.1M480.6 964.5h14.4M468.3 965.5h1.6M477.4 965.5h2.7M480.8 965.5h14.2M472.9 966.5h3.7M477.4 966.5h2.0M481.8 966.5h13.2M467.3 967.5h2.3M472.7 967.5h3.6M477.4 967.5h17.6M455.2 968.5h2.3M467.1 968.5h2.7M473.5 968.5h3.5M478.4 968.5h16.6M453.1 969.5h1.9M469.6 969.5h5.1M476.1 969.5h2.3M481.7 969.5h13.3M460.6 970.5h2.5M465.2 970.5h2.5M471.2 970.5h7.2M479.3 970.5h15.7M457.6 971.5h2.0M468.2 971.5h2.2M471.5 971.5h23.5M475.0 1040.5h20.0M463.2 1041.5h2.0M474.1 1041.5h1.5M476.4 1041.5h1.2M478.5 1041.5h16.5M464.6 1042.5h1.5M469.0 1042.5h9.2M478.6 1042.5h16.4M458.6 1043.5h3.1M471.5 1043.5h1.7M474.2 1043.5h2.6M478.7 1043.5h16.3M464.2 1044.5h2.5M468.6 1044.5h2.4M471.8 1044.5h5.8M479.7 1044.5h15.3M463.3 1045.5h4.4M469.1 1045.5h2.1M473.0 1045.5h22.0M462.3 1046.5h2.5M475.2 1046.5h1.8M477.9 1046.5h17.1M471.3 1047.5h3.0M475.8 1047.5h2.3M478.9 1047.5h16.1M469.9 1048.5h2.7M475.3 1048.5h6.1M482.4 1048.5h12.6M467.2 1049.5h3.0M470.6 1049.5h1.6M476.7 1049.5h9.2M487.0 1049.5h8.0M472.3 1050.5h22.7M463.1 1051.5h31.9M461.1 1052.5h1.9M468.5 1052.5h4.0M478.7 1052.5h16.3M469.9 1053.5h25.1M448.7 1054.5h2.1M468.6 1054.5h1.8M477.1 1054.5h17.9M451.5 1055.5h3.0M464.5 1055.5h2.9M469.3 1055.5h8.4M479.4 1055.5h15.6M431.3 1056.5h2.3M469.8 1056.5h1.9M474.8 1056.5h1.5M477.5 1056.5h2.0M480.6 1056.5h14.4M457.2 1059.5h2.2M465.7 1059.5h5.5M472.3 1059.5h7.7M481.1 1059.5h13.9M472.5 1060.5h22.5M463.8 1061.5h3.6M468.7 1061.5h1.6M471.2 1061.5h2.2M474.8 1061.5h20.2M462.5 1062.5h3.7M470.3 1062.5h4.4M477.4 1062.5h5.2M484.0 1062.5h11.0M467.7 1063.5h5.5M473.8 1063.5h4.7M478.9 1063.5h16.1M463.3 1064.5h1.7M468.1 1064.5h2.5M472.9 1064.5h22.1M470.3 1065.5h24.7M463.2 1066.5h31.8M468.3 1067.5h1.9M472.9 1067.5h1.9M475.2 1067.5h3.3M480.4 1067.5h14.6M471.8 1068.5h23.2M466.3 1069.5h1.5M472.7 1069.5h2.4M477.2 1069.5h17.8M463.2 1070.5h2.6M466.8 1070.5h1.8M472.8 1070.5h2.8M476.5 1070.5h18.5M469.8 1071.5h2.8M473.1 1071.5h2.7M476.4 1071.5h18.6M477.0 1072.5h2.5M481.1 1072.5h13.9M461.5 1073.5h2.3M465.0 1073.5h2.9M469.3 1073.5h3.1M474.1 1073.5h20.9M469.9 1074.5h1.8M474.7 1074.5h2.2M478.0 1074.5h6.7M486.3 1074.5h8.7M446.3 1075.5h2.2M470.9 1075.5h24.1M465.4 1076.5h9.7M476.5 1076.5h5.1M482.7 1076.5h12.3M466.3 1077.5h4.1M471.1 1077.5h6.7M479.0 1077.5h1.5M481.3 1077.5h13.7M463.6 1078.5h2.9M469.7 1078.5h25.3M453.6 1079.5h2.9M465.3 1079.5h10.7M476.9 1079.5h18.1M465.7 1080.5h1.8M468.9 1080.5h3.1M472.4 1080.5h3.8M477.4 1080.5h17.6M469.5 1081.5h2.1M474.1 1081.5h2.3M477.5 1081.5h1.8M480.6 1081.5h14.4M472.8 1082.5h13.4M487.4 1082.5h7.6M451.2 1083.5h1.7M471.0 1083.5h24.0M461.9 1084.5h1.4M470.8 1084.5h2.8M475.6 1084.5h19.4M476.6 1085.5h18.4M464.1 1086.5h3.7M469.4 1086.5h1.7M474.8 1086.5h1.9M478.2 1086.5h1.8M480.7 1086.5h14.3M459.2 1087.5h2.6M470.5 1087.5h3.0M474.2 1087.5h4.4M479.2 1087.5h15.8M456.4 1088.5h3.0M462.6 1088.5h1.6M465.1 1088.5h2.4M471.5 1088.5h23.5M469.0 1089.5h3.0M472.4 1089.5h10.6M484.2 1089.5h10.8M455.5 1090.5h1.9M463.8 1090.5h1.9M469.3 1090.5h2.5M473.7 1090.5h2.7M476.8 1090.5h1.7M480.2 1090.5h14.8M464.9 1091.5h1.5M467.9 1091.5h4.5M474.5 1091.5h20.5M468.4 1092.5h3.0M473.4 1092.5h3.3M477.6 1092.5h17.4M467.1 1093.5h2.9M470.6 1093.5h2.3M476.7 1093.5h18.3M459.3 1094.5h2.1M472.4 1094.5h3.6M478.4 1094.5h16.6M477.2 1095.5h17.8M467.1 1096.5h7.2M475.1 1096.5h2.7M478.4 1096.5h16.6M440.6 1097.5h2.2M444.1 1097.5h2.4M467.3 1097.5h5.8M475.4 1097.5h2.7M478.8 1097.5h16.2M463.3 1098.5h4.2M468.5 1098.5h5.3M476.0 1098.5h2.0M479.3 1098.5h1.9M482.8 1098.5h12.2M461.8 1099.5h2.4M472.8 1099.5h22.2M468.8 1100.5h2.0M474.3 1100.5h20.7M465.0 1101.5h3.2M469.0 1101.5h12.4M483.0 1101.5h12.0M461.2 1102.5h5.0M473.0 1102.5h1.8M475.6 1102.5h19.4M467.6 1103.5h2.3M473.7 1103.5h21.3M471.4 1104.5h7.0M480.5 1104.5h14.5M463.6 1105.5h8.2M473.0 1105.5h11.5M485.7 1105.5h9.3M469.8 1106.5h25.2M463.6 1175.5h3.1M467.1 1175.5h3.8M472.3 1175.5h3.1M478.3 1175.5h1.3M480.4 1175.5h14.6M466.6 1176.5h2.5M470.8 1176.5h24.2M465.5 1177.5h3.1M473.2 1177.5h9.7M484.3 1177.5h10.7M471.9 1178.5h2.5M480.7 1178.5h14.3M468.5 1179.5h1.2M472.5 1179.5h2.8M476.9 1179.5h18.1M478.5 1180.5h16.5M472.0 1181.5h3.6M478.0 1181.5h17.0M460.7 1182.5h1.7M468.1 1182.5h3.4M477.2 1182.5h2.6M480.7 1182.5h14.3M469.2 1183.5h1.4M471.2 1183.5h1.2M475.3 1183.5h19.7M464.0 1184.5h2.5M471.7 1184.5h7.1M479.3 1184.5h15.7M462.4 1185.5h2.1M466.6 1185.5h1.6M469.9 1185.5h2.4M475.7 1185.5h19.3M462.6 1186.5h4.3M468.3 1186.5h2.2M471.5 1186.5h3.2M475.5 1186.5h19.5M472.1 1187.5h3.9M478.0 1187.5h17.0M460.2 1188.5h1.6M464.2 1188.5h2.5M472.2 1188.5h4.4M480.1 1188.5h14.9M476.2 1189.5h4.5M481.6 1189.5h13.4M466.7 1190.5h3.2M471.3 1190.5h23.7M462.4 1191.5h2.0M465.4 1191.5h2.8M469.5 1191.5h1.6M474.0 1191.5h21.0M459.3 1192.5h1.5M461.2 1192.5h5.1M476.1 1192.5h18.9M464.5 1193.5h2.3M467.5 1193.5h6.1M474.8 1193.5h1.9M477.5 1193.5h2.8M480.7 1193.5h14.3M457.1 1194.5h2.4M468.0 1194.5h1.5M479.5 1194.5h15.5M465.2 1195.5h1.6M472.4 1195.5h22.6M456.9 1196.5h2.2M466.7 1196.5h2.6M472.1 1196.5h3.1M476.5 1196.5h3.3M481.3 1196.5h13.7M464.3 1197.5h4.9M470.5 1197.5h7.1M479.2 1197.5h15.8M466.1 1198.5h1.6M469.6 1198.5h25.4M466.7 1199.5h3.1M473.1 1199.5h3.2M478.7 1199.5h2.6M482.2 1199.5h12.8M461.0 1200.5h3.2M470.1 1200.5h1.8M473.2 1200.5h1.7M477.5 1200.5h2.2M480.1 1200.5h14.9M468.5 1201.5h1.5M472.5 1201.5h22.5M471.0 1202.5h6.4M479.2 1202.5h15.8M467.3 1203.5h4.0M473.2 1203.5h21.8M448.9 1204.5h2.4M463.3 1204.5h2.3M481.2 1204.5h13.8M465.1 1205.5h2.1M469.7 1205.5h7.5M478.3 1205.5h16.7M461.5 1206.5h2.6M465.8 1206.5h3.2M472.1 1206.5h22.9M462.4 1207.5h1.7M466.2 1207.5h1.5M469.2 1207.5h1.4M473.6 1207.5h6.4M481.1 1207.5h13.9M448.6 1208.5h2.2M471.0 1208.5h5.1M476.5 1208.5h18.5M445.2 1209.5h1.8M475.4 1209.5h4.3M480.2 1209.5h14.8M462.3 1210.5h2.5M466.4 1210.5h4.1M472.0 1210.5h23.0M465.7 1211.5h2.2M469.4 1211.5h2.7M472.8 1211.5h3.4M477.4 1211.5h17.6M456.2 1212.5h2.4M465.4 1212.5h2.4M472.2 1212.5h2.5M478.4 1212.5h16.6M459.8 1213.5h1.4M468.5 1213.5h3.1M474.3 1213.5h20.7M457.6 1214.5h2.7M471.8 1214.5h2.1M474.5 1214.5h20.5M467.4 1215.5h3.1M472.9 1215.5h2.1M475.6 1215.5h19.4M431.4 1216.5h2.1M469.6 1216.5h1.6M473.7 1216.5h4.8M479.7 1216.5h15.3M469.7 1217.5h6.7M477.0 1217.5h18.0M461.9 1218.5h1.6M464.5 1218.5h1.9M467.6 1218.5h27.4M467.4 1271.5h2.5M473.1 1271.5h5.7M479.5 1271.5h15.5M468.0 1272.5h1.3M474.6 1272.5h4.9M480.6 1272.5h14.4M471.4 1273.5h8.3M480.9 1273.5h14.1M459.4 1274.5h4.0M464.3 1274.5h6.2M471.8 1274.5h23.2M440.0 1275.5h2.3M471.1 1275.5h2.6M474.6 1275.5h20.4M451.3 1276.5h3.0M460.9 1276.5h3.3M471.3 1276.5h2.5M476.0 1276.5h19.0M464.3 1277.5h2.5M471.7 1277.5h3.2M477.9 1277.5h17.1M466.8 1278.5h1.8M472.1 1278.5h5.7M478.3 1278.5h16.7M472.0 1279.5h23.0M468.1 1280.5h2.6M472.5 1280.5h22.5M463.5 1281.5h2.0M472.0 1281.5h3.6M476.0 1281.5h19.0M472.8 1282.5h2.2M476.3 1282.5h7.4M485.0 1282.5h10.0M462.1 1283.5h2.0M467.8 1283.5h3.5M473.9 1283.5h6.5M481.0 1283.5h14.0M474.8 1284.5h3.0M480.5 1284.5h14.5M472.7 1285.5h2.5M475.7 1285.5h19.3M455.9 1286.5h1.6M459.5 1286.5h2.4M471.9 1286.5h2.3M474.7 1286.5h20.3M450.1 1287.5h1.9M461.5 1287.5h1.3M466.4 1287.5h1.2M469.4 1287.5h1.6M472.6 1287.5h22.4M445.1 1294.5h1.8M472.6 1294.5h22.4M466.8 1295.5h8.8M477.3 1295.5h17.7M471.6 1296.5h4.5M477.1 1296.5h2.3M481.5 1296.5h13.5M468.5 1297.5h3.1M476.6 1297.5h1.6M478.8 1297.5h16.2M456.8 1298.5h2.3M463.7 1298.5h5.4M471.1 1298.5h3.2M474.7 1298.5h20.3M470.3 1299.5h24.7M469.3 1300.5h25.7M469.5 1301.5h2.9M473.0 1301.5h6.0M480.0 1301.5h15.0M475.3 1302.5h19.7M470.7 1303.5h5.6M476.7 1303.5h18.3M461.1 1304.5h3.4M467.6 1304.5h6.3M474.9 1304.5h2.6M478.6 1304.5h16.4M471.3 1305.5h2.6M475.5 1305.5h19.5M446.3 1306.5h2.7M464.1 1306.5h2.8M474.5 1306.5h20.5M470.3 1307.5h24.7M455.2 1308.5h2.4M466.2 1308.5h2.9M470.1 1308.5h24.9M461.9 1309.5h1.7M473.2 1309.5h21.8M467.5 1310.5h3.2M471.7 1310.5h3.7M480.4 1310.5h14.6M465.9 1311.5h2.0M471.8 1311.5h3.9M476.7 1311.5h3.3M480.5 1311.5h14.5M459.7 1312.5h1.4M467.1 1312.5h1.5M473.9 1312.5h2.6M477.0 1312.5h1.8M479.4 1312.5h15.6M439.9 1313.5h1.6M470.5 1313.5h24.5M472.9 1314.5h22.1M469.8 1315.5h3.9M475.0 1315.5h2.6M478.8 1315.5h16.2M474.5 1357.5h5.5M480.5 1357.5h1.4M483.1 1357.5h11.9M465.5 1358.5h4.0M470.5 1358.5h6.2M477.4 1358.5h17.6M468.2 1359.5h2.0M471.4 1359.5h3.0M475.5 1359.5h19.5M469.0 1360.5h26.0M448.5 1361.5h1.7M457.1 1361.5h3.0M462.6 1361.5h32.4M446.0 1362.5h1.9M469.2 1362.5h4.3M475.5 1362.5h2.8M479.1 1362.5h15.9M463.7 1363.5h2.0M468.7 1363.5h5.8M475.6 1363.5h19.4M467.2 1364.5h2.4M472.9 1364.5h7.0M481.2 1364.5h13.8M473.6 1366.5h21.4M464.9 1367.5h2.2M469.4 1367.5h2.7M474.4 1367.5h5.3M480.7 1367.5h14.3M473.1 1368.5h21.9M466.6 1369.5h2.0M471.6 1369.5h3.1M476.5 1369.5h2.6M480.6 1369.5h14.4M459.3 1370.5h1.9M470.0 1370.5h2.4M475.4 1370.5h19.6M465.4 1371.5h2.3M469.4 1371.5h1.4M475.0 1371.5h20.0M469.5 1372.5h1.8M477.8 1372.5h17.2M463.8 1373.5h3.4M470.2 1373.5h1.9M473.9 1373.5h4.9M479.9 1373.5h15.1M470.0 1374.5h25.0M468.9 1375.5h4.9M474.7 1375.5h3.7M479.6 1375.5h15.4M462.2 1376.5h4.5M467.6 1376.5h27.4M449.4 1377.5h2.2M469.1 1377.5h3.2M474.9 1377.5h3.0M479.1 1377.5h15.9M477.0 1378.5h1.7M479.3 1378.5h15.7M464.6 1379.5h1.8M472.2 1379.5h22.8M468.0 1380.5h1.3M473.0 1380.5h4.7M478.7 1380.5h16.3M464.9 1381.5h2.0M469.1 1381.5h3.1M473.3 1381.5h1.8M477.3 1381.5h17.7M457.7 1382.5h1.9M464.1 1382.5h2.3M468.2 1382.5h2.9M473.8 1382.5h5.3M479.7 1382.5h15.3M466.5 1383.5h3.2M472.8 1383.5h4.8M478.3 1383.5h16.7M461.4 1384.5h1.8M466.9 1384.5h1.9M470.5 1384.5h24.5M467.3 1385.5h4.0M472.2 1385.5h22.8M462.7 1386.5h2.5M470.0 1386.5h3.7M475.4 1386.5h19.6M461.2 1387.5h2.2M465.1 1387.5h3.1M472.1 1387.5h8.8M482.1 1387.5h12.9M456.2 1388.5h2.5M472.5 1388.5h5.2M480.6 1388.5h14.4M459.5 1389.5h1.4M467.3 1389.5h1.4M471.7 1389.5h12.8M485.7 1389.5h9.3M454.2 1390.5h2.4M474.0 1390.5h21.0M468.6 1391.5h3.0M472.3 1391.5h6.0M479.4 1391.5h15.6M463.3 1392.5h5.1M470.4 1392.5h2.7M473.8 1392.5h21.2M467.4 1393.5h2.1M472.6 1393.5h22.4M462.3 1394.5h1.9M464.7 1394.5h2.3M469.5 1394.5h3.1M473.3 1394.5h21.7M469.9 1395.5h2.4M472.9 1395.5h22.1M470.1 1426.5h24.9M470.6 1427.5h1.6M474.7 1427.5h2.8M479.9 1427.5h15.1M462.8 1428.5h2.9M474.0 1428.5h3.7M478.3 1428.5h1.4M480.4 1428.5h14.6M469.5 1429.5h6.2M477.1 1429.5h17.9M474.8 1430.5h3.9M479.4 1430.5h15.6M470.3 1431.5h1.9M475.2 1431.5h4.6M480.3 1431.5h14.7M472.1 1432.5h3.3M476.5 1432.5h2.9M480.1 1432.5h14.9M470.5 1433.5h1.4M472.6 1433.5h22.4M460.0 1434.5h2.8M469.9 1434.5h2.5M474.2 1434.5h20.8M464.8 1435.5h2.4M470.8 1435.5h2.3M475.5 1435.5h19.5M467.9 1436.5h4.4M477.0 1436.5h18.0M466.8 1437.5h1.2M470.6 1437.5h9.4M480.5 1437.5h14.5M467.8 1438.5h3.4M472.7 1438.5h1.4M474.9 1438.5h20.1M460.0 1441.5h2.2M463.2 1441.5h1.5M465.1 1441.5h2.2M468.5 1441.5h5.2M474.2 1441.5h20.8M461.1 1442.5h1.6M471.1 1442.5h1.6M473.7 1442.5h2.7M480.4 1442.5h14.6M470.7 1443.5h24.3M455.5 1444.5h1.5M463.7 1444.5h1.6M465.9 1444.5h3.0M470.3 1444.5h24.7M466.3 1445.5h1.8M474.9 1445.5h2.4M478.6 1445.5h16.4M463.3 1446.5h1.6M469.9 1446.5h3.6M474.8 1446.5h20.2M470.0 1447.5h2.5M474.5 1447.5h20.5M469.4 1448.5h5.7M476.0 1448.5h19.0M465.7 1449.5h3.1M476.2 1449.5h1.7M481.5 1449.5h13.5M472.5 1450.5h22.5M464.6 1451.5h6.0M472.3 1451.5h3.5M476.7 1451.5h18.3M455.5 1452.5h1.3M463.6 1452.5h1.9M474.3 1452.5h1.6M477.4 1452.5h4.6M482.5 1452.5h12.5M461.4 1453.5h1.8M473.2 1453.5h21.8M463.2 1454.5h1.8M471.0 1454.5h1.8M474.7 1454.5h20.3M465.6 1455.5h2.1M469.7 1455.5h3.1M479.3 1455.5h15.7M464.1 1456.5h2.5M475.8 1456.5h19.2M450.0 1457.5h2.0M473.6 1457.5h21.4M471.6 1490.5h5.1M478.2 1490.5h16.8M462.6 1491.5h1.6M466.9 1491.5h2.0M471.7 1491.5h6.1M478.3 1491.5h16.7M464.4 1492.5h1.9M470.0 1492.5h3.0M474.7 1492.5h4.0M480.5 1492.5h14.5M464.0 1493.5h3.6M469.6 1493.5h25.4M468.9 1494.5h1.5M472.0 1494.5h6.2M479.8 1494.5h15.2M471.3 1495.5h3.7M476.0 1495.5h3.8M481.1 1495.5h13.9M460.1 1496.5h2.0M470.9 1496.5h2.2M473.7 1496.5h21.3M470.7 1497.5h4.3M476.6 1497.5h18.4M430.5 1498.5h2.5M466.7 1498.5h2.2M475.3 1498.5h2.4M479.9 1498.5h1.5M482.9 1498.5h12.1M472.2 1499.5h7.7M480.7 1499.5h14.3M463.0 1500.5h3.8M468.8 1500.5h7.4M477.0 1500.5h18.0M464.7 1501.5h2.6M471.0 1501.5h3.1M475.4 1501.5h19.6M466.0 1502.5h1.5M469.0 1502.5h2.9M476.4 1502.5h18.6M472.2 1503.5h4.6M477.6 1503.5h1.9M480.5 1503.5h14.5M467.9 1504.5h2.6M472.0 1504.5h2.9M476.5 1504.5h3.8M482.1 1504.5h12.9M471.7 1505.5h23.3M460.5 1506.5h1.8M470.5 1506.5h2.5M474.5 1506.5h20.5M469.7 1507.5h2.3M476.2 1507.5h4.0M480.9 1507.5h14.1"/>
<path fill="none" stroke="#aac7e0" stroke-width="2.2" d="M437.0 162.7H441.8M443.4 162.7H446.7M448.4 162.7H455.7M457.5 162.7H462.2M465.2 162.7H470.0M437.0 396.5H442.4M444.7 396.5H451.0M452.6 396.5H460.9M463.1 396.5H467.8M437.0 588.8H440.1M443.0 588.8H451.0M453.0 588.8H461.6M437.0 729.5H444.4M446.8 729.5H451.6M453.5 729.5H455.5M457.1 729.5H466.0M468.6 729.5H470.0M437.0 851.0H443.2M447.2 851.0H451.7M453.3 851.0H461.8M463.2 851.0H470.0M437.0 883.0H445.9M449.7 883.0H456.3M457.4 883.0H459.6M462.0 883.0H469.8M437.0 978.9H442.0M437.0 1004.0H441.2M442.2 1004.0H446.5M449.1 1004.0H452.5M455.8 1004.0H458.2M459.9 1004.0H463.7M465.9 1004.0H470.0M437.0 1256.6H443.9M447.6 1256.6H450.5M454.1 1256.6H460.3M463.6 1256.6H469.8"/>
<path fill="none" stroke="#5080bc" stroke-width="2.2" d="M437.0 264.4H441.8M443.4 264.4H446.7M448.4 264.4H455.7M457.5 264.4H462.2M465.2 264.4H470.0M437.0 274.4H442.4M444.7 274.4H451.0M452.6 274.4H460.9M463.1 274.4H467.8M437.0 300.5H440.1M443.0 300.5H451.0M453.0 300.5H461.6M464.2 300.5H470.0M437.0 477.2H441.8M443.6 477.2H445.7M447.3 477.2H456.2M458.8 477.2H464.1M437.0 597.2H443.2M447.2 597.2H451.7M453.3 597.2H461.8M437.0 1052.8H444.5M447.3 1052.8H456.2M460.0 1052.8H466.7M467.8 1052.8H469.9M437.0 1177.2H444.7M446.0 1177.2H451.0M452.2 1177.2H456.4M457.4 1177.2H461.7M464.3 1177.2H467.7M437.0 1208.7H439.4M441.0 1208.7H444.8M447.0 1208.7H454.4M456.4 1208.7H463.3M467.1 1208.7H470.0M437.0 1372.5H443.2M446.4 1372.5H452.7M454.9 1372.5H457.6M459.0 1372.5H462.2M463.8 1372.5H466.8M468.4 1372.5H470.0M437.0 1446.0H444.6M448.1 1446.0H450.9M454.4 1446.0H457.7M458.9 1446.0H462.9M465.7 1446.0H468.0M469.7 1446.0H470.0M437.0 1497.0H441.8M444.0 1497.0H448.6M449.9 1497.0H458.1M461.8 1497.0H468.9"/>
<path fill="none" stroke="#5080bc" stroke-width="3.2" d="M437 654H472"/>
<path fill="#aac7e0" d="M328.7 162.7l3.3 -3.3l3.3 3.3l-3.3 3.3zM331.4 162.2l3.3 -3.3l3.3 3.3l-3.3 3.3zM333.4 163.0l3.3 -3.3l3.3 3.3l-3.3 3.3zM336.7 162.6l3.3 -3.3l3.3 3.3l-3.3 3.3zM338.7 162.7l3.3 -3.3l3.3 3.3l-3.3 3.3zM349.7 162.7l3.3 -3.3l3.3 3.3l-3.3 3.3zM351.9 162.4l3.3 -3.3l3.3 3.3l-3.3 3.3zM354.3 162.0l3.3 -3.3l3.3 3.3l-3.3 3.3zM356.8 162.4l3.3 -3.3l3.3 3.3l-3.3 3.3zM359.1 162.3l3.3 -3.3l3.3 3.3l-3.3 3.3zM361.9 162.0l3.3 -3.3l3.3 3.3l-3.3 3.3zM364.2 162.7l3.3 -3.3l3.3 3.3l-3.3 3.3zM366.9 163.3l3.3 -3.3l3.3 3.3l-3.3 3.3zM368.7 162.7l3.3 -3.3l3.3 3.3l-3.3 3.3zM372.0 162.9l3.3 -3.3l3.3 3.3l-3.3 3.3zM374.4 162.7l3.3 -3.3l3.3 3.3l-3.3 3.3zM376.6 163.5l3.3 -3.3l3.3 3.3l-3.3 3.3zM379.0 163.4l3.3 -3.3l3.3 3.3l-3.3 3.3zM380.9 162.6l3.3 -3.3l3.3 3.3l-3.3 3.3zM383.8 162.1l3.3 -3.3l3.3 3.3l-3.3 3.3zM386.5 162.5l3.3 -3.3l3.3 3.3l-3.3 3.3zM388.2 162.1l3.3 -3.3l3.3 3.3l-3.3 3.3zM390.9 163.1l3.3 -3.3l3.3 3.3l-3.3 3.3zM393.1 161.9l3.3 -3.3l3.3 3.3l-3.3 3.3zM395.8 163.3l3.3 -3.3l3.3 3.3l-3.3 3.3zM397.6 161.9l3.3 -3.3l3.3 3.3l-3.3 3.3zM400.7 161.7l3.3 -3.3l3.3 3.3l-3.3 3.3zM403.1 162.9l3.3 -3.3l3.3 3.3l-3.3 3.3zM405.2 163.3l3.3 -3.3l3.3 3.3l-3.3 3.3zM407.9 163.3l3.3 -3.3l3.3 3.3l-3.3 3.3zM410.2 162.1l3.3 -3.3l3.3 3.3l-3.3 3.3zM413.1 162.2l3.3 -3.3l3.3 3.3l-3.3 3.3zM415.5 163.4l3.3 -3.3l3.3 3.3l-3.3 3.3zM417.6 163.7l3.3 -3.3l3.3 3.3l-3.3 3.3zM419.6 162.5l3.3 -3.3l3.3 3.3l-3.3 3.3zM423.0 162.7l3.3 -3.3l3.3 3.3l-3.3 3.3zM424.7 162.1l3.3 -3.3l3.3 3.3l-3.3 3.3zM427.3 162.3l3.3 -3.3l3.3 3.3l-3.3 3.3zM429.7 162.7l3.3 -3.3l3.3 3.3l-3.3 3.3zM382.3 396.5l3.5 -3.2l3.5 3.2l-3.5 3.2zM401.0 396.5l3.5 -3.2l3.5 3.2l-3.5 3.2zM430.9 396.5l3.5 -3.2l3.5 3.2l-3.5 3.2zM399.6 588.8l3.5 -3.5l3.5 3.5l-3.5 3.5zM402.5 588.0l3.5 -3.5l3.5 3.5l-3.5 3.5zM404.7 589.2l3.5 -3.5l3.5 3.5l-3.5 3.5zM406.0 588.5l3.5 -3.5l3.5 3.5l-3.5 3.5zM408.7 589.2l3.5 -3.5l3.5 3.5l-3.5 3.5zM410.9 589.5l3.5 -3.5l3.5 3.5l-3.5 3.5zM413.9 589.0l3.5 -3.5l3.5 3.5l-3.5 3.5zM416.2 589.1l3.5 -3.5l3.5 3.5l-3.5 3.5zM418.2 588.8l3.5 -3.5l3.5 3.5l-3.5 3.5zM420.2 588.1l3.5 -3.5l3.5 3.5l-3.5 3.5zM422.3 589.0l3.5 -3.5l3.5 3.5l-3.5 3.5zM424.8 587.8l3.5 -3.5l3.5 3.5l-3.5 3.5zM427.4 588.8l3.5 -3.5l3.5 3.5l-3.5 3.5zM234.7 729.5l3.4 -3.3l3.4 3.3l-3.4 3.3zM237.2 730.3l3.4 -3.3l3.4 3.3l-3.4 3.3zM239.1 729.6l3.4 -3.3l3.4 3.3l-3.4 3.3zM241.6 730.3l3.4 -3.3l3.4 3.3l-3.4 3.3zM244.7 729.4l3.4 -3.3l3.4 3.3l-3.4 3.3zM246.3 730.2l3.4 -3.3l3.4 3.3l-3.4 3.3zM249.0 728.8l3.4 -3.3l3.4 3.3l-3.4 3.3zM251.2 729.7l3.4 -3.3l3.4 3.3l-3.4 3.3zM254.0 729.5l3.4 -3.3l3.4 3.3l-3.4 3.3zM282.4 729.5l3.4 -3.3l3.4 3.3l-3.4 3.3zM295.1 729.5l3.4 -3.3l3.4 3.3l-3.4 3.3zM306.2 729.5l3.4 -3.3l3.4 3.3l-3.4 3.3zM318.6 729.5l3.4 -3.3l3.4 3.3l-3.4 3.3zM328.3 729.5l3.4 -3.3l3.4 3.3l-3.4 3.3zM337.6 729.5l3.4 -3.3l3.4 3.3l-3.4 3.3zM348.7 729.5l3.4 -3.3l3.4 3.3l-3.4 3.3zM351.3 729.6l3.4 -3.3l3.4 3.3l-3.4 3.3zM353.7 729.0l3.4 -3.3l3.4 3.3l-3.4 3.3zM355.5 728.6l3.4 -3.3l3.4 3.3l-3.4 3.3zM358.5 730.0l3.4 -3.3l3.4 3.3l-3.4 3.3zM360.3 729.0l3.4 -3.3l3.4 3.3l-3.4 3.3zM363.3 729.8l3.4 -3.3l3.4 3.3l-3.4 3.3zM365.8 729.4l3.4 -3.3l3.4 3.3l-3.4 3.3zM367.2 729.9l3.4 -3.3l3.4 3.3l-3.4 3.3zM370.3 729.5l3.4 -3.3l3.4 3.3l-3.4 3.3zM372.1 729.4l3.4 -3.3l3.4 3.3l-3.4 3.3zM375.1 729.6l3.4 -3.3l3.4 3.3l-3.4 3.3zM377.6 729.8l3.4 -3.3l3.4 3.3l-3.4 3.3zM379.0 729.2l3.4 -3.3l3.4 3.3l-3.4 3.3zM381.5 729.7l3.4 -3.3l3.4 3.3l-3.4 3.3zM384.3 730.0l3.4 -3.3l3.4 3.3l-3.4 3.3zM386.4 729.9l3.4 -3.3l3.4 3.3l-3.4 3.3zM388.8 730.4l3.4 -3.3l3.4 3.3l-3.4 3.3zM391.0 729.7l3.4 -3.3l3.4 3.3l-3.4 3.3zM394.4 728.9l3.4 -3.3l3.4 3.3l-3.4 3.3zM396.1 729.2l3.4 -3.3l3.4 3.3l-3.4 3.3zM398.3 730.0l3.4 -3.3l3.4 3.3l-3.4 3.3zM400.4 729.8l3.4 -3.3l3.4 3.3l-3.4 3.3zM402.8 729.0l3.4 -3.3l3.4 3.3l-3.4 3.3zM405.7 728.7l3.4 -3.3l3.4 3.3l-3.4 3.3zM408.3 730.4l3.4 -3.3l3.4 3.3l-3.4 3.3zM410.7 729.4l3.4 -3.3l3.4 3.3l-3.4 3.3zM412.8 728.6l3.4 -3.3l3.4 3.3l-3.4 3.3zM415.1 729.0l3.4 -3.3l3.4 3.3l-3.4 3.3zM417.5 729.8l3.4 -3.3l3.4 3.3l-3.4 3.3zM420.2 730.5l3.4 -3.3l3.4 3.3l-3.4 3.3zM422.9 730.2l3.4 -3.3l3.4 3.3l-3.4 3.3zM424.9 728.7l3.4 -3.3l3.4 3.3l-3.4 3.3zM427.0 728.8l3.4 -3.3l3.4 3.3l-3.4 3.3zM429.5 729.5l3.4 -3.3l3.4 3.3l-3.4 3.3zM423.6 726.5l3.5 -3.2l3.5 3.2l-3.5 3.2zM424.4 726.5l3.5 -3.2l3.5 3.2l-3.5 3.2zM387.6 748.0l3.5 -3.2l3.5 3.2l-3.5 3.2zM389.7 748.0l3.5 -3.2l3.5 3.2l-3.5 3.2zM392.4 747.9l3.5 -3.2l3.5 3.2l-3.5 3.2zM394.1 747.5l3.5 -3.2l3.5 3.2l-3.5 3.2zM396.9 748.3l3.5 -3.2l3.5 3.2l-3.5 3.2zM399.5 747.8l3.5 -3.2l3.5 3.2l-3.5 3.2zM401.9 747.8l3.5 -3.2l3.5 3.2l-3.5 3.2zM404.1 747.2l3.5 -3.2l3.5 3.2l-3.5 3.2zM406.6 748.4l3.5 -3.2l3.5 3.2l-3.5 3.2zM408.1 748.7l3.5 -3.2l3.5 3.2l-3.5 3.2zM410.6 748.3l3.5 -3.2l3.5 3.2l-3.5 3.2zM413.4 748.0l3.5 -3.2l3.5 3.2l-3.5 3.2zM416.9 851.0l3.5 -3.2l3.5 3.2l-3.5 3.2zM429.5 851.0l3.5 -3.2l3.5 3.2l-3.5 3.2zM430.5 883.0l3.5 -3.2l3.5 3.2l-3.5 3.2zM288.5 1004.0l3.5 -3.2l3.5 3.2l-3.5 3.2zM311.6 1004.0l3.5 -3.2l3.5 3.2l-3.5 3.2zM314.4 1003.8l3.5 -3.2l3.5 3.2l-3.5 3.2zM316.9 1003.3l3.5 -3.2l3.5 3.2l-3.5 3.2zM318.5 1004.1l3.5 -3.2l3.5 3.2l-3.5 3.2zM321.1 1003.8l3.5 -3.2l3.5 3.2l-3.5 3.2zM324.0 1003.1l3.5 -3.2l3.5 3.2l-3.5 3.2zM326.5 1003.2l3.5 -3.2l3.5 3.2l-3.5 3.2zM328.6 1004.7l3.5 -3.2l3.5 3.2l-3.5 3.2zM330.7 1003.6l3.5 -3.2l3.5 3.2l-3.5 3.2zM333.7 1004.4l3.5 -3.2l3.5 3.2l-3.5 3.2zM335.8 1004.5l3.5 -3.2l3.5 3.2l-3.5 3.2zM337.5 1003.9l3.5 -3.2l3.5 3.2l-3.5 3.2zM340.7 1004.3l3.5 -3.2l3.5 3.2l-3.5 3.2zM342.7 1003.4l3.5 -3.2l3.5 3.2l-3.5 3.2zM345.4 1003.7l3.5 -3.2l3.5 3.2l-3.5 3.2zM347.5 1003.7l3.5 -3.2l3.5 3.2l-3.5 3.2zM349.7 1004.4l3.5 -3.2l3.5 3.2l-3.5 3.2zM352.1 1003.4l3.5 -3.2l3.5 3.2l-3.5 3.2zM354.2 1004.1l3.5 -3.2l3.5 3.2l-3.5 3.2zM357.5 1004.4l3.5 -3.2l3.5 3.2l-3.5 3.2zM359.4 1004.0l3.5 -3.2l3.5 3.2l-3.5 3.2zM379.0 1004.0l3.5 -3.2l3.5 3.2l-3.5 3.2zM394.6 1004.0l3.5 -3.2l3.5 3.2l-3.5 3.2zM397.2 1003.2l3.5 -3.2l3.5 3.2l-3.5 3.2zM399.2 1003.3l3.5 -3.2l3.5 3.2l-3.5 3.2zM402.1 1004.0l3.5 -3.2l3.5 3.2l-3.5 3.2zM404.0 1004.0l3.5 -3.2l3.5 3.2l-3.5 3.2zM406.4 1004.7l3.5 -3.2l3.5 3.2l-3.5 3.2zM408.9 1003.6l3.5 -3.2l3.5 3.2l-3.5 3.2zM411.9 1004.4l3.5 -3.2l3.5 3.2l-3.5 3.2zM413.9 1004.6l3.5 -3.2l3.5 3.2l-3.5 3.2zM416.1 1003.4l3.5 -3.2l3.5 3.2l-3.5 3.2zM418.9 1003.7l3.5 -3.2l3.5 3.2l-3.5 3.2zM421.2 1003.0l3.5 -3.2l3.5 3.2l-3.5 3.2zM423.9 1003.9l3.5 -3.2l3.5 3.2l-3.5 3.2zM426.4 1004.0l3.5 -3.2l3.5 3.2l-3.5 3.2zM241.2 1256.6l3.4 -3.3l3.4 3.3l-3.4 3.3zM244.3 1257.4l3.4 -3.3l3.4 3.3l-3.4 3.3zM246.0 1256.4l3.4 -3.3l3.4 3.3l-3.4 3.3zM249.3 1256.1l3.4 -3.3l3.4 3.3l-3.4 3.3zM251.4 1256.9l3.4 -3.3l3.4 3.3l-3.4 3.3zM254.1 1256.6l3.4 -3.3l3.4 3.3l-3.4 3.3zM267.7 1256.6l3.4 -3.3l3.4 3.3l-3.4 3.3zM270.2 1257.5l3.4 -3.3l3.4 3.3l-3.4 3.3zM273.5 1256.6l3.4 -3.3l3.4 3.3l-3.4 3.3zM284.1 1256.6l3.4 -3.3l3.4 3.3l-3.4 3.3zM335.0 1256.6l3.4 -3.3l3.4 3.3l-3.4 3.3zM344.7 1256.6l3.4 -3.3l3.4 3.3l-3.4 3.3zM347.5 1257.3l3.4 -3.3l3.4 3.3l-3.4 3.3zM349.9 1257.3l3.4 -3.3l3.4 3.3l-3.4 3.3zM352.2 1255.9l3.4 -3.3l3.4 3.3l-3.4 3.3zM354.9 1255.8l3.4 -3.3l3.4 3.3l-3.4 3.3zM357.0 1256.1l3.4 -3.3l3.4 3.3l-3.4 3.3zM359.3 1256.4l3.4 -3.3l3.4 3.3l-3.4 3.3zM361.3 1256.6l3.4 -3.3l3.4 3.3l-3.4 3.3zM364.4 1255.8l3.4 -3.3l3.4 3.3l-3.4 3.3zM366.6 1257.1l3.4 -3.3l3.4 3.3l-3.4 3.3zM369.1 1256.6l3.4 -3.3l3.4 3.3l-3.4 3.3zM379.2 1256.6l3.4 -3.3l3.4 3.3l-3.4 3.3zM382.1 1257.0l3.4 -3.3l3.4 3.3l-3.4 3.3zM383.7 1255.9l3.4 -3.3l3.4 3.3l-3.4 3.3zM386.3 1256.8l3.4 -3.3l3.4 3.3l-3.4 3.3zM388.4 1257.6l3.4 -3.3l3.4 3.3l-3.4 3.3zM391.1 1256.9l3.4 -3.3l3.4 3.3l-3.4 3.3zM394.2 1257.3l3.4 -3.3l3.4 3.3l-3.4 3.3zM396.7 1256.4l3.4 -3.3l3.4 3.3l-3.4 3.3zM398.2 1255.9l3.4 -3.3l3.4 3.3l-3.4 3.3zM400.6 1256.5l3.4 -3.3l3.4 3.3l-3.4 3.3zM404.2 1256.3l3.4 -3.3l3.4 3.3l-3.4 3.3zM405.8 1256.6l3.4 -3.3l3.4 3.3l-3.4 3.3zM409.1 1255.8l3.4 -3.3l3.4 3.3l-3.4 3.3zM411.5 1255.9l3.4 -3.3l3.4 3.3l-3.4 3.3zM413.7 1257.2l3.4 -3.3l3.4 3.3l-3.4 3.3zM415.5 1256.4l3.4 -3.3l3.4 3.3l-3.4 3.3zM418.5 1256.4l3.4 -3.3l3.4 3.3l-3.4 3.3zM421.1 1256.9l3.4 -3.3l3.4 3.3l-3.4 3.3zM422.6 1256.7l3.4 -3.3l3.4 3.3l-3.4 3.3zM425.2 1256.6l3.4 -3.3l3.4 3.3l-3.4 3.3zM428.3 1257.5l3.4 -3.3l3.4 3.3l-3.4 3.3zM430.5 1256.6l3.4 -3.3l3.4 3.3l-3.4 3.3z"/>
<path fill="#5080bc" d="M429.5 264.4l3.5 -3.2l3.5 3.2l-3.5 3.2zM7.5 274.4l3.5 -3.2l3.5 3.2l-3.5 3.2zM31.0 274.4l3.5 -3.2l3.5 3.2l-3.5 3.2zM61.0 274.4l3.5 -3.2l3.5 3.2l-3.5 3.2zM83.8 274.4l3.5 -3.2l3.5 3.2l-3.5 3.2zM112.4 274.4l3.5 -3.2l3.5 3.2l-3.5 3.2zM175.7 274.4l3.5 -3.2l3.5 3.2l-3.5 3.2zM178.0 275.1l3.5 -3.2l3.5 3.2l-3.5 3.2zM181.3 274.4l3.5 -3.2l3.5 3.2l-3.5 3.2zM218.4 274.4l3.5 -3.2l3.5 3.2l-3.5 3.2zM228.7 274.4l3.5 -3.2l3.5 3.2l-3.5 3.2zM231.1 274.3l3.5 -3.2l3.5 3.2l-3.5 3.2zM234.3 274.4l3.5 -3.2l3.5 3.2l-3.5 3.2zM258.1 274.4l3.5 -3.2l3.5 3.2l-3.5 3.2zM261.0 274.0l3.5 -3.2l3.5 3.2l-3.5 3.2zM262.7 274.0l3.5 -3.2l3.5 3.2l-3.5 3.2zM265.9 274.3l3.5 -3.2l3.5 3.2l-3.5 3.2zM268.4 274.6l3.5 -3.2l3.5 3.2l-3.5 3.2zM270.4 274.4l3.5 -3.2l3.5 3.2l-3.5 3.2zM282.5 274.4l3.5 -3.2l3.5 3.2l-3.5 3.2zM296.6 274.4l3.5 -3.2l3.5 3.2l-3.5 3.2zM298.8 275.4l3.5 -3.2l3.5 3.2l-3.5 3.2zM301.1 275.3l3.5 -3.2l3.5 3.2l-3.5 3.2zM304.2 274.7l3.5 -3.2l3.5 3.2l-3.5 3.2zM306.1 274.6l3.5 -3.2l3.5 3.2l-3.5 3.2zM308.5 273.5l3.5 -3.2l3.5 3.2l-3.5 3.2zM310.9 274.1l3.5 -3.2l3.5 3.2l-3.5 3.2zM314.3 274.9l3.5 -3.2l3.5 3.2l-3.5 3.2zM316.4 274.4l3.5 -3.2l3.5 3.2l-3.5 3.2zM333.3 274.4l3.5 -3.2l3.5 3.2l-3.5 3.2zM335.4 273.9l3.5 -3.2l3.5 3.2l-3.5 3.2zM337.7 274.5l3.5 -3.2l3.5 3.2l-3.5 3.2zM340.5 275.1l3.5 -3.2l3.5 3.2l-3.5 3.2zM342.7 275.4l3.5 -3.2l3.5 3.2l-3.5 3.2zM344.7 275.1l3.5 -3.2l3.5 3.2l-3.5 3.2zM347.3 273.6l3.5 -3.2l3.5 3.2l-3.5 3.2zM350.0 275.2l3.5 -3.2l3.5 3.2l-3.5 3.2zM352.4 274.4l3.5 -3.2l3.5 3.2l-3.5 3.2zM364.6 274.4l3.5 -3.2l3.5 3.2l-3.5 3.2zM366.5 274.8l3.5 -3.2l3.5 3.2l-3.5 3.2zM369.3 274.0l3.5 -3.2l3.5 3.2l-3.5 3.2zM371.7 275.3l3.5 -3.2l3.5 3.2l-3.5 3.2zM374.5 275.1l3.5 -3.2l3.5 3.2l-3.5 3.2zM376.2 273.9l3.5 -3.2l3.5 3.2l-3.5 3.2zM379.2 275.0l3.5 -3.2l3.5 3.2l-3.5 3.2zM381.9 273.5l3.5 -3.2l3.5 3.2l-3.5 3.2zM383.4 274.5l3.5 -3.2l3.5 3.2l-3.5 3.2zM385.8 273.7l3.5 -3.2l3.5 3.2l-3.5 3.2zM389.2 275.2l3.5 -3.2l3.5 3.2l-3.5 3.2zM390.7 273.8l3.5 -3.2l3.5 3.2l-3.5 3.2zM393.2 274.4l3.5 -3.2l3.5 3.2l-3.5 3.2zM396.0 275.4l3.5 -3.2l3.5 3.2l-3.5 3.2zM397.9 275.1l3.5 -3.2l3.5 3.2l-3.5 3.2zM400.9 275.2l3.5 -3.2l3.5 3.2l-3.5 3.2zM402.5 274.8l3.5 -3.2l3.5 3.2l-3.5 3.2zM405.8 273.8l3.5 -3.2l3.5 3.2l-3.5 3.2zM408.0 274.3l3.5 -3.2l3.5 3.2l-3.5 3.2zM409.7 274.8l3.5 -3.2l3.5 3.2l-3.5 3.2zM412.1 273.6l3.5 -3.2l3.5 3.2l-3.5 3.2zM414.6 273.6l3.5 -3.2l3.5 3.2l-3.5 3.2zM416.8 274.6l3.5 -3.2l3.5 3.2l-3.5 3.2zM420.1 275.3l3.5 -3.2l3.5 3.2l-3.5 3.2zM422.1 274.4l3.5 -3.2l3.5 3.2l-3.5 3.2zM424.9 273.7l3.5 -3.2l3.5 3.2l-3.5 3.2zM427.4 274.7l3.5 -3.2l3.5 3.2l-3.5 3.2zM429.4 274.4l3.5 -3.2l3.5 3.2l-3.5 3.2zM391.6 278.3l3.5 -3.2l3.5 3.2l-3.5 3.2zM393.6 277.8l3.5 -3.2l3.5 3.2l-3.5 3.2zM396.6 278.2l3.5 -3.2l3.5 3.2l-3.5 3.2zM398.4 279.1l3.5 -3.2l3.5 3.2l-3.5 3.2zM401.1 277.6l3.5 -3.2l3.5 3.2l-3.5 3.2zM403.6 279.2l3.5 -3.2l3.5 3.2l-3.5 3.2zM406.4 278.3l3.5 -3.2l3.5 3.2l-3.5 3.2zM419.6 278.3l3.5 -3.2l3.5 3.2l-3.5 3.2zM421.9 278.7l3.5 -3.2l3.5 3.2l-3.5 3.2zM424.4 278.3l3.5 -3.2l3.5 3.2l-3.5 3.2zM375.6 300.5l3.5 -3.2l3.5 3.2l-3.5 3.2zM377.8 300.5l3.5 -3.2l3.5 3.2l-3.5 3.2zM380.1 300.4l3.5 -3.2l3.5 3.2l-3.5 3.2zM383.3 300.4l3.5 -3.2l3.5 3.2l-3.5 3.2zM385.2 300.4l3.5 -3.2l3.5 3.2l-3.5 3.2zM387.6 300.8l3.5 -3.2l3.5 3.2l-3.5 3.2zM390.2 300.2l3.5 -3.2l3.5 3.2l-3.5 3.2zM392.6 300.1l3.5 -3.2l3.5 3.2l-3.5 3.2zM394.7 300.2l3.5 -3.2l3.5 3.2l-3.5 3.2zM397.1 301.3l3.5 -3.2l3.5 3.2l-3.5 3.2zM399.8 300.8l3.5 -3.2l3.5 3.2l-3.5 3.2zM402.4 301.1l3.5 -3.2l3.5 3.2l-3.5 3.2zM404.4 301.2l3.5 -3.2l3.5 3.2l-3.5 3.2zM407.8 300.7l3.5 -3.2l3.5 3.2l-3.5 3.2zM409.4 301.5l3.5 -3.2l3.5 3.2l-3.5 3.2zM412.3 300.0l3.5 -3.2l3.5 3.2l-3.5 3.2zM414.3 300.6l3.5 -3.2l3.5 3.2l-3.5 3.2zM416.8 301.2l3.5 -3.2l3.5 3.2l-3.5 3.2zM419.8 300.6l3.5 -3.2l3.5 3.2l-3.5 3.2zM421.5 300.9l3.5 -3.2l3.5 3.2l-3.5 3.2zM425.0 301.3l3.5 -3.2l3.5 3.2l-3.5 3.2zM427.4 299.7l3.5 -3.2l3.5 3.2l-3.5 3.2zM429.4 300.5l3.5 -3.2l3.5 3.2l-3.5 3.2zM421.6 477.2l3.5 -3.2l3.5 3.2l-3.5 3.2zM423.3 477.7l3.5 -3.2l3.5 3.2l-3.5 3.2zM425.5 477.3l3.5 -3.2l3.5 3.2l-3.5 3.2zM428.6 477.9l3.5 -3.2l3.5 3.2l-3.5 3.2zM430.4 477.2l3.5 -3.2l3.5 3.2l-3.5 3.2zM425.1 597.2l3.5 -3.2l3.5 3.2l-3.5 3.2zM93.6 654.0l3.8 -3.9l3.8 3.9l-3.8 3.9zM95.5 653.6l3.8 -3.9l3.8 3.9l-3.8 3.9zM99.0 654.9l3.8 -3.9l3.8 3.9l-3.8 3.9zM101.2 654.6l3.8 -3.9l3.8 3.9l-3.8 3.9zM103.1 654.5l3.8 -3.9l3.8 3.9l-3.8 3.9zM105.4 654.6l3.8 -3.9l3.8 3.9l-3.8 3.9zM108.4 653.2l3.8 -3.9l3.8 3.9l-3.8 3.9zM110.6 653.7l3.8 -3.9l3.8 3.9l-3.8 3.9zM112.4 653.9l3.8 -3.9l3.8 3.9l-3.8 3.9zM115.8 654.8l3.8 -3.9l3.8 3.9l-3.8 3.9zM117.8 654.0l3.8 -3.9l3.8 3.9l-3.8 3.9zM128.6 654.0l3.8 -3.9l3.8 3.9l-3.8 3.9zM128.8 654.0l3.8 -3.9l3.8 3.9l-3.8 3.9zM140.6 654.0l3.8 -3.9l3.8 3.9l-3.8 3.9zM142.7 653.6l3.8 -3.9l3.8 3.9l-3.8 3.9zM144.6 654.0l3.8 -3.9l3.8 3.9l-3.8 3.9zM146.8 654.0l3.8 -3.9l3.8 3.9l-3.8 3.9zM157.6 654.0l3.8 -3.9l3.8 3.9l-3.8 3.9zM160.4 654.5l3.8 -3.9l3.8 3.9l-3.8 3.9zM161.9 653.1l3.8 -3.9l3.8 3.9l-3.8 3.9zM165.4 654.6l3.8 -3.9l3.8 3.9l-3.8 3.9zM166.8 654.5l3.8 -3.9l3.8 3.9l-3.8 3.9zM169.2 654.1l3.8 -3.9l3.8 3.9l-3.8 3.9zM171.6 653.1l3.8 -3.9l3.8 3.9l-3.8 3.9zM174.0 653.9l3.8 -3.9l3.8 3.9l-3.8 3.9zM177.5 653.7l3.8 -3.9l3.8 3.9l-3.8 3.9zM179.0 654.3l3.8 -3.9l3.8 3.9l-3.8 3.9zM181.8 654.0l3.8 -3.9l3.8 3.9l-3.8 3.9zM192.6 654.0l3.8 -3.9l3.8 3.9l-3.8 3.9zM195.4 653.7l3.8 -3.9l3.8 3.9l-3.8 3.9zM197.7 654.6l3.8 -3.9l3.8 3.9l-3.8 3.9zM199.4 654.8l3.8 -3.9l3.8 3.9l-3.8 3.9zM201.7 653.6l3.8 -3.9l3.8 3.9l-3.8 3.9zM204.9 653.6l3.8 -3.9l3.8 3.9l-3.8 3.9zM207.3 653.3l3.8 -3.9l3.8 3.9l-3.8 3.9zM209.2 654.6l3.8 -3.9l3.8 3.9l-3.8 3.9zM212.4 655.0l3.8 -3.9l3.8 3.9l-3.8 3.9zM214.5 654.0l3.8 -3.9l3.8 3.9l-3.8 3.9zM216.9 653.6l3.8 -3.9l3.8 3.9l-3.8 3.9zM218.8 653.5l3.8 -3.9l3.8 3.9l-3.8 3.9zM221.3 654.2l3.8 -3.9l3.8 3.9l-3.8 3.9zM223.9 654.6l3.8 -3.9l3.8 3.9l-3.8 3.9zM226.5 653.1l3.8 -3.9l3.8 3.9l-3.8 3.9zM229.2 653.9l3.8 -3.9l3.8 3.9l-3.8 3.9zM231.0 654.5l3.8 -3.9l3.8 3.9l-3.8 3.9zM233.4 654.3l3.8 -3.9l3.8 3.9l-3.8 3.9zM236.2 654.2l3.8 -3.9l3.8 3.9l-3.8 3.9zM237.8 653.1l3.8 -3.9l3.8 3.9l-3.8 3.9zM241.2 653.2l3.8 -3.9l3.8 3.9l-3.8 3.9zM243.6 654.3l3.8 -3.9l3.8 3.9l-3.8 3.9zM246.2 653.1l3.8 -3.9l3.8 3.9l-3.8 3.9zM248.5 653.1l3.8 -3.9l3.8 3.9l-3.8 3.9zM250.7 654.3l3.8 -3.9l3.8 3.9l-3.8 3.9zM252.3 653.0l3.8 -3.9l3.8 3.9l-3.8 3.9zM254.7 654.6l3.8 -3.9l3.8 3.9l-3.8 3.9zM257.1 653.3l3.8 -3.9l3.8 3.9l-3.8 3.9zM260.1 653.6l3.8 -3.9l3.8 3.9l-3.8 3.9zM262.1 655.0l3.8 -3.9l3.8 3.9l-3.8 3.9zM264.7 653.8l3.8 -3.9l3.8 3.9l-3.8 3.9zM267.7 653.9l3.8 -3.9l3.8 3.9l-3.8 3.9zM269.4 653.9l3.8 -3.9l3.8 3.9l-3.8 3.9zM271.9 654.7l3.8 -3.9l3.8 3.9l-3.8 3.9zM275.1 654.2l3.8 -3.9l3.8 3.9l-3.8 3.9zM276.7 653.5l3.8 -3.9l3.8 3.9l-3.8 3.9zM279.3 653.7l3.8 -3.9l3.8 3.9l-3.8 3.9zM281.4 653.5l3.8 -3.9l3.8 3.9l-3.8 3.9zM284.2 653.1l3.8 -3.9l3.8 3.9l-3.8 3.9zM286.7 654.1l3.8 -3.9l3.8 3.9l-3.8 3.9zM288.6 653.1l3.8 -3.9l3.8 3.9l-3.8 3.9zM291.5 653.4l3.8 -3.9l3.8 3.9l-3.8 3.9zM294.3 654.5l3.8 -3.9l3.8 3.9l-3.8 3.9zM296.5 654.7l3.8 -3.9l3.8 3.9l-3.8 3.9zM298.4 654.1l3.8 -3.9l3.8 3.9l-3.8 3.9zM300.8 654.2l3.8 -3.9l3.8 3.9l-3.8 3.9zM303.1 653.0l3.8 -3.9l3.8 3.9l-3.8 3.9zM306.2 653.4l3.8 -3.9l3.8 3.9l-3.8 3.9zM308.7 654.0l3.8 -3.9l3.8 3.9l-3.8 3.9zM311.2 653.7l3.8 -3.9l3.8 3.9l-3.8 3.9zM313.4 654.9l3.8 -3.9l3.8 3.9l-3.8 3.9zM315.0 653.0l3.8 -3.9l3.8 3.9l-3.8 3.9zM318.3 654.7l3.8 -3.9l3.8 3.9l-3.8 3.9zM320.6 653.2l3.8 -3.9l3.8 3.9l-3.8 3.9zM322.9 654.7l3.8 -3.9l3.8 3.9l-3.8 3.9zM324.6 653.6l3.8 -3.9l3.8 3.9l-3.8 3.9zM327.2 655.0l3.8 -3.9l3.8 3.9l-3.8 3.9zM330.1 654.0l3.8 -3.9l3.8 3.9l-3.8 3.9zM332.4 654.2l3.8 -3.9l3.8 3.9l-3.8 3.9zM335.4 654.7l3.8 -3.9l3.8 3.9l-3.8 3.9zM337.0 653.8l3.8 -3.9l3.8 3.9l-3.8 3.9zM339.9 654.9l3.8 -3.9l3.8 3.9l-3.8 3.9zM342.4 653.7l3.8 -3.9l3.8 3.9l-3.8 3.9zM344.2 654.9l3.8 -3.9l3.8 3.9l-3.8 3.9zM347.2 653.7l3.8 -3.9l3.8 3.9l-3.8 3.9zM348.9 653.3l3.8 -3.9l3.8 3.9l-3.8 3.9zM351.6 653.7l3.8 -3.9l3.8 3.9l-3.8 3.9zM354.2 653.6l3.8 -3.9l3.8 3.9l-3.8 3.9zM356.3 653.8l3.8 -3.9l3.8 3.9l-3.8 3.9zM358.9 653.2l3.8 -3.9l3.8 3.9l-3.8 3.9zM360.8 654.2l3.8 -3.9l3.8 3.9l-3.8 3.9zM363.7 654.6l3.8 -3.9l3.8 3.9l-3.8 3.9zM366.0 654.1l3.8 -3.9l3.8 3.9l-3.8 3.9zM368.6 654.4l3.8 -3.9l3.8 3.9l-3.8 3.9zM370.5 653.9l3.8 -3.9l3.8 3.9l-3.8 3.9zM373.0 654.9l3.8 -3.9l3.8 3.9l-3.8 3.9zM375.9 654.5l3.8 -3.9l3.8 3.9l-3.8 3.9zM378.3 654.7l3.8 -3.9l3.8 3.9l-3.8 3.9zM380.1 653.3l3.8 -3.9l3.8 3.9l-3.8 3.9zM383.4 653.0l3.8 -3.9l3.8 3.9l-3.8 3.9zM385.5 654.7l3.8 -3.9l3.8 3.9l-3.8 3.9zM387.8 653.3l3.8 -3.9l3.8 3.9l-3.8 3.9zM390.4 654.1l3.8 -3.9l3.8 3.9l-3.8 3.9zM392.1 653.4l3.8 -3.9l3.8 3.9l-3.8 3.9zM394.5 653.9l3.8 -3.9l3.8 3.9l-3.8 3.9zM397.0 653.6l3.8 -3.9l3.8 3.9l-3.8 3.9zM400.2 654.0l3.8 -3.9l3.8 3.9l-3.8 3.9zM402.9 653.3l3.8 -3.9l3.8 3.9l-3.8 3.9zM405.0 653.7l3.8 -3.9l3.8 3.9l-3.8 3.9zM407.6 653.3l3.8 -3.9l3.8 3.9l-3.8 3.9zM409.8 653.5l3.8 -3.9l3.8 3.9l-3.8 3.9zM412.0 654.2l3.8 -3.9l3.8 3.9l-3.8 3.9zM414.1 653.7l3.8 -3.9l3.8 3.9l-3.8 3.9zM416.4 654.4l3.8 -3.9l3.8 3.9l-3.8 3.9zM418.5 654.4l3.8 -3.9l3.8 3.9l-3.8 3.9zM421.3 653.5l3.8 -3.9l3.8 3.9l-3.8 3.9zM424.1 653.9l3.8 -3.9l3.8 3.9l-3.8 3.9zM426.1 654.8l3.8 -3.9l3.8 3.9l-3.8 3.9zM428.8 654.0l3.8 -3.9l3.8 3.9l-3.8 3.9zM141.7 1052.8l3.5 -3.2l3.5 3.2l-3.5 3.2zM144.5 1053.6l3.5 -3.2l3.5 3.2l-3.5 3.2zM146.3 1052.9l3.5 -3.2l3.5 3.2l-3.5 3.2zM148.6 1053.7l3.5 -3.2l3.5 3.2l-3.5 3.2zM151.6 1051.9l3.5 -3.2l3.5 3.2l-3.5 3.2zM153.6 1052.0l3.5 -3.2l3.5 3.2l-3.5 3.2zM156.5 1052.7l3.5 -3.2l3.5 3.2l-3.5 3.2zM158.3 1052.8l3.5 -3.2l3.5 3.2l-3.5 3.2zM229.5 1052.8l3.5 -3.2l3.5 3.2l-3.5 3.2zM247.5 1052.8l3.5 -3.2l3.5 3.2l-3.5 3.2zM287.1 1052.8l3.5 -3.2l3.5 3.2l-3.5 3.2zM289.9 1053.6l3.5 -3.2l3.5 3.2l-3.5 3.2zM292.4 1053.3l3.5 -3.2l3.5 3.2l-3.5 3.2zM294.3 1052.0l3.5 -3.2l3.5 3.2l-3.5 3.2zM297.1 1052.8l3.5 -3.2l3.5 3.2l-3.5 3.2zM298.5 1053.5l3.5 -3.2l3.5 3.2l-3.5 3.2zM302.0 1052.4l3.5 -3.2l3.5 3.2l-3.5 3.2zM303.9 1052.0l3.5 -3.2l3.5 3.2l-3.5 3.2zM306.1 1052.7l3.5 -3.2l3.5 3.2l-3.5 3.2zM308.3 1053.7l3.5 -3.2l3.5 3.2l-3.5 3.2zM310.7 1053.8l3.5 -3.2l3.5 3.2l-3.5 3.2zM312.9 1052.5l3.5 -3.2l3.5 3.2l-3.5 3.2zM316.2 1053.6l3.5 -3.2l3.5 3.2l-3.5 3.2zM318.4 1053.5l3.5 -3.2l3.5 3.2l-3.5 3.2zM321.0 1052.7l3.5 -3.2l3.5 3.2l-3.5 3.2zM322.9 1053.2l3.5 -3.2l3.5 3.2l-3.5 3.2zM325.8 1053.4l3.5 -3.2l3.5 3.2l-3.5 3.2zM327.6 1052.7l3.5 -3.2l3.5 3.2l-3.5 3.2zM330.3 1053.1l3.5 -3.2l3.5 3.2l-3.5 3.2zM333.1 1052.5l3.5 -3.2l3.5 3.2l-3.5 3.2zM335.2 1052.5l3.5 -3.2l3.5 3.2l-3.5 3.2zM337.7 1053.2l3.5 -3.2l3.5 3.2l-3.5 3.2zM339.5 1053.6l3.5 -3.2l3.5 3.2l-3.5 3.2zM342.1 1052.2l3.5 -3.2l3.5 3.2l-3.5 3.2zM344.0 1053.4l3.5 -3.2l3.5 3.2l-3.5 3.2zM347.4 1052.3l3.5 -3.2l3.5 3.2l-3.5 3.2zM349.5 1053.6l3.5 -3.2l3.5 3.2l-3.5 3.2zM351.3 1052.1l3.5 -3.2l3.5 3.2l-3.5 3.2zM354.1 1053.5l3.5 -3.2l3.5 3.2l-3.5 3.2zM356.1 1053.1l3.5 -3.2l3.5 3.2l-3.5 3.2zM358.9 1052.3l3.5 -3.2l3.5 3.2l-3.5 3.2zM361.4 1053.3l3.5 -3.2l3.5 3.2l-3.5 3.2zM364.1 1052.8l3.5 -3.2l3.5 3.2l-3.5 3.2zM366.5 1052.5l3.5 -3.2l3.5 3.2l-3.5 3.2zM367.7 1053.3l3.5 -3.2l3.5 3.2l-3.5 3.2zM371.2 1052.7l3.5 -3.2l3.5 3.2l-3.5 3.2zM373.3 1052.0l3.5 -3.2l3.5 3.2l-3.5 3.2zM375.1 1052.4l3.5 -3.2l3.5 3.2l-3.5 3.2zM377.8 1053.4l3.5 -3.2l3.5 3.2l-3.5 3.2zM380.1 1053.6l3.5 -3.2l3.5 3.2l-3.5 3.2zM382.9 1053.0l3.5 -3.2l3.5 3.2l-3.5 3.2zM384.8 1052.8l3.5 -3.2l3.5 3.2l-3.5 3.2zM387.9 1053.4l3.5 -3.2l3.5 3.2l-3.5 3.2zM389.2 1052.8l3.5 -3.2l3.5 3.2l-3.5 3.2zM392.6 1053.8l3.5 -3.2l3.5 3.2l-3.5 3.2zM394.1 1053.5l3.5 -3.2l3.5 3.2l-3.5 3.2zM397.4 1053.1l3.5 -3.2l3.5 3.2l-3.5 3.2zM399.7 1052.8l3.5 -3.2l3.5 3.2l-3.5 3.2zM401.6 1052.9l3.5 -3.2l3.5 3.2l-3.5 3.2zM403.6 1052.6l3.5 -3.2l3.5 3.2l-3.5 3.2zM406.9 1052.1l3.5 -3.2l3.5 3.2l-3.5 3.2zM409.2 1052.3l3.5 -3.2l3.5 3.2l-3.5 3.2zM411.2 1053.3l3.5 -3.2l3.5 3.2l-3.5 3.2zM413.9 1053.0l3.5 -3.2l3.5 3.2l-3.5 3.2zM416.5 1053.2l3.5 -3.2l3.5 3.2l-3.5 3.2zM418.9 1052.5l3.5 -3.2l3.5 3.2l-3.5 3.2zM420.2 1052.6l3.5 -3.2l3.5 3.2l-3.5 3.2zM423.1 1053.4l3.5 -3.2l3.5 3.2l-3.5 3.2zM426.1 1052.5l3.5 -3.2l3.5 3.2l-3.5 3.2zM428.3 1052.6l3.5 -3.2l3.5 3.2l-3.5 3.2zM430.4 1052.8l3.5 -3.2l3.5 3.2l-3.5 3.2zM344.6 1051.5l4.0 -4.0l4.0 4.0l-4.0 4.0zM346.9 1051.6l4.0 -4.0l4.0 4.0l-4.0 4.0zM349.0 1052.5l4.0 -4.0l4.0 4.0l-4.0 4.0zM352.1 1052.2l4.0 -4.0l4.0 4.0l-4.0 4.0zM354.4 1051.5l4.0 -4.0l4.0 4.0l-4.0 4.0zM356.4 1051.5l4.0 -4.0l4.0 4.0l-4.0 4.0zM382.6 1051.5l4.0 -4.0l4.0 4.0l-4.0 4.0zM385.5 1051.4l4.0 -4.0l4.0 4.0l-4.0 4.0zM387.4 1051.5l4.0 -4.0l4.0 4.0l-4.0 4.0zM410.0 1051.5l4.0 -4.0l4.0 4.0l-4.0 4.0zM419.6 1051.5l4.0 -4.0l4.0 4.0l-4.0 4.0zM420.4 1051.5l4.0 -4.0l4.0 4.0l-4.0 4.0zM14.5 1177.2l3.5 -3.2l3.5 3.2l-3.5 3.2zM29.8 1177.2l3.5 -3.2l3.5 3.2l-3.5 3.2zM47.6 1177.2l3.5 -3.2l3.5 3.2l-3.5 3.2zM49.4 1177.7l3.5 -3.2l3.5 3.2l-3.5 3.2zM52.7 1177.3l3.5 -3.2l3.5 3.2l-3.5 3.2zM54.5 1178.1l3.5 -3.2l3.5 3.2l-3.5 3.2zM56.5 1176.5l3.5 -3.2l3.5 3.2l-3.5 3.2zM59.1 1177.7l3.5 -3.2l3.5 3.2l-3.5 3.2zM61.4 1177.1l3.5 -3.2l3.5 3.2l-3.5 3.2zM63.5 1176.9l3.5 -3.2l3.5 3.2l-3.5 3.2zM66.1 1177.2l3.5 -3.2l3.5 3.2l-3.5 3.2zM89.7 1177.2l3.5 -3.2l3.5 3.2l-3.5 3.2zM92.5 1176.3l3.5 -3.2l3.5 3.2l-3.5 3.2zM94.4 1177.5l3.5 -3.2l3.5 3.2l-3.5 3.2zM96.9 1178.2l3.5 -3.2l3.5 3.2l-3.5 3.2zM98.8 1176.5l3.5 -3.2l3.5 3.2l-3.5 3.2zM101.2 1177.2l3.5 -3.2l3.5 3.2l-3.5 3.2zM103.8 1177.0l3.5 -3.2l3.5 3.2l-3.5 3.2zM106.3 1177.2l3.5 -3.2l3.5 3.2l-3.5 3.2zM135.2 1177.2l3.5 -3.2l3.5 3.2l-3.5 3.2zM186.2 1177.2l3.5 -3.2l3.5 3.2l-3.5 3.2zM200.7 1177.2l3.5 -3.2l3.5 3.2l-3.5 3.2zM202.3 1177.6l3.5 -3.2l3.5 3.2l-3.5 3.2zM204.3 1177.2l3.5 -3.2l3.5 3.2l-3.5 3.2zM214.2 1177.2l3.5 -3.2l3.5 3.2l-3.5 3.2zM225.3 1177.2l3.5 -3.2l3.5 3.2l-3.5 3.2zM267.6 1177.2l3.5 -3.2l3.5 3.2l-3.5 3.2zM269.4 1177.2l3.5 -3.2l3.5 3.2l-3.5 3.2zM285.1 1177.2l3.5 -3.2l3.5 3.2l-3.5 3.2zM288.4 1177.2l3.5 -3.2l3.5 3.2l-3.5 3.2zM333.1 1177.2l3.5 -3.2l3.5 3.2l-3.5 3.2zM336.0 1177.2l3.5 -3.2l3.5 3.2l-3.5 3.2zM338.4 1177.2l3.5 -3.2l3.5 3.2l-3.5 3.2zM353.5 1177.2l3.5 -3.2l3.5 3.2l-3.5 3.2zM366.5 1177.2l3.5 -3.2l3.5 3.2l-3.5 3.2zM378.6 1177.2l3.5 -3.2l3.5 3.2l-3.5 3.2zM381.6 1177.8l3.5 -3.2l3.5 3.2l-3.5 3.2zM383.8 1178.0l3.5 -3.2l3.5 3.2l-3.5 3.2zM385.4 1176.9l3.5 -3.2l3.5 3.2l-3.5 3.2zM388.4 1177.6l3.5 -3.2l3.5 3.2l-3.5 3.2zM390.9 1177.1l3.5 -3.2l3.5 3.2l-3.5 3.2zM392.8 1176.6l3.5 -3.2l3.5 3.2l-3.5 3.2zM395.3 1177.2l3.5 -3.2l3.5 3.2l-3.5 3.2zM397.8 1176.7l3.5 -3.2l3.5 3.2l-3.5 3.2zM399.4 1178.0l3.5 -3.2l3.5 3.2l-3.5 3.2zM402.0 1177.7l3.5 -3.2l3.5 3.2l-3.5 3.2zM404.4 1176.2l3.5 -3.2l3.5 3.2l-3.5 3.2zM406.4 1178.1l3.5 -3.2l3.5 3.2l-3.5 3.2zM408.8 1177.7l3.5 -3.2l3.5 3.2l-3.5 3.2zM411.4 1177.3l3.5 -3.2l3.5 3.2l-3.5 3.2zM414.4 1176.8l3.5 -3.2l3.5 3.2l-3.5 3.2zM415.9 1176.5l3.5 -3.2l3.5 3.2l-3.5 3.2zM418.0 1176.9l3.5 -3.2l3.5 3.2l-3.5 3.2zM420.4 1177.4l3.5 -3.2l3.5 3.2l-3.5 3.2zM422.9 1178.0l3.5 -3.2l3.5 3.2l-3.5 3.2zM425.9 1177.5l3.5 -3.2l3.5 3.2l-3.5 3.2zM428.5 1177.7l3.5 -3.2l3.5 3.2l-3.5 3.2zM430.4 1177.2l3.5 -3.2l3.5 3.2l-3.5 3.2zM275.6 1208.7l3.5 -3.2l3.5 3.2l-3.5 3.2zM277.9 1208.2l3.5 -3.2l3.5 3.2l-3.5 3.2zM280.8 1208.7l3.5 -3.2l3.5 3.2l-3.5 3.2zM283.4 1209.7l3.5 -3.2l3.5 3.2l-3.5 3.2zM285.2 1209.3l3.5 -3.2l3.5 3.2l-3.5 3.2zM288.2 1208.6l3.5 -3.2l3.5 3.2l-3.5 3.2zM290.4 1208.9l3.5 -3.2l3.5 3.2l-3.5 3.2zM292.2 1207.8l3.5 -3.2l3.5 3.2l-3.5 3.2zM294.5 1208.1l3.5 -3.2l3.5 3.2l-3.5 3.2zM297.1 1209.7l3.5 -3.2l3.5 3.2l-3.5 3.2zM300.0 1208.7l3.5 -3.2l3.5 3.2l-3.5 3.2zM397.0 1208.7l3.5 -3.2l3.5 3.2l-3.5 3.2zM407.6 1208.7l3.5 -3.2l3.5 3.2l-3.5 3.2zM409.4 1208.7l3.5 -3.2l3.5 3.2l-3.5 3.2zM425.0 1208.7l3.5 -3.2l3.5 3.2l-3.5 3.2zM395.6 1372.5l3.5 -3.2l3.5 3.2l-3.5 3.2zM398.4 1372.6l3.5 -3.2l3.5 3.2l-3.5 3.2zM400.9 1372.6l3.5 -3.2l3.5 3.2l-3.5 3.2zM402.8 1371.9l3.5 -3.2l3.5 3.2l-3.5 3.2zM405.6 1371.9l3.5 -3.2l3.5 3.2l-3.5 3.2zM408.0 1372.3l3.5 -3.2l3.5 3.2l-3.5 3.2zM410.8 1373.1l3.5 -3.2l3.5 3.2l-3.5 3.2zM412.8 1372.8l3.5 -3.2l3.5 3.2l-3.5 3.2zM415.5 1371.8l3.5 -3.2l3.5 3.2l-3.5 3.2zM417.6 1371.7l3.5 -3.2l3.5 3.2l-3.5 3.2zM420.4 1373.5l3.5 -3.2l3.5 3.2l-3.5 3.2zM423.0 1371.5l3.5 -3.2l3.5 3.2l-3.5 3.2zM425.8 1372.5l3.5 -3.2l3.5 3.2l-3.5 3.2zM427.9 1372.6l3.5 -3.2l3.5 3.2l-3.5 3.2zM430.4 1372.5l3.5 -3.2l3.5 3.2l-3.5 3.2zM64.3 1446.0l3.5 -3.2l3.5 3.2l-3.5 3.2zM74.5 1446.0l3.5 -3.2l3.5 3.2l-3.5 3.2zM74.5 1446.0l3.5 -3.2l3.5 3.2l-3.5 3.2zM152.7 1446.0l3.5 -3.2l3.5 3.2l-3.5 3.2zM154.9 1445.4l3.5 -3.2l3.5 3.2l-3.5 3.2zM156.3 1446.0l3.5 -3.2l3.5 3.2l-3.5 3.2zM170.1 1446.0l3.5 -3.2l3.5 3.2l-3.5 3.2zM248.7 1446.0l3.5 -3.2l3.5 3.2l-3.5 3.2zM250.7 1445.0l3.5 -3.2l3.5 3.2l-3.5 3.2zM253.4 1445.3l3.5 -3.2l3.5 3.2l-3.5 3.2zM255.3 1446.2l3.5 -3.2l3.5 3.2l-3.5 3.2zM258.5 1446.0l3.5 -3.2l3.5 3.2l-3.5 3.2zM260.2 1446.3l3.5 -3.2l3.5 3.2l-3.5 3.2zM263.3 1446.4l3.5 -3.2l3.5 3.2l-3.5 3.2zM265.2 1445.6l3.5 -3.2l3.5 3.2l-3.5 3.2zM267.4 1446.1l3.5 -3.2l3.5 3.2l-3.5 3.2zM269.8 1447.0l3.5 -3.2l3.5 3.2l-3.5 3.2zM272.6 1445.3l3.5 -3.2l3.5 3.2l-3.5 3.2zM275.4 1445.6l3.5 -3.2l3.5 3.2l-3.5 3.2zM277.8 1445.3l3.5 -3.2l3.5 3.2l-3.5 3.2zM279.5 1445.8l3.5 -3.2l3.5 3.2l-3.5 3.2zM281.5 1446.2l3.5 -3.2l3.5 3.2l-3.5 3.2zM284.3 1446.0l3.5 -3.2l3.5 3.2l-3.5 3.2zM286.2 1445.5l3.5 -3.2l3.5 3.2l-3.5 3.2zM289.2 1445.1l3.5 -3.2l3.5 3.2l-3.5 3.2zM291.4 1446.8l3.5 -3.2l3.5 3.2l-3.5 3.2zM293.7 1446.0l3.5 -3.2l3.5 3.2l-3.5 3.2zM296.4 1446.0l3.5 -3.2l3.5 3.2l-3.5 3.2zM306.2 1446.0l3.5 -3.2l3.5 3.2l-3.5 3.2zM320.5 1446.0l3.5 -3.2l3.5 3.2l-3.5 3.2zM332.5 1446.0l3.5 -3.2l3.5 3.2l-3.5 3.2zM352.2 1446.0l3.5 -3.2l3.5 3.2l-3.5 3.2zM366.5 1446.0l3.5 -3.2l3.5 3.2l-3.5 3.2zM379.1 1446.0l3.5 -3.2l3.5 3.2l-3.5 3.2zM381.2 1445.1l3.5 -3.2l3.5 3.2l-3.5 3.2zM384.0 1445.1l3.5 -3.2l3.5 3.2l-3.5 3.2zM386.6 1446.8l3.5 -3.2l3.5 3.2l-3.5 3.2zM388.9 1446.7l3.5 -3.2l3.5 3.2l-3.5 3.2zM392.0 1446.0l3.5 -3.2l3.5 3.2l-3.5 3.2zM403.6 1446.0l3.5 -3.2l3.5 3.2l-3.5 3.2zM406.6 1445.1l3.5 -3.2l3.5 3.2l-3.5 3.2zM408.7 1446.1l3.5 -3.2l3.5 3.2l-3.5 3.2zM411.6 1445.0l3.5 -3.2l3.5 3.2l-3.5 3.2zM413.9 1446.1l3.5 -3.2l3.5 3.2l-3.5 3.2zM416.1 1445.3l3.5 -3.2l3.5 3.2l-3.5 3.2zM418.6 1446.4l3.5 -3.2l3.5 3.2l-3.5 3.2zM421.3 1445.1l3.5 -3.2l3.5 3.2l-3.5 3.2zM423.9 1446.1l3.5 -3.2l3.5 3.2l-3.5 3.2zM426.4 1446.0l3.5 -3.2l3.5 3.2l-3.5 3.2zM431.2 1497.0l3.5 -3.2l3.5 3.2l-3.5 3.2z"/>
<path fill="none" stroke="#b1252b" stroke-width="1.9" d="M437.0 61.5H441.8M444.9 61.5H450.8M453.3 61.5H459.0M463.1 61.5H468.0M468.0 61.5H495.0M437.0 81.0H445.0M447.8 81.0H453.2M458.1 81.0H468.0M468.0 81.0H495.0M437.0 102.5H447.1M449.0 102.5H457.9M462.7 102.5H465.7M468.0 102.5H495.0M442.0 168.0H447.7M451.3 168.0H455.1M458.9 168.0H463.6M466.9 168.0H468.0M468.0 168.0H495.0M437.0 197.5H444.7M446.3 197.5H454.2M457.7 197.5H461.3M464.7 197.5H468.0M468.0 197.5H495.0M437.0 214.0H444.0M447.4 214.0H451.7M454.8 214.0H459.5M463.0 214.0H466.7M468.0 214.0H495.0M437.0 272.0H447.6M451.7 272.0H459.0M463.6 272.0H468.0M468.0 272.0H495.0M437.0 294.8H447.9M452.9 294.8H456.9M461.3 294.8H464.5M468.0 294.8H495.0M437.0 298.4H444.7M447.1 298.4H452.3M453.8 298.4H462.4M466.7 298.4H468.0M468.0 298.4H495.0M437.0 325.6H445.2M448.5 325.6H454.7M457.6 325.6H463.4M467.2 325.6H468.0M468.0 325.6H495.0M437.0 331.3H444.3M447.6 331.3H455.5M457.2 331.3H466.7M468.0 331.3H495.0M437.0 341.3H444.7M449.4 341.3H458.0M460.0 341.3H465.3M468.0 341.3H495.0M437.0 367.6H445.5M450.2 367.6H460.5M462.1 367.6H467.3M468.0 367.6H495.0M455.0 418.0H463.1M465.2 418.0H468.0M468.0 418.0H495.0M437.0 480.8H442.1M445.1 480.8H455.3M458.9 480.8H466.4M468.0 480.8H495.0M437.0 517.5H448.0M449.7 517.5H453.5M458.2 517.5H466.0M468.0 517.5H495.0M437.0 571.3H441.0M445.6 571.3H453.4M456.5 571.3H464.0M467.4 571.3H468.0M468.0 571.3H495.0M463.0 611.7H466.1M468.0 611.7H495.0M437.0 696.7H441.1M443.2 696.7H450.2M452.9 696.7H458.1M462.4 696.7H468.0M468.0 696.7H495.0M450.0 738.0H456.8M458.5 738.0H462.0M464.4 738.0H468.0M468.0 738.0H495.0M437.0 743.5H444.9M446.7 743.5H450.4M453.9 743.5H462.2M466.9 743.5H468.0M468.0 743.5H495.0M437.0 832.6H444.0M448.6 832.6H456.0M458.6 832.6H463.2M467.7 832.6H468.0M468.0 832.6H495.0M437.0 897.8H442.0M446.6 897.8H452.7M456.6 897.8H461.3M465.9 897.8H468.0M468.0 897.8H495.0M437.0 995.0H443.8M446.3 995.0H451.0M452.6 995.0H457.6M460.9 995.0H465.2M468.0 995.0H495.0M450.0 1037.0H456.2M459.2 1037.0H465.0M468.0 1037.0H495.0M437.0 1041.0H441.6M444.6 1041.0H454.2M458.4 1041.0H467.0M468.0 1041.0H495.0M437.0 1050.8H440.4M444.1 1050.8H452.2M454.6 1050.8H463.6M468.0 1050.8H495.0M437.0 1054.6H442.7M446.9 1054.6H452.5M454.7 1054.6H458.2M460.8 1054.6H468.0M468.0 1054.6H495.0M437.0 1059.6H441.5M444.5 1059.6H454.4M458.6 1059.6H468.0M468.0 1059.6H495.0M437.0 1073.0H441.0M445.3 1073.0H452.2M453.9 1073.0H464.0M467.2 1073.0H468.0M468.0 1073.0H495.0M437.0 1082.0H445.4M448.4 1082.0H455.2M458.0 1082.0H462.6M467.4 1082.0H468.0M468.0 1082.0H495.0M437.0 1176.3H445.5M448.7 1176.3H458.9M461.2 1176.3H468.0M468.0 1176.3H495.0M437.0 1203.2H443.9M447.7 1203.2H456.9M460.5 1203.2H467.6M468.0 1203.2H495.0M437.0 1211.6H445.1M449.2 1211.6H458.1M462.0 1211.6H465.7M468.0 1211.6H495.0M437.0 1279.3H447.7M449.3 1279.3H455.9M458.8 1279.3H466.9M468.0 1279.3H495.0M437.0 1304.5H447.0M451.9 1304.5H455.8M459.5 1304.5H464.0M467.2 1304.5H468.0M468.0 1304.5H495.0M440.0 1324.6H443.3M447.9 1324.6H456.2M458.2 1324.6H467.5M468.0 1324.6H495.0M437.0 1370.0H441.2M443.2 1370.0H450.7M453.7 1370.0H460.6M464.0 1370.0H468.0M468.0 1370.0H495.0M437.0 1374.7H445.3M450.0 1374.7H461.0M464.7 1374.7H468.0M468.0 1374.7H495.0M437.0 1418.3H440.1M443.6 1418.3H450.9M453.4 1418.3H463.5M467.3 1418.3H468.0M468.0 1418.3H495.0M437.0 1446.8H447.7M449.6 1446.8H459.1M463.2 1446.8H468.0M468.0 1446.8H495.0M437.0 1502.5H445.2M450.2 1502.5H459.6M463.5 1502.5H468.0M468.0 1502.5H495.0"/>
<path fill="#be2026" d="M404.0 61.5l5.0 -4.5l5.0 4.5l-5.0 4.5zM416.0 61.5l5.0 -4.5l5.0 4.5l-5.0 4.5zM424.5 61.5l5.0 -4.5l5.0 4.5l-5.0 4.5zM426.4 62.2l5.0 -4.5l5.0 4.5l-5.0 4.5zM428.5 61.5l5.0 -4.5l5.0 4.5l-5.0 4.5zM332.0 81.0l5.0 -4.5l5.0 4.5l-5.0 4.5zM355.0 81.0l5.0 -4.5l5.0 4.5l-5.0 4.5zM374.5 81.0l5.0 -4.5l5.0 4.5l-5.0 4.5zM421.9 81.0l5.0 -4.5l5.0 4.5l-5.0 4.5zM423.8 80.1l5.0 -4.5l5.0 4.5l-5.0 4.5zM425.6 80.6l5.0 -4.5l5.0 4.5l-5.0 4.5zM428.0 81.0l5.0 -4.5l5.0 4.5l-5.0 4.5zM388.6 102.5l5.0 -4.5l5.0 4.5l-5.0 4.5zM401.3 102.5l5.0 -4.5l5.0 4.5l-5.0 4.5zM404.2 102.5l5.0 -4.5l5.0 4.5l-5.0 4.5zM406.4 101.8l5.0 -4.5l5.0 4.5l-5.0 4.5zM408.3 102.8l5.0 -4.5l5.0 4.5l-5.0 4.5zM410.8 101.8l5.0 -4.5l5.0 4.5l-5.0 4.5zM413.3 102.2l5.0 -4.5l5.0 4.5l-5.0 4.5zM416.2 102.5l5.0 -4.5l5.0 4.5l-5.0 4.5zM427.5 102.5l5.0 -4.5l5.0 4.5l-5.0 4.5zM430.3 102.5l5.0 -4.5l5.0 4.5l-5.0 4.5zM424.1 168.0l5.5 -4.8l5.5 4.8l-5.5 4.8zM398.0 197.5l5.0 -4.5l5.0 4.5l-5.0 4.5zM408.0 197.5l5.0 -4.5l5.0 4.5l-5.0 4.5zM420.8 197.5l5.0 -4.5l5.0 4.5l-5.0 4.5zM424.0 197.9l5.0 -4.5l5.0 4.5l-5.0 4.5zM426.9 196.6l5.0 -4.5l5.0 4.5l-5.0 4.5zM429.2 197.5l5.0 -4.5l5.0 4.5l-5.0 4.5zM426.2 214.0l5.5 -4.8l5.5 4.8l-5.5 4.8zM429.4 214.0l5.5 -4.8l5.5 4.8l-5.5 4.8zM423.0 272.0l5.0 -4.5l5.0 4.5l-5.0 4.5zM429.0 272.0l5.0 -4.5l5.0 4.5l-5.0 4.5zM347.6 294.8l5.0 -4.5l5.0 4.5l-5.0 4.5zM372.0 294.8l5.0 -4.5l5.0 4.5l-5.0 4.5zM382.0 294.8l5.0 -4.5l5.0 4.5l-5.0 4.5zM392.0 294.8l5.0 -4.5l5.0 4.5l-5.0 4.5zM406.8 294.8l5.0 -4.5l5.0 4.5l-5.0 4.5zM408.8 294.9l5.0 -4.5l5.0 4.5l-5.0 4.5zM411.8 294.7l5.0 -4.5l5.0 4.5l-5.0 4.5zM414.1 294.7l5.0 -4.5l5.0 4.5l-5.0 4.5zM416.2 294.6l5.0 -4.5l5.0 4.5l-5.0 4.5zM418.3 294.9l5.0 -4.5l5.0 4.5l-5.0 4.5zM421.2 294.0l5.0 -4.5l5.0 4.5l-5.0 4.5zM423.4 294.7l5.0 -4.5l5.0 4.5l-5.0 4.5zM425.0 294.1l5.0 -4.5l5.0 4.5l-5.0 4.5zM428.1 294.5l5.0 -4.5l5.0 4.5l-5.0 4.5zM429.8 294.8l5.0 -4.5l5.0 4.5l-5.0 4.5zM409.5 298.4l5.0 -4.5l5.0 4.5l-5.0 4.5zM411.6 298.6l5.0 -4.5l5.0 4.5l-5.0 4.5zM414.8 298.3l5.0 -4.5l5.0 4.5l-5.0 4.5zM417.1 298.1l5.0 -4.5l5.0 4.5l-5.0 4.5zM419.9 298.0l5.0 -4.5l5.0 4.5l-5.0 4.5zM421.9 298.5l5.0 -4.5l5.0 4.5l-5.0 4.5zM425.1 298.3l5.0 -4.5l5.0 4.5l-5.0 4.5zM426.8 297.4l5.0 -4.5l5.0 4.5l-5.0 4.5zM429.5 298.4l5.0 -4.5l5.0 4.5l-5.0 4.5zM396.5 325.6l5.0 -4.5l5.0 4.5l-5.0 4.5zM399.3 325.3l5.0 -4.5l5.0 4.5l-5.0 4.5zM400.9 324.7l5.0 -4.5l5.0 4.5l-5.0 4.5zM404.0 326.3l5.0 -4.5l5.0 4.5l-5.0 4.5zM406.5 326.4l5.0 -4.5l5.0 4.5l-5.0 4.5zM408.0 325.4l5.0 -4.5l5.0 4.5l-5.0 4.5zM410.2 326.2l5.0 -4.5l5.0 4.5l-5.0 4.5zM413.4 326.4l5.0 -4.5l5.0 4.5l-5.0 4.5zM415.3 325.2l5.0 -4.5l5.0 4.5l-5.0 4.5zM417.5 326.3l5.0 -4.5l5.0 4.5l-5.0 4.5zM420.6 326.2l5.0 -4.5l5.0 4.5l-5.0 4.5zM422.7 325.5l5.0 -4.5l5.0 4.5l-5.0 4.5zM425.2 326.0l5.0 -4.5l5.0 4.5l-5.0 4.5zM427.6 326.6l5.0 -4.5l5.0 4.5l-5.0 4.5zM429.5 325.6l5.0 -4.5l5.0 4.5l-5.0 4.5zM376.2 331.3l5.0 -4.8l5.0 4.8l-5.0 4.8zM378.8 332.1l5.0 -4.8l5.0 4.8l-5.0 4.8zM380.9 331.7l5.0 -4.8l5.0 4.8l-5.0 4.8zM383.4 332.1l5.0 -4.8l5.0 4.8l-5.0 4.8zM386.4 332.3l5.0 -4.8l5.0 4.8l-5.0 4.8zM388.0 331.9l5.0 -4.8l5.0 4.8l-5.0 4.8zM390.2 330.5l5.0 -4.8l5.0 4.8l-5.0 4.8zM393.4 331.9l5.0 -4.8l5.0 4.8l-5.0 4.8zM395.4 331.8l5.0 -4.8l5.0 4.8l-5.0 4.8zM397.8 332.1l5.0 -4.8l5.0 4.8l-5.0 4.8zM399.8 331.5l5.0 -4.8l5.0 4.8l-5.0 4.8zM402.1 331.7l5.0 -4.8l5.0 4.8l-5.0 4.8zM405.6 331.4l5.0 -4.8l5.0 4.8l-5.0 4.8zM407.2 332.2l5.0 -4.8l5.0 4.8l-5.0 4.8zM409.7 331.6l5.0 -4.8l5.0 4.8l-5.0 4.8zM412.7 331.3l5.0 -4.8l5.0 4.8l-5.0 4.8zM414.6 331.8l5.0 -4.8l5.0 4.8l-5.0 4.8zM417.6 331.7l5.0 -4.8l5.0 4.8l-5.0 4.8zM418.9 332.0l5.0 -4.8l5.0 4.8l-5.0 4.8zM421.3 331.6l5.0 -4.8l5.0 4.8l-5.0 4.8zM423.7 331.7l5.0 -4.8l5.0 4.8l-5.0 4.8zM427.1 331.7l5.0 -4.8l5.0 4.8l-5.0 4.8zM429.5 330.8l5.0 -4.8l5.0 4.8l-5.0 4.8zM431.5 331.3l5.0 -4.8l5.0 4.8l-5.0 4.8zM407.5 341.3l5.0 -4.5l5.0 4.5l-5.0 4.5zM410.5 341.1l5.0 -4.5l5.0 4.5l-5.0 4.5zM411.8 340.8l5.0 -4.5l5.0 4.5l-5.0 4.5zM414.5 341.0l5.0 -4.5l5.0 4.5l-5.0 4.5zM417.5 341.4l5.0 -4.5l5.0 4.5l-5.0 4.5zM419.7 340.5l5.0 -4.5l5.0 4.5l-5.0 4.5zM421.6 341.3l5.0 -4.5l5.0 4.5l-5.0 4.5zM424.2 341.7l5.0 -4.5l5.0 4.5l-5.0 4.5zM427.5 341.0l5.0 -4.5l5.0 4.5l-5.0 4.5zM429.5 341.3l5.0 -4.5l5.0 4.5l-5.0 4.5zM363.5 367.6l5.0 -4.5l5.0 4.5l-5.0 4.5zM365.5 367.6l5.0 -4.5l5.0 4.5l-5.0 4.5zM375.5 367.6l5.0 -4.5l5.0 4.5l-5.0 4.5zM377.0 367.6l5.0 -4.5l5.0 4.5l-5.0 4.5zM387.0 367.6l5.0 -4.5l5.0 4.5l-5.0 4.5zM389.9 367.1l5.0 -4.5l5.0 4.5l-5.0 4.5zM391.6 366.7l5.0 -4.5l5.0 4.5l-5.0 4.5zM394.4 367.3l5.0 -4.5l5.0 4.5l-5.0 4.5zM396.4 367.3l5.0 -4.5l5.0 4.5l-5.0 4.5zM399.4 368.5l5.0 -4.5l5.0 4.5l-5.0 4.5zM402.4 367.1l5.0 -4.5l5.0 4.5l-5.0 4.5zM404.5 367.6l5.0 -4.5l5.0 4.5l-5.0 4.5zM414.5 367.6l5.0 -4.5l5.0 4.5l-5.0 4.5zM417.0 368.0l5.0 -4.5l5.0 4.5l-5.0 4.5zM419.8 366.8l5.0 -4.5l5.0 4.5l-5.0 4.5zM421.7 366.7l5.0 -4.5l5.0 4.5l-5.0 4.5zM424.2 367.8l5.0 -4.5l5.0 4.5l-5.0 4.5zM426.9 367.9l5.0 -4.5l5.0 4.5l-5.0 4.5zM429.8 367.6l5.0 -4.5l5.0 4.5l-5.0 4.5zM407.6 418.0l5.0 -4.5l5.0 4.5l-5.0 4.5zM395.8 480.8l5.0 -4.5l5.0 4.5l-5.0 4.5zM410.5 480.8l5.0 -4.5l5.0 4.5l-5.0 4.5zM412.8 480.6l5.0 -4.5l5.0 4.5l-5.0 4.5zM416.5 481.1l5.0 -4.5l5.0 4.5l-5.0 4.5zM418.9 480.8l5.0 -4.5l5.0 4.5l-5.0 4.5zM429.3 480.8l5.0 -4.5l5.0 4.5l-5.0 4.5zM416.9 517.5l5.0 -4.5l5.0 4.5l-5.0 4.5zM419.9 518.4l5.0 -4.5l5.0 4.5l-5.0 4.5zM421.7 517.9l5.0 -4.5l5.0 4.5l-5.0 4.5zM424.5 517.5l5.0 -4.5l5.0 4.5l-5.0 4.5zM402.5 571.3l5.0 -4.5l5.0 4.5l-5.0 4.5zM404.4 570.8l5.0 -4.5l5.0 4.5l-5.0 4.5zM407.7 571.1l5.0 -4.5l5.0 4.5l-5.0 4.5zM409.8 571.8l5.0 -4.5l5.0 4.5l-5.0 4.5zM411.7 571.6l5.0 -4.5l5.0 4.5l-5.0 4.5zM414.4 571.3l5.0 -4.5l5.0 4.5l-5.0 4.5zM416.1 571.5l5.0 -4.5l5.0 4.5l-5.0 4.5zM418.6 570.3l5.0 -4.5l5.0 4.5l-5.0 4.5zM421.7 570.8l5.0 -4.5l5.0 4.5l-5.0 4.5zM423.6 570.5l5.0 -4.5l5.0 4.5l-5.0 4.5zM426.2 570.8l5.0 -4.5l5.0 4.5l-5.0 4.5zM428.3 571.3l5.0 -4.5l5.0 4.5l-5.0 4.5zM405.0 611.7l5.0 -4.5l5.0 4.5l-5.0 4.5zM407.7 611.0l5.0 -4.5l5.0 4.5l-5.0 4.5zM410.5 611.7l5.0 -4.5l5.0 4.5l-5.0 4.5zM423.2 611.7l5.0 -4.5l5.0 4.5l-5.0 4.5zM426.2 611.7l5.0 -4.5l5.0 4.5l-5.0 4.5zM405.2 696.7l5.0 -4.5l5.0 4.5l-5.0 4.5zM407.4 696.7l5.0 -4.5l5.0 4.5l-5.0 4.5zM410.4 697.2l5.0 -4.5l5.0 4.5l-5.0 4.5zM411.8 696.9l5.0 -4.5l5.0 4.5l-5.0 4.5zM414.2 697.2l5.0 -4.5l5.0 4.5l-5.0 4.5zM416.8 696.4l5.0 -4.5l5.0 4.5l-5.0 4.5zM419.2 697.1l5.0 -4.5l5.0 4.5l-5.0 4.5zM421.8 696.5l5.0 -4.5l5.0 4.5l-5.0 4.5zM423.2 697.5l5.0 -4.5l5.0 4.5l-5.0 4.5zM426.0 696.7l5.0 -4.5l5.0 4.5l-5.0 4.5zM428.0 738.0l5.0 -4.5l5.0 4.5l-5.0 4.5zM390.5 743.5l5.0 -4.5l5.0 4.5l-5.0 4.5zM393.0 743.6l5.0 -4.5l5.0 4.5l-5.0 4.5zM395.2 743.4l5.0 -4.5l5.0 4.5l-5.0 4.5zM397.5 742.5l5.0 -4.5l5.0 4.5l-5.0 4.5zM400.0 743.7l5.0 -4.5l5.0 4.5l-5.0 4.5zM402.7 742.7l5.0 -4.5l5.0 4.5l-5.0 4.5zM405.5 743.5l5.0 -4.5l5.0 4.5l-5.0 4.5zM420.5 743.5l5.0 -4.5l5.0 4.5l-5.0 4.5zM423.0 743.9l5.0 -4.5l5.0 4.5l-5.0 4.5zM425.5 743.8l5.0 -4.5l5.0 4.5l-5.0 4.5zM427.8 744.2l5.0 -4.5l5.0 4.5l-5.0 4.5zM429.5 743.5l5.0 -4.5l5.0 4.5l-5.0 4.5zM400.7 832.6l5.0 -4.5l5.0 4.5l-5.0 4.5zM419.0 832.6l5.0 -4.5l5.0 4.5l-5.0 4.5zM430.0 832.6l5.0 -4.5l5.0 4.5l-5.0 4.5zM391.5 897.8l5.0 -4.5l5.0 4.5l-5.0 4.5zM393.7 897.2l5.0 -4.5l5.0 4.5l-5.0 4.5zM396.6 897.8l5.0 -4.5l5.0 4.5l-5.0 4.5zM399.1 897.0l5.0 -4.5l5.0 4.5l-5.0 4.5zM401.8 898.6l5.0 -4.5l5.0 4.5l-5.0 4.5zM403.5 898.3l5.0 -4.5l5.0 4.5l-5.0 4.5zM405.8 897.1l5.0 -4.5l5.0 4.5l-5.0 4.5zM409.2 898.6l5.0 -4.5l5.0 4.5l-5.0 4.5zM411.8 897.7l5.0 -4.5l5.0 4.5l-5.0 4.5zM414.3 898.7l5.0 -4.5l5.0 4.5l-5.0 4.5zM416.0 898.4l5.0 -4.5l5.0 4.5l-5.0 4.5zM418.6 897.8l5.0 -4.5l5.0 4.5l-5.0 4.5zM421.2 897.4l5.0 -4.5l5.0 4.5l-5.0 4.5zM423.8 898.7l5.0 -4.5l5.0 4.5l-5.0 4.5zM425.9 897.7l5.0 -4.5l5.0 4.5l-5.0 4.5zM428.9 897.0l5.0 -4.5l5.0 4.5l-5.0 4.5zM431.0 897.8l5.0 -4.5l5.0 4.5l-5.0 4.5zM413.5 995.0l5.0 -4.5l5.0 4.5l-5.0 4.5zM416.4 995.8l5.0 -4.5l5.0 4.5l-5.0 4.5zM418.7 994.5l5.0 -4.5l5.0 4.5l-5.0 4.5zM420.4 994.9l5.0 -4.5l5.0 4.5l-5.0 4.5zM423.5 995.0l5.0 -4.5l5.0 4.5l-5.0 4.5zM364.5 1041.0l5.5 -5.5l5.5 5.5l-5.5 5.5zM374.0 1041.0l5.5 -5.5l5.5 5.5l-5.5 5.5zM385.5 1041.0l5.5 -5.5l5.5 5.5l-5.5 5.5zM396.1 1041.0l5.5 -5.5l5.5 5.5l-5.5 5.5zM399.0 1040.4l5.5 -5.5l5.5 5.5l-5.5 5.5zM400.3 1041.3l5.5 -5.5l5.5 5.5l-5.5 5.5zM403.1 1040.5l5.5 -5.5l5.5 5.5l-5.5 5.5zM405.4 1041.4l5.5 -5.5l5.5 5.5l-5.5 5.5zM408.2 1041.1l5.5 -5.5l5.5 5.5l-5.5 5.5zM410.8 1040.5l5.5 -5.5l5.5 5.5l-5.5 5.5zM412.6 1040.7l5.5 -5.5l5.5 5.5l-5.5 5.5zM415.6 1042.0l5.5 -5.5l5.5 5.5l-5.5 5.5zM417.3 1040.7l5.5 -5.5l5.5 5.5l-5.5 5.5zM419.5 1041.5l5.5 -5.5l5.5 5.5l-5.5 5.5zM422.1 1041.8l5.5 -5.5l5.5 5.5l-5.5 5.5zM424.6 1041.0l5.5 -5.5l5.5 5.5l-5.5 5.5zM423.0 1050.8l6.0 -5.5l6.0 5.5l-6.0 5.5zM417.8 1059.6l5.0 -4.5l5.0 4.5l-5.0 4.5zM388.5 1073.0l5.0 -4.5l5.0 4.5l-5.0 4.5zM391.4 1073.0l5.0 -4.5l5.0 4.5l-5.0 4.5zM393.2 1072.4l5.0 -4.5l5.0 4.5l-5.0 4.5zM396.4 1073.9l5.0 -4.5l5.0 4.5l-5.0 4.5zM398.1 1072.2l5.0 -4.5l5.0 4.5l-5.0 4.5zM400.9 1072.1l5.0 -4.5l5.0 4.5l-5.0 4.5zM403.3 1072.1l5.0 -4.5l5.0 4.5l-5.0 4.5zM405.7 1072.0l5.0 -4.5l5.0 4.5l-5.0 4.5zM408.6 1073.8l5.0 -4.5l5.0 4.5l-5.0 4.5zM410.5 1072.6l5.0 -4.5l5.0 4.5l-5.0 4.5zM413.6 1073.3l5.0 -4.5l5.0 4.5l-5.0 4.5zM415.2 1073.2l5.0 -4.5l5.0 4.5l-5.0 4.5zM418.6 1073.9l5.0 -4.5l5.0 4.5l-5.0 4.5zM420.6 1072.0l5.0 -4.5l5.0 4.5l-5.0 4.5zM422.6 1072.0l5.0 -4.5l5.0 4.5l-5.0 4.5zM425.5 1073.0l5.0 -4.5l5.0 4.5l-5.0 4.5zM430.4 1082.0l5.0 -4.5l5.0 4.5l-5.0 4.5zM377.5 1176.3l5.0 -4.5l5.0 4.5l-5.0 4.5zM392.9 1176.3l5.0 -4.5l5.0 4.5l-5.0 4.5zM401.3 1176.3l5.0 -4.5l5.0 4.5l-5.0 4.5zM412.8 1176.3l5.0 -4.5l5.0 4.5l-5.0 4.5zM424.3 1176.3l5.0 -4.5l5.0 4.5l-5.0 4.5zM430.0 1176.3l5.0 -4.5l5.0 4.5l-5.0 4.5zM329.6 1202.2l5.0 -4.5l5.0 4.5l-5.0 4.5zM431.0 1203.2l5.0 -4.5l5.0 4.5l-5.0 4.5zM426.0 1211.6l6.0 -5.5l6.0 5.5l-6.0 5.5zM388.5 1279.3l5.0 -4.5l5.0 4.5l-5.0 4.5zM390.4 1279.8l5.0 -4.5l5.0 4.5l-5.0 4.5zM393.5 1279.4l5.0 -4.5l5.0 4.5l-5.0 4.5zM396.4 1280.0l5.0 -4.5l5.0 4.5l-5.0 4.5zM398.6 1279.4l5.0 -4.5l5.0 4.5l-5.0 4.5zM400.7 1279.8l5.0 -4.5l5.0 4.5l-5.0 4.5zM402.7 1278.6l5.0 -4.5l5.0 4.5l-5.0 4.5zM405.9 1278.3l5.0 -4.5l5.0 4.5l-5.0 4.5zM408.6 1278.4l5.0 -4.5l5.0 4.5l-5.0 4.5zM410.9 1280.1l5.0 -4.5l5.0 4.5l-5.0 4.5zM412.9 1278.4l5.0 -4.5l5.0 4.5l-5.0 4.5zM415.8 1279.3l5.0 -4.5l5.0 4.5l-5.0 4.5zM418.2 1279.6l5.0 -4.5l5.0 4.5l-5.0 4.5zM419.9 1279.1l5.0 -4.5l5.0 4.5l-5.0 4.5zM423.0 1278.7l5.0 -4.5l5.0 4.5l-5.0 4.5zM424.8 1279.7l5.0 -4.5l5.0 4.5l-5.0 4.5zM427.6 1280.1l5.0 -4.5l5.0 4.5l-5.0 4.5zM430.1 1279.3l5.0 -4.5l5.0 4.5l-5.0 4.5zM367.5 1304.5l5.0 -4.5l5.0 4.5l-5.0 4.5zM377.5 1304.5l5.0 -4.5l5.0 4.5l-5.0 4.5zM387.5 1304.5l5.0 -4.5l5.0 4.5l-5.0 4.5zM395.0 1304.5l5.0 -4.5l5.0 4.5l-5.0 4.5zM409.5 1304.5l5.0 -4.5l5.0 4.5l-5.0 4.5zM411.4 1304.5l5.0 -4.5l5.0 4.5l-5.0 4.5zM413.4 1304.5l5.0 -4.5l5.0 4.5l-5.0 4.5zM415.8 1304.7l5.0 -4.5l5.0 4.5l-5.0 4.5zM418.3 1304.3l5.0 -4.5l5.0 4.5l-5.0 4.5zM420.9 1304.7l5.0 -4.5l5.0 4.5l-5.0 4.5zM422.5 1303.5l5.0 -4.5l5.0 4.5l-5.0 4.5zM425.4 1304.4l5.0 -4.5l5.0 4.5l-5.0 4.5zM427.5 1304.5l5.0 -4.5l5.0 4.5l-5.0 4.5zM393.3 1324.6l5.0 -4.5l5.0 4.5l-5.0 4.5zM425.4 1324.6l5.0 -4.5l5.0 4.5l-5.0 4.5zM417.4 1370.5l5.5 -5.0l5.5 5.0l-5.5 5.0zM420.1 1371.1l5.5 -5.0l5.5 5.0l-5.5 5.0zM422.3 1370.2l5.5 -5.0l5.5 5.0l-5.5 5.0zM424.0 1370.1l5.5 -5.0l5.5 5.0l-5.5 5.0zM426.6 1371.1l5.5 -5.0l5.5 5.0l-5.5 5.0zM428.2 1370.5l5.5 -5.0l5.5 5.0l-5.5 5.0zM380.5 1374.7l5.0 -4.8l5.0 4.8l-5.0 4.8zM403.3 1374.7l5.0 -4.8l5.0 4.8l-5.0 4.8zM406.2 1374.4l5.0 -4.8l5.0 4.8l-5.0 4.8zM408.4 1374.8l5.0 -4.8l5.0 4.8l-5.0 4.8zM410.3 1374.7l5.0 -4.8l5.0 4.8l-5.0 4.8zM412.7 1374.8l5.0 -4.8l5.0 4.8l-5.0 4.8zM415.1 1375.1l5.0 -4.8l5.0 4.8l-5.0 4.8zM417.2 1374.4l5.0 -4.8l5.0 4.8l-5.0 4.8zM419.7 1374.2l5.0 -4.8l5.0 4.8l-5.0 4.8zM422.5 1374.4l5.0 -4.8l5.0 4.8l-5.0 4.8zM424.8 1374.6l5.0 -4.8l5.0 4.8l-5.0 4.8zM426.9 1374.1l5.0 -4.8l5.0 4.8l-5.0 4.8zM429.2 1374.7l5.0 -4.8l5.0 4.8l-5.0 4.8zM425.2 1418.3l5.5 -5.5l5.5 5.5l-5.5 5.5zM428.2 1418.3l5.5 -5.5l5.5 5.5l-5.5 5.5zM427.3 1446.8l5.0 -4.5l5.0 4.5l-5.0 4.5zM360.1 1502.5l5.0 -4.5l5.0 4.5l-5.0 4.5zM361.9 1502.4l5.0 -4.5l5.0 4.5l-5.0 4.5zM364.7 1502.8l5.0 -4.5l5.0 4.5l-5.0 4.5zM367.6 1501.9l5.0 -4.5l5.0 4.5l-5.0 4.5zM369.5 1503.4l5.0 -4.5l5.0 4.5l-5.0 4.5zM371.5 1502.6l5.0 -4.5l5.0 4.5l-5.0 4.5zM373.8 1502.2l5.0 -4.5l5.0 4.5l-5.0 4.5zM376.6 1503.5l5.0 -4.5l5.0 4.5l-5.0 4.5zM379.7 1502.9l5.0 -4.5l5.0 4.5l-5.0 4.5zM381.3 1503.2l5.0 -4.5l5.0 4.5l-5.0 4.5zM384.4 1502.6l5.0 -4.5l5.0 4.5l-5.0 4.5zM386.3 1501.5l5.0 -4.5l5.0 4.5l-5.0 4.5zM388.0 1502.2l5.0 -4.5l5.0 4.5l-5.0 4.5zM391.4 1502.1l5.0 -4.5l5.0 4.5l-5.0 4.5zM393.8 1502.5l5.0 -4.5l5.0 4.5l-5.0 4.5zM395.5 1502.9l5.0 -4.5l5.0 4.5l-5.0 4.5zM397.7 1503.4l5.0 -4.5l5.0 4.5l-5.0 4.5zM400.1 1501.7l5.0 -4.5l5.0 4.5l-5.0 4.5zM402.9 1503.0l5.0 -4.5l5.0 4.5l-5.0 4.5zM405.3 1502.8l5.0 -4.5l5.0 4.5l-5.0 4.5zM407.9 1502.6l5.0 -4.5l5.0 4.5l-5.0 4.5zM409.6 1502.0l5.0 -4.5l5.0 4.5l-5.0 4.5zM412.3 1502.5l5.0 -4.5l5.0 4.5l-5.0 4.5zM414.4 1501.9l5.0 -4.5l5.0 4.5l-5.0 4.5zM416.5 1501.5l5.0 -4.5l5.0 4.5l-5.0 4.5zM419.5 1502.0l5.0 -4.5l5.0 4.5l-5.0 4.5zM422.3 1501.9l5.0 -4.5l5.0 4.5l-5.0 4.5zM423.6 1502.5l5.0 -4.5l5.0 4.5l-5.0 4.5zM426.7 1502.9l5.0 -4.5l5.0 4.5l-5.0 4.5zM429.1 1503.3l5.0 -4.5l5.0 4.5l-5.0 4.5zM431.3 1502.5l5.0 -4.5l5.0 4.5l-5.0 4.5z"/>
<line x1="436" y1="60" x2="436" y2="1509" stroke="#505050" stroke-width="1.5" stroke-dasharray="3.2 4.95"/>
<path d="M54.9 54.2V56.8H513.6V54.2" fill="none" stroke="#000" stroke-width="1.6"/>
<text x="56.0" y="49.2" text-anchor="middle">42</text>
<text x="121.3" y="49.2" text-anchor="middle">36</text>
<text x="186.7" y="49.2" text-anchor="middle">30</text>
<text x="252.0" y="49.2" text-anchor="middle">24</text>
<text x="317.6" y="49.2" text-anchor="middle">18</text>
<text x="383.0" y="49.2" text-anchor="middle">12</text>
<text x="448.1" y="49.2" text-anchor="middle">6</text>
<text x="513.3" y="49.2" text-anchor="middle">0</text>
<text x="283.5" y="14.8" text-anchor="middle">–Log(<tspan font-style="italic">P</tspan>)</text>
<path d="M495 62.0L565.5 78.5M495 81.0L565.5 99.0M495 102.7L565.5 121.0M495 161.0L565.5 142.0M495 167.7L565.5 163.0M495 197.3L565.5 185.0M495 214.0L565.5 206.0M495 260.9L565.5 229.4M495 272.4L565.5 251.0M495 276.6L565.5 272.0M495 292.4L565.5 292.4M495 298.0L565.5 314.4M495 300.7L565.5 336.0M495 326.0L565.5 357.4M495 331.0L565.5 377.3M495 332.0L565.5 441.3M495 340.6L565.5 464.4M495 367.0L565.5 486.0M495 397.0L565.5 502.5M495 475.7L565.5 528.5M495 481.0L565.5 549.0M495 518.0L565.5 568.7M495 571.0L565.5 593.0M495 589.4L565.5 615.0M495 594.8L565.5 636.0M495 611.0L565.5 656.0M495 653.6L565.5 674.6M495 696.7L565.5 701.6M495 726.0L565.5 721.5M495 729.7L565.5 742.5M495 737.7L565.5 782.5M495 744.6L565.5 806.5M495 744.6L565.5 828.2M495 744.6L565.5 849.8M495 831.7L565.5 870.0M495 897.7L565.5 892.0M495 995.3L565.5 912.0M495 1001.8L565.5 935.7M495 1036.6L565.5 957.8M495 1040.3L565.5 978.0M495 1046.0L565.5 999.0M495 1050.0L565.5 1021.0M495 1053.0L565.5 1041.0M495 1057.7L565.5 1064.0M495 1059.5L565.5 1084.0M495 1072.5L565.5 1100.0M495 1081.8L565.5 1126.8M495 1179.0L565.5 1146.0M495 1179.0L565.5 1170.8M495 1202.0L565.5 1191.0M495 1205.6L565.5 1211.0M495 1208.4L565.5 1235.0M495 1212.0L565.5 1257.0M495 1256.0L565.5 1278.4M495 1278.4L565.5 1295.8M495 1305.0L565.5 1320.6M495 1324.3L565.5 1342.6M495 1370.0L565.5 1361.0M495 1374.7L565.5 1385.7M495 1417.8L565.5 1403.0M495 1419.6L565.5 1429.0M495 1445.6L565.5 1448.8M495 1446.7L565.5 1471.6M495 1504.0L565.5 1491.0" fill="none" stroke="#000" stroke-width="3" stroke-dasharray="7.8 3.2"/>
<text x="582" y="50.6">Region</text>
<text x="749" y="50.2" text-anchor="middle">Snp</text>
<text x="847.3" y="50.2">MAF</text>
<text x="1062.3" y="50.5" text-anchor="middle" style="font-size:16.9px">Candidate genes</text>
<text x="582" y="84.20">1p36.31</text>
<text x="701.2" y="84.20">rs145358377</text>
<text x="848" y="84.20">0.36</text>
<text x="1062.3" y="83.75" text-anchor="middle" font-style="italic" style="font-size:16.9px"><tspan>RNF207</tspan><tspan font-style="normal" font-size="11.5" dy="-8.0">nc</tspan><tspan dy="8.0">​</tspan><tspan font-style="normal">; </tspan><tspan>ICMT</tspan><tspan font-style="normal" font-size="11.5" dy="-8.0">n</tspan><tspan dy="8.0">​</tspan></text>
<text x="582" y="104.60">1p34.1</text>
<text x="701.2" y="104.60">rs272564</text>
<text x="848" y="104.60">0.28</text>
<text x="1062.3" y="103.75" text-anchor="middle" font-style="italic" style="font-size:16.9px"><tspan>RNF220</tspan><tspan font-style="normal" font-size="11.5" dy="-8.0">n</tspan><tspan dy="8.0">​</tspan></text>
<text x="582" y="126.80">1p22.3</text>
<text x="701.2" y="126.80">rs2152735</text>
<text x="848" y="126.80">0.33</text>
<text x="1062.3" y="126.25" text-anchor="middle" font-style="italic" style="font-size:16.9px"><tspan>LMO4</tspan><tspan font-style="normal" font-size="11.5" dy="-8.0">n</tspan><tspan dy="8.0">​</tspan></text>
<text x="582" y="147.50">1q32.2</text>
<text x="701.2" y="147.50">rs41317993</text>
<text x="848" y="147.50">0.10</text>
<text x="1062.3" y="146.25" text-anchor="middle" font-style="italic" style="font-size:16.9px"><tspan>CD46</tspan><tspan font-style="normal" font-size="11.5" dy="-8.0">n</tspan><tspan dy="8.0">​</tspan><tspan font-style="normal">; </tspan><tspan>CD34</tspan><tspan font-style="normal" font-size="11.5" dy="-8.0">d</tspan><tspan dy="8.0">​</tspan></text>
<text x="582" y="169.50">1q41</text>
<text x="701.2" y="169.50">rs11454451</text>
<text x="848" y="169.50">0.26</text>
<text x="1062.3" y="169.25" text-anchor="middle" font-style="italic" style="font-size:16.9px"><tspan>GPATCH2</tspan><tspan font-style="normal" font-size="11.5" dy="-8.0">n</tspan><tspan dy="8.0">​</tspan></text>
<text x="582" y="190.10">2p23.3</text>
<text x="701.2" y="190.10">rs1260326</text>
<text x="848" y="190.10">0.39</text>
<text x="1062.3" y="190.00" text-anchor="middle" font-style="italic" style="font-size:16.9px"><tspan>GCKR</tspan><tspan font-style="normal" font-size="11.5" dy="-8.0">nc</tspan><tspan dy="8.0">​</tspan></text>
<text x="582" y="210.40">2p16.1</text>
<text x="701.2" y="210.40">rs12713404</text>
<text x="848" y="210.40">0.38</text>
<text x="1062.3" y="210.00" text-anchor="middle" font-style="italic" style="font-size:16.9px"><tspan>BCL11A</tspan><tspan font-style="normal" font-size="11.5" dy="-8.0">n</tspan><tspan dy="8.0">​</tspan></text>
<text x="582" y="233.30">2q31.1</text>
<text x="701.2" y="233.30">rs564190295</text>
<text x="848" y="233.30">0.15</text>
<text x="1062.3" y="232.50" text-anchor="middle" font-style="italic" style="font-size:16.9px"><tspan>WIPF1</tspan><tspan font-style="normal" font-size="11.5" dy="-8.0">n</tspan><tspan dy="8.0">​</tspan></text>
<text x="582" y="253.30">2q31.2</text>
<text x="701.2" y="253.30">rs151041685</text>
<text x="848" y="253.30">0.09</text>
<text x="1062.3" y="253.75" text-anchor="middle" font-style="italic" style="font-size:16.9px"><tspan>CCDC141</tspan><tspan font-style="normal" font-size="11.5" dy="-8.0">ncd</tspan><tspan dy="8.0">​</tspan><tspan font-style="normal">; </tspan><tspan>TTN</tspan><tspan font-style="normal" font-size="11.5" dy="-8.0">d</tspan><tspan dy="8.0">​</tspan></text>
<text x="582" y="276.70">2q32.1</text>
<text x="701.2" y="276.70">rs62172372</text>
<text x="848" y="276.70">0.19</text>
<text x="1062.3" y="276.25" text-anchor="middle" font-style="italic" style="font-size:16.9px"><tspan>CALCRL</tspan><tspan font-style="normal" font-size="11.5" dy="-8.0">ne</tspan><tspan dy="8.0">​</tspan></text>
<text x="582" y="297.30">2q35</text>
<text x="701.2" y="297.30">rs907683</text>
<text x="848" y="297.30">0.43</text>
<text x="1062.3" y="297.00" text-anchor="middle" font-style="italic" style="font-size:16.9px"><tspan>SPEG</tspan><tspan font-style="normal" font-size="11.5" dy="-8.0">nd</tspan><tspan dy="8.0">​</tspan><tspan font-style="normal">; </tspan><tspan>DES</tspan><tspan font-style="normal" font-size="11.5" dy="-8.0">n</tspan><tspan dy="8.0">​</tspan></text>
<text x="582" y="319.30">2q36.3</text>
<text x="701.2" y="317.40">rs4608502</text>
<text x="848" y="317.40">0.33</text>
<text x="1062.3" y="317.50" text-anchor="middle" font-style="italic" style="font-size:16.9px"><tspan>COL4A3</tspan><tspan font-style="normal" font-size="11.5" dy="-8.0">n</tspan><tspan dy="8.0">​</tspan></text>
<text x="582" y="340.80">2q37.1</text>
<text x="701.2" y="340.80">rs13002735</text>
<text x="848" y="340.80">0.24</text>
<text x="1062.3" y="340.00" text-anchor="middle" font-style="italic" style="font-size:16.9px"><tspan>B3GNT7</tspan><tspan font-style="normal" font-size="11.5" dy="-8.0">nc</tspan><tspan dy="8.0">​</tspan></text>
<text x="582" y="362.80">3p22.2</text>
<text x="701.2" y="360.80">rs41312411</text>
<text x="848" y="360.80">0.15</text>
<text x="1062.3" y="360.50" text-anchor="middle" font-style="italic" style="font-size:16.9px"><tspan>SCN5A</tspan><tspan font-style="normal" font-size="11.5" dy="-8.0">nd</tspan><tspan dy="8.0">​</tspan></text>
<text x="582" y="385.30">3p21.31</text>
<text x="701.2" y="383.40">rs3749237</text>
<text x="848" y="383.40">0.32</text>
<text x="1062.3" y="383.25" text-anchor="middle" font-style="italic" style="font-size:16.9px"><tspan>IP6K1</tspan><tspan font-style="normal" font-size="11.5" dy="-8.0">n</tspan><tspan dy="8.0">​</tspan><tspan font-style="normal">; </tspan><tspan>GMPPB</tspan><tspan font-style="normal" font-size="11.5" dy="-8.0">n</tspan><tspan dy="8.0">​</tspan><tspan font-style="normal">; </tspan><tspan>FAM212A</tspan><tspan font-style="normal" font-size="11.5" dy="-8.0">d</tspan><tspan dy="8.0">​</tspan></text>
<text x="1062.3" y="403.00" text-anchor="middle" font-style="italic" style="font-size:16.9px"><tspan>DAG1</tspan><tspan font-style="normal" font-size="11.5" dy="-8.0">d</tspan><tspan dy="8.0">​</tspan><tspan font-style="normal">; </tspan><tspan>KLHDC8B</tspan><tspan font-style="normal" font-size="11.5" dy="-8.0">ed</tspan><tspan dy="8.0">​</tspan><tspan font-style="normal">; </tspan><tspan>LAMB2</tspan><tspan font-style="normal" font-size="11.5" dy="-8.0">d</tspan><tspan dy="8.0">​</tspan></text>
<text x="1062.3" y="424.25" text-anchor="middle" font-style="italic" style="font-size:16.9px"><tspan>PRKAR2A</tspan><tspan font-style="normal" font-size="11.5" dy="-8.0">d</tspan><tspan dy="8.0">​</tspan><tspan font-style="normal">; </tspan><tspan>QRICH1</tspan><tspan font-style="normal" font-size="11.5" dy="-8.0">ed</tspan><tspan dy="8.0">​</tspan></text>
<text x="582" y="447.00">3p21.1</text>
<text x="701.2" y="447.00">rs2358740</text>
<text x="848" y="447.00">0.32</text>
<text x="1062.3" y="446.75" text-anchor="middle" font-style="italic" style="font-size:16.9px"><tspan>CACNA1D</tspan><tspan font-style="normal" font-size="11.5" dy="-8.0">n</tspan><tspan dy="8.0">​</tspan></text>
<text x="582" y="468.90">3p14.1</text>
<text x="701.2" y="468.90">rs1483890</text>
<text x="848" y="468.90">0.30</text>
<text x="1062.3" y="472.50" text-anchor="middle" font-style="italic" style="font-size:16.9px"><tspan>FRMD4B</tspan><tspan font-style="normal" font-size="11.5" dy="-8.0">n</tspan><tspan dy="8.0">​</tspan></text>
<text x="582" y="491.70">3q21.1</text>
<text x="701.2" y="491.70">rs11920570</text>
<text x="848" y="491.70">0.26</text>
<text x="1062.3" y="495.00" text-anchor="middle" font-style="italic" style="font-size:16.9px"><tspan>CCDC58</tspan><tspan font-style="normal" font-size="11.5" dy="-8.0">n</tspan><tspan dy="8.0">​</tspan></text>
<text x="582" y="512.00">3q26.33</text>
<text x="701.2" y="512.00">rs7612445</text>
<text x="848" y="512.00">0.19</text>
<text x="1062.3" y="515.50" text-anchor="middle" font-style="italic" style="font-size:16.9px"><tspan>GNB4</tspan><tspan font-style="normal" font-size="11.5" dy="-8.0">n</tspan><tspan dy="8.0">​</tspan></text>
<text x="582" y="534.90">4p15.2</text>
<text x="701.2" y="534.90">rs12501032</text>
<text x="848" y="534.90">0.31</text>
<text x="1062.3" y="538.00" text-anchor="middle" font-style="italic" style="font-size:16.9px"><tspan>PPARGC1A</tspan><tspan font-style="normal" font-size="11.5" dy="-8.0">n</tspan><tspan dy="8.0">​</tspan></text>
<text x="582" y="555.00">4q31.23</text>
<text x="701.2" y="555.00">rs6845865</text>
<text x="848" y="555.00">0.16</text>
<text x="1062.3" y="558.75" text-anchor="middle" font-style="italic" style="font-size:16.9px"><tspan>ARHGAP10</tspan><tspan font-style="normal" font-size="11.5" dy="-8.0">nd</tspan><tspan dy="8.0">​</tspan><tspan font-style="normal">; </tspan><tspan>EDNRA</tspan><tspan font-style="normal" font-size="11.5" dy="-8.0">d</tspan><tspan dy="8.0">​</tspan></text>
<text x="582" y="576.10">5p13.3</text>
<text x="701.2" y="576.10">rs13165531</text>
<text x="848" y="576.10">0.42</text>
<text x="1062.3" y="579.50" text-anchor="middle" font-style="italic" style="font-size:16.9px"><tspan>CDH6</tspan><tspan font-style="normal" font-size="11.5" dy="-8.0">n</tspan><tspan dy="8.0">​</tspan></text>
<text x="582" y="599.00">5q31.2</text>
<text x="701.2" y="599.00">rs35284930</text>
<text x="848" y="599.00">0.42</text>
<text x="1062.3" y="598.00" text-anchor="middle" font-style="italic" style="font-size:16.9px"><tspan>CDC23</tspan><tspan font-style="normal" font-size="11.5" dy="-8.0">n</tspan><tspan dy="8.0">​</tspan></text>
<text x="582" y="619.30">5q35.1</text>
<text x="701.2" y="619.30">rs4868243</text>
<text x="848" y="619.30">0.16</text>
<text x="1062.3" y="622.00" text-anchor="middle" font-style="italic" style="font-size:16.9px"><tspan>NKX2-5</tspan><tspan font-style="normal" font-size="11.5" dy="-8.0">n</tspan><tspan dy="8.0">​</tspan></text>
<text x="582" y="642.00">6p21.2</text>
<text x="701.2" y="642.00">rs236349</text>
<text x="848" y="642.00">0.34</text>
<text x="1062.3" y="645.00" text-anchor="middle" font-style="italic" style="font-size:16.9px"><tspan>PPIL1</tspan><tspan font-style="normal" font-size="11.5" dy="-8.0">ne</tspan><tspan dy="8.0">​</tspan></text>
<text x="582" y="662.60">6q22.31</text>
<text x="701.2" y="662.60">rs3951016</text>
<text x="848" y="662.60">0.47</text>
<text x="1062.3" y="665.50" text-anchor="middle" font-style="italic" style="font-size:16.9px"><tspan>SCLC35F1</tspan><tspan font-style="normal" font-size="11.5" dy="-8.0">n</tspan><tspan dy="8.0">​</tspan><tspan font-style="normal">; </tspan><tspan>PLN</tspan><tspan font-style="normal" font-size="11.5" dy="-8.0">d</tspan><tspan dy="8.0">​</tspan></text>
<text x="582" y="682.70">6q22.31</text>
<text x="701.2" y="682.70">rs1320761</text>
<text x="848" y="682.70">0.11</text>
<text x="1062.3" y="685.50" text-anchor="middle" font-style="italic" style="font-size:16.9px"><tspan>GJA1</tspan><tspan font-style="normal" font-size="11.5" dy="-8.0">n</tspan><tspan dy="8.0">​</tspan></text>
<text x="582" y="705.30">7p14.2</text>
<text x="701.2" y="705.30">rs58437978</text>
<text x="848" y="705.30">0.50</text>
<text x="1062.3" y="709.50" text-anchor="middle" font-style="italic" style="font-size:16.9px"><tspan>TBX20</tspan><tspan font-style="normal" font-size="11.5" dy="-8.0">n</tspan><tspan dy="8.0">​</tspan></text>
<text x="582" y="725.90">7q21.3</text>
<text x="701.2" y="725.90">rs180239</text>
<text x="848" y="725.90">0.35</text>
<text x="1062.3" y="729.50" text-anchor="middle" font-style="italic" style="font-size:16.9px"><tspan>GNGT1</tspan><tspan font-style="normal" font-size="11.5" dy="-8.0">n</tspan><tspan dy="8.0">​</tspan><tspan font-style="normal">; </tspan><tspan>GNG11</tspan><tspan font-style="normal" font-size="11.5" dy="-8.0">n</tspan><tspan dy="8.0">​</tspan></text>
<text x="582" y="748.70">7q22.1</text>
<text x="701.2" y="748.70">rs17881696</text>
<text x="848" y="748.70">0.18</text>
<text x="1062.3" y="752.00" text-anchor="middle" font-style="italic" style="font-size:16.9px"><tspan>UFSP1</tspan><tspan font-style="normal" font-size="11.5" dy="-8.0">nc</tspan><tspan dy="8.0">​</tspan><tspan font-style="normal">; </tspan><tspan>SRRT</tspan><tspan font-style="normal" font-size="11.5" dy="-8.0">n</tspan><tspan dy="8.0">​</tspan><tspan font-style="normal">; </tspan><tspan>ACHE</tspan><tspan font-style="normal" font-size="11.5" dy="-8.0">ne</tspan><tspan dy="8.0">​</tspan><tspan font-style="normal">; </tspan><tspan>EPHB4</tspan><tspan font-style="normal" font-size="11.5" dy="-8.0">d</tspan><tspan dy="8.0">​</tspan></text>
<text x="1062.3" y="772.50" text-anchor="middle" font-style="italic" style="font-size:16.9px"><tspan>GIGYF1</tspan><tspan font-style="normal" font-size="11.5" dy="-8.0">d</tspan><tspan dy="8.0">​</tspan><tspan font-style="normal">; </tspan><tspan>PCOLCE</tspan><tspan font-style="normal" font-size="11.5" dy="-8.0">d</tspan><tspan dy="8.0">​</tspan></text>
<text x="582" y="789.10">7q31.2</text>
<text x="701.2" y="789.10">rs41748</text>
<text x="848" y="789.10">0.45</text>
<text x="1062.3" y="793.00" text-anchor="middle" font-style="italic" style="font-size:16.9px"><tspan>MET</tspan><tspan font-style="normal" font-size="11.5" dy="-8.0">n</tspan><tspan dy="8.0">​</tspan></text>
<text x="582" y="812.20">7q31.33</text>
<text x="701.2" y="812.20">rs11563648</text>
<text x="848" y="812.20">0.27</text>
<text x="1062.3" y="816.25" text-anchor="middle" font-style="italic" style="font-size:16.9px"><tspan>ZNF800</tspan><tspan font-style="normal" font-size="11.5" dy="-8.0">n</tspan><tspan dy="8.0">​</tspan></text>
<text x="582" y="834.40">7q32.3</text>
<text x="701.2" y="834.40">rs138186803</text>
<text x="848" y="834.40">0.41</text>
<text x="1062.3" y="837.50" text-anchor="middle" font-style="italic" style="font-size:16.9px"><tspan>MKLN1</tspan><tspan font-style="normal" font-size="11.5" dy="-8.0">n</tspan><tspan dy="8.0">​</tspan></text>
<text x="582" y="855.60">7q33</text>
<text x="701.2" y="855.60">rs73158705</text>
<text x="848" y="855.60">0.16</text>
<text x="1062.3" y="859.50" text-anchor="middle" font-style="italic" style="font-size:16.9px"><tspan>CHRM2</tspan><tspan font-style="normal" font-size="11.5" dy="-8.0">n</tspan><tspan dy="8.0">​</tspan></text>
<text x="582" y="876.20">8q24.3</text>
<text x="701.2" y="876.20">rs56233017</text>
<text x="848" y="876.20">0.04</text>
<text x="1062.3" y="879.50" text-anchor="middle" font-style="italic" style="font-size:16.9px"><tspan>PLEC</tspan><tspan font-style="normal" font-size="11.5" dy="-8.0">n</tspan><tspan dy="8.0">​</tspan></text>
<text x="582" y="896.30">9q33.3</text>
<text x="701.2" y="896.30">rs10739663</text>
<text x="848" y="896.30">0.45</text>
<text x="1062.3" y="900.00" text-anchor="middle" font-style="italic" style="font-size:16.9px"><tspan>MAPKAP1</tspan><tspan font-style="normal" font-size="11.5" dy="-8.0">ne</tspan><tspan dy="8.0">​</tspan></text>
<text x="582" y="917.70">11p11.2</text>
<text x="701.2" y="919.60">rs12576326</text>
<text x="848" y="919.60">0.34</text>
<text x="1062.3" y="922.25" text-anchor="middle" font-style="italic" style="font-size:16.9px"><tspan>TP53I11</tspan><tspan font-style="normal" font-size="11.5" dy="-8.0">n</tspan><tspan dy="8.0">​</tspan></text>
<text x="582" y="939.70">11q12.2</text>
<text x="701.2" y="939.70">rs11320420</text>
<text x="848" y="939.70">0.34</text>
<text x="1062.3" y="943.75" text-anchor="middle" font-style="italic" style="font-size:16.9px"><tspan>MYRF</tspan><tspan font-style="normal" font-size="11.5" dy="-8.0">n</tspan><tspan dy="8.0">​</tspan><tspan font-style="normal">; </tspan><tspan>FEN1</tspan><tspan font-style="normal" font-size="11.5" dy="-8.0">e</tspan><tspan dy="8.0">​</tspan><tspan font-style="normal">; </tspan><tspan>FADS2</tspan><tspan font-style="normal" font-size="11.5" dy="-8.0">e</tspan><tspan dy="8.0">​</tspan><tspan font-style="normal">; </tspan><tspan>TMEM258</tspan><tspan font-style="normal" font-size="11.5" dy="-8.0">e</tspan><tspan dy="8.0">​</tspan></text>
<text x="582" y="962.30">11q24.3</text>
<text x="701.2" y="962.30">rs75190942</text>
<text x="848" y="962.30">0.09</text>
<text x="1062.3" y="966.25" text-anchor="middle" font-style="italic" style="font-size:16.9px"><tspan>KCNJ5</tspan><tspan font-style="normal" font-size="11.5" dy="-8.0">nd</tspan><tspan dy="8.0">​</tspan><tspan font-style="normal">; </tspan><tspan>C11orf45</tspan><tspan font-style="normal" font-size="11.5" dy="-8.0">n</tspan><tspan dy="8.0">​</tspan></text>
<text x="582" y="982.90">12p13.33</text>
<text x="701.2" y="982.90">rs2283274</text>
<text x="848" y="982.90">0.18</text>
<text x="1062.3" y="987.00" text-anchor="middle" font-style="italic" style="font-size:16.9px"><tspan>CACNA1C</tspan><tspan font-style="normal" font-size="11.5" dy="-8.0">n</tspan><tspan dy="8.0">​</tspan></text>
<text x="582" y="1003.40">12p12.2</text>
<text x="701.2" y="1003.40">rs10841486</text>
<text x="848" y="1003.40">0.22</text>
<text x="1062.3" y="1007.00" text-anchor="middle" font-style="italic" style="font-size:16.9px"><tspan>PDE3A</tspan><tspan font-style="normal" font-size="11.5" dy="-8.0">nd</tspan><tspan dy="8.0">​</tspan></text>
<text x="582" y="1026.20">12p12.1</text>
<text x="701.2" y="1026.20">rs4963772</text>
<text x="848" y="1026.20">0.15</text>
<text x="1062.3" y="1030.50" text-anchor="middle" font-style="italic" style="font-size:16.9px"><tspan>SOX5</tspan><tspan font-style="normal" font-size="11.5" dy="-8.0">n</tspan><tspan dy="8.0">​</tspan></text>
<text x="582" y="1046.80">12p11.22</text>
<text x="701.2" y="1046.80">rs1050288</text>
<text x="848" y="1046.80">0.34</text>
<text x="1062.3" y="1050.50" text-anchor="middle" font-style="italic" style="font-size:16.9px"><tspan>KLHL42</tspan><tspan font-style="normal" font-size="11.5" dy="-8.0">n</tspan><tspan dy="8.0">​</tspan></text>
<text x="582" y="1070.20">12p11.1</text>
<text x="701.2" y="1070.20">rs1994135</text>
<text x="848" y="1070.20">0.47</text>
<text x="1062.3" y="1073.00" text-anchor="middle" font-style="italic" style="font-size:16.9px"><tspan>SYT10</tspan><tspan font-style="normal" font-size="11.5" dy="-8.0">n</tspan><tspan dy="8.0">​</tspan></text>
<text x="582" y="1090.00">12q11</text>
<text x="701.2" y="1090.00">rs11183443</text>
<text x="848" y="1090.00">0.13</text>
<text x="1062.3" y="1094.50" text-anchor="middle" font-style="italic" style="font-size:16.9px"><tspan>ALG10</tspan><tspan font-style="normal" font-size="11.5" dy="-8.0">n</tspan><tspan dy="8.0">​</tspan></text>
<text x="582" y="1110.60">12q14.2</text>
<text x="701.2" y="1110.60">rs867400</text>
<text x="848" y="1110.60">0.43</text>
<text x="1062.3" y="1114.50" text-anchor="middle" font-style="italic" style="font-size:16.9px"><tspan>RASSF3</tspan><tspan font-style="normal" font-size="11.5" dy="-8.0">nd</tspan><tspan dy="8.0">​</tspan></text>
<text x="582" y="1132.60">12q21.31</text>
<text x="701.2" y="1132.60">rs12579753</text>
<text x="848" y="1132.60">0.23</text>
<text x="1062.3" y="1137.50" text-anchor="middle" font-style="italic" style="font-size:16.9px"><tspan>PPFIA2</tspan><tspan font-style="normal" font-size="11.5" dy="-8.0">ne</tspan><tspan dy="8.0">​</tspan></text>
<text x="582" y="1153.80">14q11.2</text>
<text x="701.2" y="1153.80">rs12889267</text>
<text x="848" y="1153.80">0.16</text>
<text x="1062.3" y="1157.50" text-anchor="middle" font-style="italic" style="font-size:16.9px"><tspan>NDRG2</tspan><tspan font-style="normal" font-size="11.5" dy="-8.0">n</tspan><tspan dy="8.0">​</tspan><tspan font-style="normal">; </tspan><tspan>ARHGEF40</tspan><tspan font-style="normal" font-size="11.5" dy="-8.0">ncd</tspan><tspan dy="8.0">​</tspan><tspan font-style="normal">; </tspan><tspan>ZNF219</tspan><tspan font-style="normal" font-size="11.5" dy="-8.0">d</tspan><tspan dy="8.0">​</tspan></text>
<text x="582" y="1176.50">14q11.2</text>
<text x="701.2" y="1176.50">rs422068</text>
<text x="848" y="1176.50">0.36</text>
<text x="1062.3" y="1180.00" text-anchor="middle" font-style="italic" style="font-size:16.9px"><tspan>MYH6</tspan><tspan font-style="normal" font-size="11.5" dy="-8.0">nd</tspan><tspan dy="8.0">​</tspan><tspan font-style="normal">; </tspan><tspan>MYH7</tspan><tspan font-style="normal" font-size="11.5" dy="-8.0">d</tspan><tspan dy="8.0">​</tspan></text>
<text x="582" y="1197.10">14q24.2</text>
<text x="701.2" y="1197.10">rs17180489</text>
<text x="848" y="1197.10">0.14</text>
<text x="1062.3" y="1201.25" text-anchor="middle" font-style="italic" style="font-size:16.9px"><tspan>RGS6</tspan><tspan font-style="normal" font-size="11.5" dy="-8.0">n</tspan><tspan dy="8.0">​</tspan></text>
<text x="582" y="1217.80">14q24.3</text>
<text x="701.2" y="1217.80">rs1549118</text>
<text x="848" y="1217.80">0.28</text>
<text x="1062.3" y="1220.50" text-anchor="middle" font-style="italic" style="font-size:16.9px"><tspan>ADCK1</tspan><tspan font-style="normal" font-size="11.5" dy="-8.0">n</tspan><tspan dy="8.0">​</tspan></text>
<text x="582" y="1240.30">14q31.3</text>
<text x="701.2" y="1240.30">rs17201923</text>
<text x="848" y="1240.30">0.28</text>
<text x="1062.3" y="1244.25" text-anchor="middle" font-style="italic" style="font-size:16.9px"><tspan>FLRT2</tspan><tspan font-style="normal" font-size="11.5" dy="-8.0">n</tspan><tspan dy="8.0">​</tspan></text>
<text x="582" y="1261.20">14q32.11</text>
<text x="701.2" y="1261.20">rs4900069</text>
<text x="848" y="1261.20">0.37</text>
<text x="1062.3" y="1264.50" text-anchor="middle" font-style="italic" style="font-size:16.9px"><tspan>C14orf159</tspan><tspan font-style="normal" font-size="11.5" dy="-8.0">n</tspan><tspan dy="8.0">​</tspan></text>
<text x="582" y="1283.80">15q24.1</text>
<text x="701.2" y="1283.80">rs7173389</text>
<text x="848" y="1283.80">0.16</text>
<text x="1062.3" y="1287.50" text-anchor="middle" font-style="italic" style="font-size:16.9px"><tspan>HCN4</tspan><tspan font-style="normal" font-size="11.5" dy="-8.0">n</tspan><tspan dy="8.0">​</tspan><tspan font-style="normal">; </tspan><tspan>NEO1</tspan><tspan font-style="normal" font-size="11.5" dy="-8.0">d</tspan><tspan dy="8.0">​</tspan></text>
<text x="582" y="1304.40">16p13.11</text>
<text x="701.2" y="1304.40">rs3915499</text>
<text x="848" y="1304.40">0.32</text>
<text x="1062.3" y="1307.50" text-anchor="middle" font-style="italic" style="font-size:16.9px"><tspan>MYH11</tspan><tspan font-style="normal" font-size="11.5" dy="-8.0">nd</tspan><tspan dy="8.0">​</tspan></text>
<text x="582" y="1324.50">16q21</text>
<text x="701.2" y="1324.50">rs7194801</text>
<text x="848" y="1324.50">0.43</text>
<text x="1062.3" y="1328.00" text-anchor="middle" font-style="italic" style="font-size:16.9px"><tspan>CDH11</tspan><tspan font-style="normal" font-size="11.5" dy="-8.0">n</tspan><tspan dy="8.0">​</tspan></text>
<text x="582" y="1347.90">17p12</text>
<text x="701.2" y="1347.90">rs79121763</text>
<text x="848" y="1347.90">0.09</text>
<text x="1062.3" y="1350.75" text-anchor="middle" font-style="italic" style="font-size:16.9px"><tspan>TEKT3</tspan><tspan font-style="normal" font-size="11.5" dy="-8.0">n</tspan><tspan dy="8.0">​</tspan><tspan font-style="normal">; </tspan><tspan>PMP22</tspan><tspan font-style="normal" font-size="11.5" dy="-8.0">d</tspan><tspan dy="8.0">​</tspan></text>
<text x="582" y="1367.70">18q12.1</text>
<text x="701.2" y="1367.70">rs11083258</text>
<text x="848" y="1367.70">0.17</text>
<text x="1062.3" y="1371.25" text-anchor="middle" font-style="italic" style="font-size:16.9px"><tspan>CDH2</tspan><tspan font-style="normal" font-size="11.5" dy="-8.0">nd</tspan><tspan dy="8.0">​</tspan></text>
<text x="582" y="1390.50">18q12.2</text>
<text x="701.2" y="1390.50">rs61735998</text>
<text x="848" y="1390.50">0.02</text>
<text x="1062.3" y="1393.75" text-anchor="middle" font-style="italic" style="font-size:16.9px"><tspan>FHOD3</tspan><tspan font-style="normal" font-size="11.5" dy="-8.0">ncd</tspan><tspan dy="8.0">​</tspan></text>
<text x="582" y="1411.70">19q13.2</text>
<text x="701.2" y="1411.70">rs16974196</text>
<text x="848" y="1411.70">0.32</text>
<text x="1062.3" y="1414.50" text-anchor="middle" font-style="italic" style="font-size:16.9px"><tspan>C19orf47</tspan><tspan font-style="normal" font-size="11.5" dy="-8.0">nd</tspan><tspan dy="8.0">​</tspan><tspan font-style="normal">; </tspan><tspan>MAP3K10</tspan><tspan font-style="normal" font-size="11.5" dy="-8.0">e</tspan><tspan dy="8.0">​</tspan></text>
<text x="582" y="1434.50">19q13.32</text>
<text x="701.2" y="1434.50">rs12721051</text>
<text x="848" y="1434.50">0.18</text>
<text x="1062.3" y="1437.00" text-anchor="middle" font-style="italic" style="font-size:16.9px"><tspan>APOE</tspan><tspan font-style="normal" font-size="11.5" dy="-8.0">n</tspan><tspan dy="8.0">​</tspan><tspan font-style="normal">; </tspan><tspan>APOC1</tspan><tspan font-style="normal" font-size="11.5" dy="-8.0">n</tspan><tspan dy="8.0">​</tspan><tspan font-style="normal">; </tspan><tspan>PVRL2</tspan><tspan font-style="normal" font-size="11.5" dy="-8.0">d</tspan><tspan dy="8.0">​</tspan></text>
<text x="582" y="1455.10">20q11.23</text>
<text x="701.2" y="1455.10">rs6123471</text>
<text x="848" y="1455.10">0.46</text>
<text x="1062.3" y="1457.50" text-anchor="middle" font-style="italic" style="font-size:16.9px"><tspan>KIAA1755</tspan><tspan font-style="normal" font-size="11.5" dy="-8.0">nc</tspan><tspan dy="8.0">​</tspan></text>
<text x="582" y="1474.90">20q12</text>
<text x="701.2" y="1474.90">rs17265513</text>
<text x="848" y="1474.90">0.19</text>
<text x="1062.3" y="1478.00" text-anchor="middle" font-style="italic" style="font-size:16.9px"><tspan>ZHX3</tspan><tspan font-style="normal" font-size="11.5" dy="-8.0">nc</tspan><tspan dy="8.0">​</tspan><tspan font-style="normal">; </tspan><tspan>EMILIN3</tspan><tspan font-style="normal" font-size="11.5" dy="-8.0">d</tspan><tspan dy="8.0">​</tspan></text>
<text x="582" y="1497.80">22q13.1</text>
<text x="701.2" y="1497.80">rs2076028</text>
<text x="848" y="1497.80">0.29</text>
<text x="1062.3" y="1500.75" text-anchor="middle" font-style="italic" style="font-size:16.9px"><tspan>SUN2</tspan><tspan font-style="italic" font-size="11.5" dy="-8.0">n</tspan><tspan dy="8.0">​</tspan><tspan font-style="italic">; </tspan><tspan>CBY1</tspan><tspan font-style="normal" font-size="11.5" dy="-8.0">e</tspan><tspan dy="8.0">​</tspan><tspan font-style="normal">; </tspan><tspan>FAM227A</tspan><tspan font-style="normal" font-size="11.5" dy="-8.0">e</tspan><tspan dy="8.0">​</tspan><tspan font-style="normal">; </tspan><tspan>JOSD1</tspan><tspan font-style="normal" font-size="11.5" dy="-8.0">e</tspan><tspan dy="8.0">​</tspan></text>
<text x="1062.3" y="1520.00" text-anchor="middle" font-style="italic" style="font-size:16.9px"><tspan>TOMM22</tspan><tspan font-style="normal" font-size="11.5" dy="-8.0">e</tspan><tspan dy="8.0">​</tspan><tspan font-style="normal">; </tspan><tspan>DDX17</tspan><tspan font-style="normal" font-size="11.5" dy="-8.0">d</tspan><tspan dy="8.0">​</tspan><tspan font-style="normal">; </tspan><tspan>GTPBP1</tspan><tspan font-style="normal" font-size="11.5" dy="-8.0">d</tspan><tspan dy="8.0">​</tspan></text>
</svg></body></html>
